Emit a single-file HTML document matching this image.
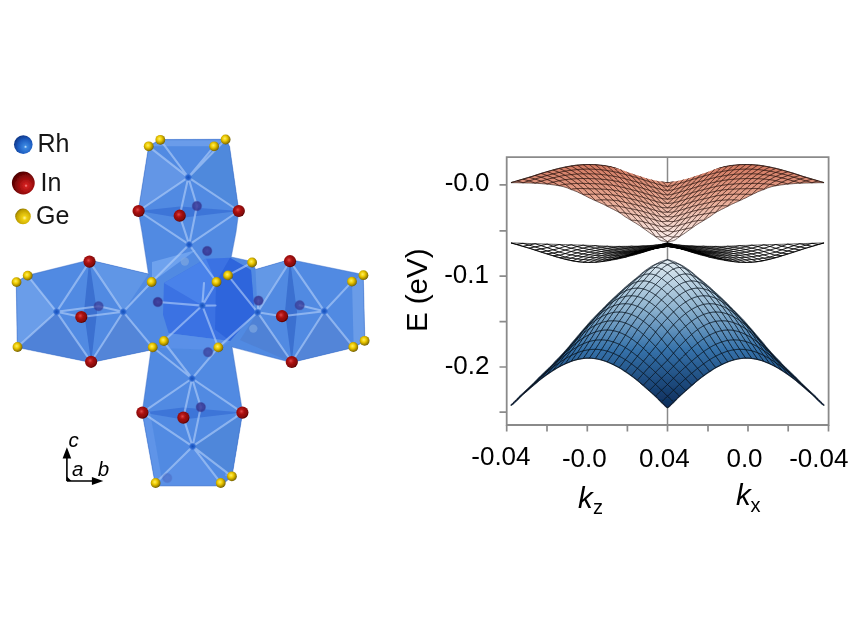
<!DOCTYPE html><html><head><meta charset="utf-8"><style>
html,body{margin:0;padding:0;background:#fff;width:858px;height:643px;overflow:hidden}
svg{display:block;font-family:"Liberation Sans",sans-serif}
</style></head><body>
<svg width="858" height="643" viewBox="0 0 858 643">
<defs><filter id="soft" x="0" y="0" width="858" height="643" filterUnits="userSpaceOnUse"><feGaussianBlur stdDeviation="0.45"/></filter></defs>
<rect width="858" height="643" fill="#fff"/>
<g filter="url(#soft)">
<defs>
<radialGradient id="ge" cx="0.42" cy="0.4" r="0.65"><stop offset="0" stop-color="#fff060"/><stop offset="0.4" stop-color="#ecc800"/><stop offset="0.85" stop-color="#8c7400"/><stop offset="1" stop-color="#504200"/></radialGradient>
<radialGradient id="in" cx="0.42" cy="0.4" r="0.65"><stop offset="0" stop-color="#e04848"/><stop offset="0.3" stop-color="#b01414"/><stop offset="0.75" stop-color="#850808"/><stop offset="1" stop-color="#460000"/></radialGradient>
<radialGradient id="inl" cx="0.62" cy="0.62" r="0.72"><stop offset="0" stop-color="#ff9090"/><stop offset="0.1" stop-color="#d02020"/><stop offset="0.5" stop-color="#960a0a"/><stop offset="1" stop-color="#3a0000"/></radialGradient>
<radialGradient id="rh" cx="0.62" cy="0.62" r="0.72"><stop offset="0" stop-color="#d0ecff"/><stop offset="0.12" stop-color="#3a86e0"/><stop offset="0.55" stop-color="#1d5cc0"/><stop offset="1" stop-color="#0a2c78"/></radialGradient>
<radialGradient id="gel" cx="0.6" cy="0.6" r="0.72"><stop offset="0" stop-color="#fff8a0"/><stop offset="0.2" stop-color="#f0d010"/><stop offset="0.7" stop-color="#c0a000"/><stop offset="1" stop-color="#6a5a00"/></radialGradient>
<radialGradient id="rhs" cx="0.5" cy="0.5" r="0.5"><stop offset="0" stop-color="#1850b8"/><stop offset="0.6" stop-color="#2a66d0"/><stop offset="1" stop-color="#2a66d0" stop-opacity="0.3"/></radialGradient>
<radialGradient id="pur" cx="0.5" cy="0.5" r="0.5"><stop offset="0" stop-color="#4040a0"/><stop offset="0.75" stop-color="#35358f"/><stop offset="1" stop-color="#35358f" stop-opacity="0.2"/></radialGradient>
<filter id="blur1" x="-20%" y="-20%" width="140%" height="140%"><feGaussianBlur stdDeviation="0.6"/></filter>
</defs><g filter="url(#blur1)"><path d="M148.7,146.3 160.3,139.6 225.6,139.3 229.5,146.5 238.8,211 236,232 231.2,257 251.8,261.5 255.5,269.5 289.9,259.5 363.2,274.5 364.8,341 353.7,347.5 291.6,362.5 232,347 242.6,412.6 231.9,476.5 220.7,485.8 155.6,485.8 142.2,412.6 151,350 91.2,362.5 17.3,347.3 16.3,282.1 27.7,275.3 89.3,260 148.5,274 142,232 138.3,211Z" fill="#518ae2" /><path d="M148.7,146.3 160.3,139.6 225.6,139.3 214,146.3Z" fill="#6a9cea" /><path d="M148.7,146.3 188.3,177.4 138.6,211Z" fill="#6396e6" /><path d="M225.6,139.3 229.5,146.5 238.8,211 188.3,177.4Z" fill="#5089dc" /><path d="M138.6,211 180,206.5 238.8,211 180,218Z" fill="#3e74d8" /><path d="M16.3,282.1 27.7,275.3 56.6,311.8 17.3,347.3Z" fill="#6a9de9" /><path d="M17.3,347.3 56.6,311.8 91.2,362.5Z" fill="#4f82d8" /><path d="M89.3,260 84,312 91.2,362.5 97,312Z" fill="#3a6fd0" /><path d="M91.2,362.5 123.2,311.8 151,350Z" fill="#5285d8" /><path d="M89.3,260 148.5,274 123.2,311.8Z" fill="#6196e6" /><path d="M352,281.6 363.2,274.5 364.8,341 353.7,347.5Z" fill="#6a9ce8" /><path d="M290,259.5 285,312 291.8,362.5 297,312Z" fill="#3a6fd0" /><path d="M291.8,362.5 324.3,311.2 353.7,347.5Z" fill="#5285d8" /><path d="M240,340 257.6,312.3 291.8,362.5Z" fill="#5082d6" /><path d="M255.5,269.5 290,259.5 257.6,312.3Z" fill="#6498e6" /><path d="M142.4,412.6 183,407.5 242.4,412.6 183,419.5Z" fill="#3e74d8" /><path d="M155.6,485.8 192.6,446.4 220.7,485.8Z" fill="#5a90e6" /><path d="M231.9,476.5 242.6,412.6 236,412 225,476Z" fill="#6a9cec" /><path d="M142.2,412.6 155.6,485.8 162,480 150,412Z" fill="#5e94e8" /><path d="M231.9,476.5 242.6,412.6 192.6,446.4Z" fill="#5087da" /><path d="M164,283 206,258.7 230,257.7 251,270 254.5,312.8 230,341 168.7,333.3 163,314.7Z" fill="#3b72e3" /><path d="M216,282 230,257.7 251,270 254.5,312.8 230,341 215,329.6Z" fill="#2f65dc" /><path d="M164,283 206,258.7 216,282 202.3,305.6Z" fill="#4a82ea" /><path d="M152,262 196,250 152,282Z" fill="#6ea2ee" /><path d="M168.7,333.3 230,341 218,350 160,348Z" fill="#5a90e8" /><path d="M148.7,146.3 160.3,139.6 225.6,139.3 229.5,146.5 238.8,211 236,232 231.2,257 251.8,261.5 255.5,269.5 289.9,259.5 363.2,274.5 364.8,341 353.7,347.5 291.6,362.5 232,347 242.6,412.6 231.9,476.5 220.7,485.8 155.6,485.8 142.2,412.6 151,350 91.2,362.5 17.3,347.3 16.3,282.1 27.7,275.3 89.3,260 148.5,274 142,232 138.3,211Z" fill="none" stroke="#3f6fc8" stroke-opacity="0.45" stroke-width="1.2" stroke-linejoin="round"/></g><path d="M188.3,177.4L148.7,146.3M188.3,177.4L160.3,139.8M188.3,177.4L214.1,146.3M188.3,177.4L225.6,139.5M188.3,177.4L138.6,211M188.3,177.4L179.7,215.7M188.3,177.4L238.8,211M188.3,177.4L196.9,206M189.2,244.6L138.6,211M189.2,244.6L179.7,215.7M189.2,244.6L238.8,211M189.2,244.6L151.6,282M189.2,244.6L216.5,282M189.2,244.6L196.9,206M202.3,305.6L216.5,282M202.3,305.6L163.9,341M202.3,305.6L157.8,302M202.3,305.6L218.3,347.4M202.3,305.6L204,283M202.3,305.6L215.5,305.5M189.2,244.6L151.6,282M189.2,244.6L216.5,282M151.6,282L189.2,244.6M216.5,282L189.2,244.6M218.3,347.4L257.6,312.3M228,275.4L257.6,312.3M252.1,262.5L228,275.4M56.6,311.8L27.7,275.6M56.6,311.8L17.5,347M56.6,311.8L89.5,261.6M56.6,311.8L81.3,317M56.6,311.8L91.1,361.8M56.6,311.8L98.6,306.2M123.2,311.8L89.5,261.6M123.2,311.8L81.3,317M123.2,311.8L91.1,361.8M123.2,311.8L151.6,282M123.2,311.8L152.7,347.3M123.2,311.8L98.6,306.2M257.6,312.3L290,261.2M257.6,312.3L282,316.2M257.6,312.3L291.8,362M257.6,312.3L218.3,347.4M257.6,312.3L258.5,300.6M324.3,311.2L290,261.2M324.3,311.2L282,316.2M324.3,311.2L291.8,362M324.3,311.2L352,281.6M324.3,311.2L353.3,347M324.3,311.2L299.7,305.2M192.1,378.5L152.7,347.3M192.1,378.5L164.3,342.5M192.1,378.5L218.3,347.4M192.1,378.5L142.4,412.6M192.1,378.5L183.4,417.6M192.1,378.5L242.4,412.6M192.1,378.5L200.8,407.1M192.6,446.4L142.4,412.6M192.6,446.4L183.4,417.6M192.6,446.4L242.4,412.6M192.6,446.4L155.6,483M192.6,446.4L220.7,483M192.6,446.4L231.9,476.3M192.6,446.4L200.8,407.1" stroke="#b4d0fa" stroke-opacity="0.6" stroke-width="2.1" stroke-linecap="round" fill="none" filter="url(#blur1)"/><circle cx="196.9" cy="206" r="5.4" fill="url(#pur)" opacity="0.85"/><circle cx="207.2" cy="251" r="5.4" fill="url(#pur)" opacity="0.9"/><circle cx="157.8" cy="302" r="5.4" fill="url(#pur)" opacity="0.95"/><circle cx="258.5" cy="300.6" r="5.4" fill="url(#pur)" opacity="0.85"/><circle cx="208" cy="352.2" r="5.4" fill="url(#pur)" opacity="0.7"/><circle cx="98.6" cy="306.2" r="5.4" fill="url(#pur)" opacity="0.7"/><circle cx="299.7" cy="305.2" r="5.4" fill="url(#pur)" opacity="0.75"/><circle cx="200.8" cy="407.1" r="5.4" fill="url(#pur)" opacity="0.85"/><circle cx="167.3" cy="478" r="5.4" fill="url(#pur)" opacity="0.25"/><circle cx="184.8" cy="261.5" r="4.2" fill="#7ea6e0" fill-opacity="0.7"/><circle cx="253.3" cy="328.6" r="4.2" fill="#7ea6e0" fill-opacity="0.7"/><circle cx="188.3" cy="177.4" r="3.6" fill="url(#rhs)"/><circle cx="189.2" cy="244.6" r="3.6" fill="url(#rhs)"/><circle cx="202.3" cy="305.6" r="3.6" fill="url(#rhs)"/><circle cx="257.6" cy="312.3" r="3.6" fill="url(#rhs)"/><circle cx="56.6" cy="311.8" r="3.6" fill="url(#rhs)"/><circle cx="123.2" cy="311.8" r="3.6" fill="url(#rhs)"/><circle cx="324.3" cy="311.2" r="3.6" fill="url(#rhs)"/><circle cx="192.1" cy="378.5" r="3.6" fill="url(#rhs)"/><circle cx="192.6" cy="446.4" r="3.6" fill="url(#rhs)"/><circle cx="138.6" cy="211" r="6.1" fill="url(#in)"/><circle cx="179.7" cy="215.7" r="6.1" fill="url(#in)"/><circle cx="238.8" cy="211" r="6.1" fill="url(#in)"/><circle cx="89.5" cy="261.6" r="6.1" fill="url(#in)"/><circle cx="81.3" cy="317" r="6.1" fill="url(#in)"/><circle cx="91.1" cy="361.8" r="6.1" fill="url(#in)"/><circle cx="290" cy="261.2" r="6.1" fill="url(#in)"/><circle cx="282" cy="316.2" r="6.1" fill="url(#in)"/><circle cx="291.8" cy="362" r="6.1" fill="url(#in)"/><circle cx="142.4" cy="412.6" r="6.1" fill="url(#in)"/><circle cx="183.4" cy="417.6" r="6.1" fill="url(#in)"/><circle cx="242.4" cy="412.6" r="6.1" fill="url(#in)"/><circle cx="148.7" cy="146.3" r="4.9" fill="url(#ge)"/><circle cx="160.3" cy="139.8" r="4.9" fill="url(#ge)"/><circle cx="214.1" cy="146.3" r="4.9" fill="url(#ge)"/><circle cx="225.6" cy="139.5" r="4.9" fill="url(#ge)"/><circle cx="151.6" cy="282" r="4.9" fill="url(#ge)"/><circle cx="216.5" cy="282" r="4.9" fill="url(#ge)"/><circle cx="228" cy="275.4" r="4.9" fill="url(#ge)"/><circle cx="252.1" cy="262.5" r="4.9" fill="url(#ge)"/><circle cx="163.9" cy="341" r="4.9" fill="url(#ge)"/><circle cx="152.7" cy="347.3" r="4.9" fill="url(#ge)"/><circle cx="218.3" cy="347.4" r="4.9" fill="url(#ge)"/><circle cx="16.5" cy="282.1" r="4.9" fill="url(#ge)"/><circle cx="27.7" cy="275.6" r="4.9" fill="url(#ge)"/><circle cx="17.5" cy="347" r="4.9" fill="url(#ge)"/><circle cx="352" cy="281.6" r="4.9" fill="url(#ge)"/><circle cx="363.4" cy="275.2" r="4.9" fill="url(#ge)"/><circle cx="353.3" cy="347" r="4.9" fill="url(#ge)"/><circle cx="364.6" cy="340.8" r="4.9" fill="url(#ge)"/><circle cx="155.6" cy="483" r="4.9" fill="url(#ge)"/><circle cx="220.7" cy="483" r="4.9" fill="url(#ge)"/><circle cx="231.9" cy="476.3" r="4.9" fill="url(#ge)"/><circle cx="23.3" cy="144.6" r="9.3" fill="url(#rh)"/><circle cx="23.3" cy="183" r="11.4" fill="url(#inl)"/><circle cx="23" cy="216.4" r="7.8" fill="url(#gel)"/><text x="37.5" y="152.2" font-size="25" fill="#151515">Rh</text><text x="40.5" y="191.3" font-size="25" fill="#151515">In</text><text x="36" y="224.2" font-size="25" fill="#151515">Ge</text><path d="M66.9,481V457 M66.9,481H92" stroke="#000" stroke-width="1.6" fill="none"/><path d="M66.9,447.3L62.6,458.4H71.2Z M103.3,481L91.9,476.9V485.1Z M66.9,476.5L71.5,481H66.9Z" fill="#000"/><text x="68.5" y="447.3" font-size="20.5" font-style="italic">c</text><text x="72" y="476.2" font-size="20.5" font-style="italic">a</text><text x="97.8" y="476.2" font-size="20.5" font-style="italic">b</text>
<defs>
<linearGradient id="gc" x1="0" y1="164" x2="0" y2="242" gradientUnits="userSpaceOnUse">
<stop offset="0" stop-color="#d27860"/><stop offset="0.45" stop-color="#e8a892"/><stop offset="1" stop-color="#fbf2f0"/></linearGradient>
<linearGradient id="gm" x1="0" y1="240" x2="0" y2="262" gradientUnits="userSpaceOnUse">
<stop offset="0" stop-color="#ffffff"/><stop offset="1" stop-color="#ffffff"/></linearGradient>
<linearGradient id="gv" x1="0" y1="260" x2="0" y2="409" gradientUnits="userSpaceOnUse">
<stop offset="0" stop-color="#e2ecf2"/><stop offset="0.3" stop-color="#95b8d2"/><stop offset="0.6" stop-color="#3672aa"/><stop offset="1" stop-color="#0a2a58"/></linearGradient>
</defs><path d="M506.7,157.2H828.6V425H506.7Z" fill="none" stroke="#8a8a8a" stroke-width="1.8"/><path d="M667.5,157.2V425" stroke="#8a8a8a" stroke-width="1.5"/><path d="M499.5,184.9 H506.7M499.5,230.9 H506.7M499.5,276.2 H506.7M499.5,321.6 H506.7M499.5,367 H506.7M499.5,412.2 H506.7M506.7,425 V431.5M547,425 V431.5M587.3,425 V431.5M627.4,425 V431.5M667.5,425 V431.5M708,425 V431.5M748,425 V431.5M788.2,425 V431.5M828.5,425 V431.5" stroke="#8a8a8a" stroke-width="1.7"/><clipPath id="clgc"><path d="M500,150 L511,150 L513,150 L515,150 L517,150 L519,150 L521,150 L523,150 L525,150 L527.1,150 L529.1,150 L531.1,150 L533.1,150 L535.1,150 L537.1,150 L539.1,150 L541.1,150 L543.1,150 L545.1,150 L547.1,150 L549.1,150 L551.1,150 L553.1,150 L555.1,150 L557.1,150 L559.2,150 L561.2,150 L563.2,150 L565.2,150 L567.2,150 L569.2,150 L571.2,150 L573.2,150 L575.2,150 L577.2,150 L579.2,150 L581.2,150 L583.2,150 L585.2,150 L587.2,150 L589.2,150 L591.3,163.7 L593.3,163.8 L595.3,163.9 L597.3,164 L599.3,164.2 L601.3,164.4 L603.3,164.7 L605.3,165 L607.3,165.4 L609.3,165.8 L611.3,166.3 L613.3,166.9 L615.3,167.6 L617.3,168.3 L619.3,169.1 L621.4,169.8 L623.4,170.5 L625.4,171.3 L627.4,172 L629.4,172.7 L631.4,173.3 L633.4,174 L635.4,174.7 L637.4,175.3 L639.4,176 L641.4,176.6 L643.4,177.3 L645.4,178 L647.4,178.6 L649.4,179.1 L651.4,179.5 L653.5,180 L655.5,180.4 L657.5,180.9 L659.5,181.3 L661.5,181.6 L663.5,181.8 L665.5,182.1 L667.5,182.3 L669.5,182.1 L671.5,181.8 L673.5,181.6 L675.5,181.3 L677.5,180.9 L679.5,180.4 L681.5,180 L683.6,179.5 L685.6,179.1 L687.6,178.6 L689.6,178 L691.6,177.3 L693.6,176.6 L695.6,176 L697.6,175.3 L699.6,174.7 L701.6,174 L703.6,173.3 L705.6,172.7 L707.6,172 L709.6,171.3 L711.6,170.5 L713.6,169.8 L715.7,169.1 L717.7,168.3 L719.7,167.6 L721.7,166.9 L723.7,166.3 L725.7,165.8 L727.7,165.4 L729.7,165 L731.7,164.7 L733.7,164.4 L735.7,164.2 L737.7,164 L739.7,163.9 L741.7,163.8 L743.7,163.7 L745.8,150 L747.8,150 L749.8,150 L751.8,150 L753.8,150 L755.8,150 L757.8,150 L759.8,150 L761.8,150 L763.8,150 L765.8,150 L767.8,150 L769.8,150 L771.8,150 L773.8,150 L775.8,150 L777.9,150 L779.9,150 L781.9,150 L783.9,150 L785.9,150 L787.9,150 L789.9,150 L791.9,150 L793.9,150 L795.9,150 L797.9,150 L799.9,150 L801.9,150 L803.9,150 L805.9,150 L807.9,150 L810,150 L812,150 L814,150 L816,150 L818,150 L820,150 L822,150 L824,150 L835,150 L835,255 L500,255Z"/></clipPath><g clip-path="url(#clgc)"><path d="M511,182.5 513,181.9 515,181.4 517,180.8 519,180.1 521,179.6 523,179 525,178.4 527.1,177.8 529.1,177.2 531.1,176.6 533.1,176 535.1,175.3 537.1,174.6 539.1,174 541.1,173.3 543.1,172.7 545.1,172.2 547.1,171.6 549.1,171 551.1,170.5 553.1,169.9 555.1,169.3 557.1,168.8 559.2,168.3 561.2,167.9 563.2,167.4 565.2,167 567.2,166.6 569.2,166.3 571.2,165.9 573.2,165.6 575.2,165.3 577.2,165.1 579.2,164.9 581.2,164.8 583.2,164.6 585.2,164.6 587.2,164.5 589.2,164.5 591.3,164.5 593.3,164.6 595.3,164.6 597.3,164.8 599.3,164.9 601.3,165.1 603.3,165.3 605.3,165.6 607.3,165.9 609.3,166.3 611.3,166.6 613.3,167 615.3,167.4 617.3,167.9 619.3,168.3 621.4,168.8 623.4,169.3 625.4,169.9 627.4,170.5 629.4,171 631.4,171.6 633.4,172.2 635.4,172.7 637.4,173.3 639.4,173.9 641.4,174.5 643.4,175.3 645.4,175.9 647.4,176.5 649.4,177.1 651.4,177.8 653.5,178.4 655.5,179 657.5,179.6 659.5,180.1 661.5,180.8 663.5,181.4 665.5,181.9 667.5,182.5 669.5,181.9 671.5,181.4 673.5,180.8 675.5,180.1 677.5,179.6 679.5,179 681.5,178.4 683.6,177.8 685.6,177.1 687.6,176.5 689.6,175.9 691.6,175.3 693.6,174.5 695.6,173.9 697.6,173.3 699.6,172.7 701.6,172.2 703.6,171.6 705.6,171 707.6,170.5 709.6,169.9 711.6,169.3 713.6,168.8 715.7,168.3 717.7,167.9 719.7,167.4 721.7,167 723.7,166.6 725.7,166.3 727.7,165.9 729.7,165.6 731.7,165.3 733.7,165.1 735.7,164.9 737.7,164.8 739.7,164.6 741.7,164.6 743.7,164.5 745.8,164.5 747.8,164.5 749.8,164.6 751.8,164.6 753.8,164.8 755.8,164.9 757.8,165.1 759.8,165.3 761.8,165.6 763.8,165.9 765.8,166.3 767.8,166.6 769.8,167 771.8,167.4 773.8,167.9 775.8,168.3 777.9,168.8 779.9,169.3 781.9,169.9 783.9,170.5 785.9,171 787.9,171.6 789.9,172.2 791.9,172.7 793.9,173.3 795.9,174 797.9,174.6 799.9,175.3 801.9,176 803.9,176.6 805.9,177.2 807.9,177.8 810,178.4 812,179 814,179.6 816,180.1 818,180.8 820,181.4 822,181.9 824,182.5 824,182.7 822,182.7 820,182.7 818,182.7 816,182.8 814,182.8 812,182.9 810,182.9 807.9,183 805.9,183 803.9,183.1 801.9,183.2 799.9,183.2 797.9,183.3 795.9,183.5 793.9,183.6 791.9,183.8 789.9,183.9 787.9,184.1 785.9,184.3 783.9,184.6 781.9,184.8 779.9,185.1 777.9,185.5 775.8,185.7 773.8,186.2 771.8,186.6 769.8,187.3 767.8,187.8 765.8,188.7 763.8,189.6 761.8,190.2 759.8,191.1 757.8,191.8 755.8,192.9 753.8,193.7 751.8,194.8 749.8,195.7 747.8,196.8 745.8,197.9 743.7,198.7 741.7,199.8 739.7,200.6 737.7,201.6 735.7,202.4 733.7,203.4 731.7,204.2 729.7,205.3 727.7,206.4 725.7,207.3 723.7,208.4 721.7,209.3 719.7,210.4 717.7,211.4 715.7,212.6 713.6,213.9 711.6,215.5 709.6,216.9 707.6,218.1 705.6,219.4 703.6,220.5 701.6,221.8 699.6,222.9 697.6,224.2 695.6,225.4 693.6,226.9 691.6,228.3 689.6,229.7 687.6,231.2 685.6,232.6 683.6,234 681.5,235.3 679.5,236.7 677.5,238 675.5,239.7 673.5,240.7 671.5,241.1 669.5,241.4 667.5,241.5 665.5,241.4 663.5,241.1 661.5,240.7 659.5,239.7 657.5,238 655.5,236.7 653.5,235.3 651.4,234 649.4,232.6 647.4,231.2 645.4,229.7 643.4,228.3 641.4,226.9 639.4,225.4 637.4,224.2 635.4,222.9 633.4,221.8 631.4,220.5 629.4,219.4 627.4,218.1 625.4,216.9 623.4,215.5 621.4,213.9 619.3,212.6 617.3,211.4 615.3,210.4 613.3,209.3 611.3,208.4 609.3,207.3 607.3,206.4 605.3,205.3 603.3,204.2 601.3,203.4 599.3,202.4 597.3,201.6 595.3,200.6 593.3,199.8 591.3,198.7 589.2,197.9 587.2,196.8 585.2,195.7 583.2,194.8 581.2,193.7 579.2,192.9 577.2,191.8 575.2,191.1 573.2,190.2 571.2,189.6 569.2,188.7 567.2,187.8 565.2,187.3 563.2,186.6 561.2,186.2 559.2,185.7 557.1,185.5 555.1,185.1 553.1,184.8 551.1,184.6 549.1,184.3 547.1,184.1 545.1,183.9 543.1,183.8 541.1,183.6 539.1,183.5 537.1,183.3 535.1,183.2 533.1,183.2 531.1,183.1 529.1,183 527.1,183 525,182.9 523,182.9 521,182.8 519,182.8 517,182.7 515,182.7 513,182.7 511,182.7Z" fill="url(#gc)"/><path d="M511,182.7 511,182.7M824,182.7 824,182.7M523,182.8 522,182.4 521,182.1 520,181.8 519,181.5 518,181.2 517,180.9M812,182.8 813,182.4 814,182.1 815,181.8 816,181.5 817,181.2 818,180.9M535.1,183.2 534.1,182.7 533.1,182.3 532.1,182 531.1,181.6 530.1,181.2 529.1,180.9 528.1,180.6 527.1,180.3 526,180 525,179.7 524,179.4 523,179.2M799.9,183.2 800.9,182.7 801.9,182.3 802.9,182 803.9,181.6 804.9,181.2 805.9,180.9 806.9,180.6 807.9,180.3 809,180 810,179.7 811,179.4 812,179.2M547.1,184.1 546.1,183.5 545.1,183 544.1,182.5 543.1,182 542.1,181.6 541.1,181.2 540.1,180.8 539.1,180.4 538.1,180.1 537.1,179.7 536.1,179.4 535.1,179.1 534.1,178.7 533.1,178.4 532.1,178.2 531.1,177.9 530.1,177.6 529.1,177.3M787.9,184.1 788.9,183.5 789.9,183 790.9,182.5 791.9,182 792.9,181.6 793.9,181.2 794.9,180.8 795.9,180.4 796.9,180.1 797.9,179.7 798.9,179.4 799.9,179.1 800.9,178.7 801.9,178.4 802.9,178.2 803.9,177.9 804.9,177.6 805.9,177.3M559.2,185.7 558.2,185 557.1,184.4 556.1,183.9 555.1,183.2 554.1,182.7 553.1,182.2 552.1,181.8 551.1,181.2 550.1,180.8 549.1,180.4 548.1,179.9 547.1,179.5 546.1,179.1 545.1,178.7 544.1,178.3 543.1,177.9 542.1,177.6 541.1,177.2 540.1,176.9 539.1,176.6 538.1,176.3 537.1,176 536.1,175.7 535.1,175.5M775.8,185.7 776.8,185 777.9,184.4 778.9,183.9 779.9,183.2 780.9,182.7 781.9,182.2 782.9,181.8 783.9,181.2 784.9,180.8 785.9,180.4 786.9,179.9 787.9,179.5 788.9,179.1 789.9,178.7 790.9,178.3 791.9,177.9 792.9,177.6 793.9,177.2 794.9,176.9 795.9,176.6 796.9,176.3 797.9,176 798.9,175.7 799.9,175.5M571.2,189.3 570.2,188.4 569.2,187.3 568.2,186.6 567.2,185.9 566.2,184.9 565.2,184.3 564.2,183.7 563.2,183 562.2,182.3 561.2,181.8 560.2,181.3 559.2,180.8 558.2,180.2 557.1,179.8 556.1,179.3 555.1,178.8 554.1,178.3 553.1,177.9 552.1,177.5 551.1,177 550.1,176.6 549.1,176.3 548.1,175.9 547.1,175.5 546.1,175.2 545.1,174.8 544.1,174.5 543.1,174.1 542.1,173.8 541.1,173.5M763.8,189.3 764.8,188.4 765.8,187.3 766.8,186.6 767.8,185.9 768.8,184.9 769.8,184.3 770.8,183.7 771.8,183 772.8,182.3 773.8,181.8 774.8,181.3 775.8,180.8 776.8,180.2 777.9,179.8 778.9,179.3 779.9,178.8 780.9,178.3 781.9,177.9 782.9,177.5 783.9,177 784.9,176.6 785.9,176.3 786.9,175.9 787.9,175.5 788.9,175.2 789.9,174.8 790.9,174.5 791.9,174.1 792.9,173.8 793.9,173.5M583.2,194.5 582.2,193.4 581.2,192.4 580.2,191.3 579.2,190.4 578.2,189.5 577.2,188.7 576.2,187.7 575.2,186.9 574.2,186.2 573.2,185.2 572.2,184.5 571.2,183.8 570.2,183.1 569.2,182.3 568.2,181.6 567.2,181 566.2,180.2 565.2,179.6 564.2,179.1 563.2,178.5 562.2,177.9 561.2,177.4 560.2,176.9 559.2,176.5 558.2,176 557.1,175.6 556.1,175.1 555.1,174.7 554.1,174.3 553.1,173.9 552.1,173.5 551.1,173.1 550.1,172.7 549.1,172.4 548.1,172.1 547.1,171.7M751.8,194.5 752.8,193.4 753.8,192.4 754.8,191.3 755.8,190.4 756.8,189.5 757.8,188.7 758.8,187.7 759.8,186.9 760.8,186.2 761.8,185.2 762.8,184.5 763.8,183.8 764.8,183.1 765.8,182.3 766.8,181.6 767.8,181 768.8,180.2 769.8,179.6 770.8,179.1 771.8,178.5 772.8,177.9 773.8,177.4 774.8,176.9 775.8,176.5 776.8,176 777.9,175.6 778.9,175.1 779.9,174.7 780.9,174.3 781.9,173.9 782.9,173.5 783.9,173.1 784.9,172.7 785.9,172.4 786.9,172.1 787.9,171.7M595.3,200.5 594.3,199.2 593.3,198.2 592.3,197.3 591.3,196.1 590.3,195.2 589.2,194.3 588.2,193.4 587.2,192.3 586.2,191.4 585.2,190.5 584.2,189.4 583.2,188.5 582.2,187.7 581.2,186.9 580.2,185.8 579.2,185.1 578.2,184.3 577.2,183.5 576.2,182.6 575.2,181.9 574.2,181.2 573.2,180.4 572.2,179.7 571.2,179.1 570.2,178.4 569.2,177.7 568.2,177.1 567.2,176.5 566.2,175.9 565.2,175.3 564.2,174.8 563.2,174.3 562.2,173.8 561.2,173.3 560.2,172.8 559.2,172.4 558.2,172 557.1,171.6 556.1,171.1 555.1,170.8 554.1,170.4 553.1,170M739.7,200.5 740.7,199.2 741.7,198.2 742.7,197.3 743.7,196.1 744.7,195.2 745.8,194.3 746.8,193.4 747.8,192.3 748.8,191.4 749.8,190.5 750.8,189.4 751.8,188.5 752.8,187.7 753.8,186.9 754.8,185.8 755.8,185.1 756.8,184.3 757.8,183.5 758.8,182.6 759.8,181.9 760.8,181.2 761.8,180.4 762.8,179.7 763.8,179.1 764.8,178.4 765.8,177.7 766.8,177.1 767.8,176.5 768.8,175.9 769.8,175.3 770.8,174.8 771.8,174.3 772.8,173.8 773.8,173.3 774.8,172.8 775.8,172.4 776.8,172 777.9,171.6 778.9,171.1 779.9,170.8 780.9,170.4 781.9,170M607.3,206 606.3,205 605.3,203.7 604.3,202.8 603.3,201.8 602.3,200.9 601.3,199.8 600.3,198.8 599.3,198 598.3,196.9 597.3,196 596.3,195.1 595.3,194.3 594.3,193.2 593.3,192.4 592.3,191.5 591.3,190.4 590.3,189.6 589.2,188.7 588.2,187.9 587.2,186.9 586.2,186 585.2,185.2 584.2,184.2 583.2,183.4 582.2,182.6 581.2,181.8 580.2,180.9 579.2,180.1 578.2,179.4 577.2,178.7 576.2,177.9 575.2,177.2 574.2,176.6 573.2,175.8 572.2,175.2 571.2,174.6 570.2,174 569.2,173.3 568.2,172.8 567.2,172.2 566.2,171.7 565.2,171.1 564.2,170.7 563.2,170.2 562.2,169.7 561.2,169.3 560.2,168.9 559.2,168.4M727.7,206 728.7,205 729.7,203.7 730.7,202.8 731.7,201.8 732.7,200.9 733.7,199.8 734.7,198.8 735.7,198 736.7,196.9 737.7,196 738.7,195.1 739.7,194.3 740.7,193.2 741.7,192.4 742.7,191.5 743.7,190.4 744.7,189.6 745.8,188.7 746.8,187.9 747.8,186.9 748.8,186 749.8,185.2 750.8,184.2 751.8,183.4 752.8,182.6 753.8,181.8 754.8,180.9 755.8,180.1 756.8,179.4 757.8,178.7 758.8,177.9 759.8,177.2 760.8,176.6 761.8,175.8 762.8,175.2 763.8,174.6 764.8,174 765.8,173.3 766.8,172.8 767.8,172.2 768.8,171.7 769.8,171.1 770.8,170.7 771.8,170.2 772.8,169.7 773.8,169.3 774.8,168.9 775.8,168.4M619.3,212.3 618.3,211 617.3,210 616.3,208.8 615.3,207.8 614.3,206.8 613.3,205.9 612.3,204.7 611.3,203.8 610.3,202.8 609.3,201.7 608.3,200.8 607.3,199.9 606.3,199 605.3,197.9 604.3,197 603.3,196.1 602.3,195.3 601.3,194.2 600.3,193.3 599.3,192.5 598.3,191.4 597.3,190.6 596.3,189.7 595.3,188.9 594.3,187.9 593.3,187.1 592.3,186.2 591.3,185.2 590.3,184.4 589.2,183.6 588.2,182.8 587.2,181.8 586.2,181 585.2,180.2 584.2,179.3 583.2,178.5 582.2,177.7 581.2,177 580.2,176.2 579.2,175.4 578.2,174.7 577.2,174.1 576.2,173.3 575.2,172.7 574.2,172.1 573.2,171.4 572.2,170.8 571.2,170.3 570.2,169.7 569.2,169.1 568.2,168.6 567.2,168.1 566.2,167.6 565.2,167.1M715.7,212.3 716.7,211 717.7,210 718.7,208.8 719.7,207.8 720.7,206.8 721.7,205.9 722.7,204.7 723.7,203.8 724.7,202.8 725.7,201.7 726.7,200.8 727.7,199.9 728.7,199 729.7,197.9 730.7,197 731.7,196.1 732.7,195.3 733.7,194.2 734.7,193.3 735.7,192.5 736.7,191.4 737.7,190.6 738.7,189.7 739.7,188.9 740.7,187.9 741.7,187.1 742.7,186.2 743.7,185.2 744.7,184.4 745.8,183.6 746.8,182.8 747.8,181.8 748.8,181 749.8,180.2 750.8,179.3 751.8,178.5 752.8,177.7 753.8,177 754.8,176.2 755.8,175.4 756.8,174.7 757.8,174.1 758.8,173.3 759.8,172.7 760.8,172.1 761.8,171.4 762.8,170.8 763.8,170.3 764.8,169.7 765.8,169.1 766.8,168.6 767.8,168.1 768.8,167.6 769.8,167.1M631.4,220.3 630.4,218.9 629.4,217.9 628.4,216.7 627.4,215.4 626.4,214.3 625.4,213.1 624.4,212.1 623.4,210.8 622.4,209.7 621.4,208.5 620.3,207.5 619.3,206.2 618.3,205.2 617.3,204.2 616.3,203.1 615.3,202.2 614.3,201.2 613.3,200.3 612.3,199.2 611.3,198.4 610.3,197.4 609.3,196.3 608.3,195.5 607.3,194.5 606.3,193.7 605.3,192.6 604.3,191.8 603.3,190.9 602.3,190 601.3,189 600.3,188.1 599.3,187.3 598.3,186.3 597.3,185.5 596.3,184.6 595.3,183.8 594.3,182.8 593.3,182 592.3,181.2 591.3,180.2 590.3,179.4 589.2,178.6 588.2,177.8 587.2,176.9 586.2,176.2 585.2,175.4 584.2,174.5 583.2,173.8 582.2,173 581.2,172.3 580.2,171.6 579.2,170.9 578.2,170.2 577.2,169.6 576.2,168.9 575.2,168.3 574.2,167.7 573.2,167.1 572.2,166.5 571.2,166M703.6,220.3 704.6,218.9 705.6,217.9 706.6,216.7 707.6,215.4 708.6,214.3 709.6,213.1 710.6,212.1 711.6,210.8 712.6,209.7 713.6,208.5 714.7,207.5 715.7,206.2 716.7,205.2 717.7,204.2 718.7,203.1 719.7,202.2 720.7,201.2 721.7,200.3 722.7,199.2 723.7,198.4 724.7,197.4 725.7,196.3 726.7,195.5 727.7,194.5 728.7,193.7 729.7,192.6 730.7,191.8 731.7,190.9 732.7,190 733.7,189 734.7,188.1 735.7,187.3 736.7,186.3 737.7,185.5 738.7,184.6 739.7,183.8 740.7,182.8 741.7,182 742.7,181.2 743.7,180.2 744.7,179.4 745.8,178.6 746.8,177.8 747.8,176.9 748.8,176.2 749.8,175.4 750.8,174.5 751.8,173.8 752.8,173 753.8,172.3 754.8,171.6 755.8,170.9 756.8,170.2 757.8,169.6 758.8,168.9 759.8,168.3 760.8,167.7 761.8,167.1 762.8,166.5 763.8,166M643.4,227.8 642.4,226.6 641.4,225.2 640.4,224.1 639.4,222.9 638.4,221.9 637.4,220.6 636.4,219.5 635.4,218.5 634.4,217.3 633.4,216.3 632.4,215.2 631.4,214.2 630.4,213 629.4,212.1 628.4,210.9 627.4,209.7 626.4,208.7 625.4,207.6 624.4,206.6 623.4,205.3 622.4,204.3 621.4,203.2 620.3,202.2 619.3,201 618.3,200 617.3,199 616.3,197.9 615.3,197 614.3,196.1 613.3,195.2 612.3,194.1 611.3,193.2 610.3,192.3 609.3,191.3 608.3,190.4 607.3,189.5 606.3,188.6 605.3,187.6 604.3,186.7 603.3,185.8 602.3,185 601.3,184 600.3,183.1 599.3,182.3 598.3,181.3 597.3,180.5 596.3,179.7 595.3,178.8 594.3,177.9 593.3,177.1 592.3,176.3 591.3,175.4 590.3,174.6 589.2,173.8 588.2,173 587.2,172.2 586.2,171.4 585.2,170.7 584.2,169.9 583.2,169.2 582.2,168.5 581.2,167.8 580.2,167.1 579.2,166.4 578.2,165.8 577.2,165.2M691.6,227.8 692.6,226.6 693.6,225.2 694.6,224.1 695.6,222.9 696.6,221.9 697.6,220.6 698.6,219.5 699.6,218.5 700.6,217.3 701.6,216.3 702.6,215.2 703.6,214.2 704.6,213 705.6,212.1 706.6,210.9 707.6,209.7 708.6,208.7 709.6,207.6 710.6,206.6 711.6,205.3 712.6,204.3 713.6,203.2 714.7,202.2 715.7,201 716.7,200 717.7,199 718.7,197.9 719.7,197 720.7,196.1 721.7,195.2 722.7,194.1 723.7,193.2 724.7,192.3 725.7,191.3 726.7,190.4 727.7,189.5 728.7,188.6 729.7,187.6 730.7,186.7 731.7,185.8 732.7,185 733.7,184 734.7,183.1 735.7,182.3 736.7,181.3 737.7,180.5 738.7,179.7 739.7,178.8 740.7,177.9 741.7,177.1 742.7,176.3 743.7,175.4 744.7,174.6 745.8,173.8 746.8,173 747.8,172.2 748.8,171.4 749.8,170.7 750.8,169.9 751.8,169.2 752.8,168.5 753.8,167.8 754.8,167.1 755.8,166.4 756.8,165.8 757.8,165.2M655.5,236.4 654.5,235.2 653.5,233.9 652.5,232.5 651.4,231.4 650.4,230.1 649.4,229 648.4,227.7 647.4,226.6 646.4,225.3 645.4,224.3 644.4,223 643.4,221.7 642.4,220.7 641.4,219.5 640.4,218.5 639.4,217.3 638.4,216.3 637.4,215.1 636.4,214 635.4,213.1 634.4,211.9 633.4,210.9 632.4,209.9 631.4,208.9 630.4,207.8 629.4,206.8 628.4,205.7 627.4,204.5 626.4,203.6 625.4,202.5 624.4,201.5 623.4,200.3 622.4,199.2 621.4,198.1 620.3,197.1 619.3,196 618.3,195 617.3,194.1 616.3,193 615.3,192.1 614.3,191.1 613.3,190.2 612.3,189.2 611.3,188.3 610.3,187.4 609.3,186.4 608.3,185.5 607.3,184.6 606.3,183.7 605.3,182.7 604.3,181.9 603.3,181 602.3,180.1 601.3,179.1 600.3,178.3 599.3,177.4 598.3,176.5 597.3,175.7 596.3,174.9 595.3,174 594.3,173.2 593.3,172.3 592.3,171.5 591.3,170.7 590.3,169.9 589.2,169.1 588.2,168.4 587.2,167.6 586.2,166.8 585.2,166.1 584.2,165.4 583.2,164.7M679.5,236.4 680.5,235.2 681.5,233.9 682.5,232.5 683.6,231.4 684.6,230.1 685.6,229 686.6,227.7 687.6,226.6 688.6,225.3 689.6,224.3 690.6,223 691.6,221.7 692.6,220.7 693.6,219.5 694.6,218.5 695.6,217.3 696.6,216.3 697.6,215.1 698.6,214 699.6,213.1 700.6,211.9 701.6,210.9 702.6,209.9 703.6,208.9 704.6,207.8 705.6,206.8 706.6,205.7 707.6,204.5 708.6,203.6 709.6,202.5 710.6,201.5 711.6,200.3 712.6,199.2 713.6,198.1 714.7,197.1 715.7,196 716.7,195 717.7,194.1 718.7,193 719.7,192.1 720.7,191.1 721.7,190.2 722.7,189.2 723.7,188.3 724.7,187.4 725.7,186.4 726.7,185.5 727.7,184.6 728.7,183.7 729.7,182.7 730.7,181.9 731.7,181 732.7,180.1 733.7,179.1 734.7,178.3 735.7,177.4 736.7,176.5 737.7,175.7 738.7,174.9 739.7,174 740.7,173.2 741.7,172.3 742.7,171.5 743.7,170.7 744.7,169.9 745.8,169.1 746.8,168.4 747.8,167.6 748.8,166.8 749.8,166.1 750.8,165.4 751.8,164.7M667.5,241.5 666.5,240.8 665.5,240.2 664.5,239.5 663.5,238.8 662.5,238 661.5,237.1 660.5,236.2 659.5,234.9 658.5,233.9 657.5,232.6 656.5,231.5 655.5,230.3 654.5,229.3 653.5,228.1 652.5,226.8 651.4,225.8 650.4,224.5 649.4,223.5 648.4,222.2 647.4,221.2 646.4,220 645.4,218.9 644.4,217.7 643.4,216.5 642.4,215.5 641.4,214.3 640.4,213.3 639.4,212.2 638.4,211.2 637.4,210 636.4,208.9 635.4,208 634.4,206.9 633.4,205.9 632.4,204.8 631.4,203.9 630.4,202.8 629.4,201.8 628.4,200.7 627.4,199.6 626.4,198.6 625.4,197.5 624.4,196.5 623.4,195.4 622.4,194.4 621.4,193.3 620.3,192.3 619.3,191.2 618.3,190.2 617.3,189.2 616.3,188.2 615.3,187.3 614.3,186.3 613.3,185.4 612.3,184.4 611.3,183.5 610.3,182.6 609.3,181.6 608.3,180.7 607.3,179.8 606.3,178.9 605.3,178 604.3,177.1 603.3,176.2 602.3,175.3 601.3,174.4 600.3,173.6 599.3,172.7 598.3,171.8 597.3,171 596.3,170.1 595.3,169.3 594.3,168.5 593.3,167.7 592.3,166.9 591.3,166.1 590.3,165.3 589.2,164.5M667.5,241.5 668.5,240.8 669.5,240.2 670.5,239.5 671.5,238.8 672.5,238 673.5,237.1 674.5,236.2 675.5,234.9 676.5,233.9 677.5,232.6 678.5,231.5 679.5,230.3 680.5,229.3 681.5,228.1 682.5,226.8 683.6,225.8 684.6,224.5 685.6,223.5 686.6,222.2 687.6,221.2 688.6,220 689.6,218.9 690.6,217.7 691.6,216.5 692.6,215.5 693.6,214.3 694.6,213.3 695.6,212.2 696.6,211.2 697.6,210 698.6,208.9 699.6,208 700.6,206.9 701.6,205.9 702.6,204.8 703.6,203.9 704.6,202.8 705.6,201.8 706.6,200.7 707.6,199.6 708.6,198.6 709.6,197.5 710.6,196.5 711.6,195.4 712.6,194.4 713.6,193.3 714.7,192.3 715.7,191.2 716.7,190.2 717.7,189.2 718.7,188.2 719.7,187.3 720.7,186.3 721.7,185.4 722.7,184.4 723.7,183.5 724.7,182.6 725.7,181.6 726.7,180.7 727.7,179.8 728.7,178.9 729.7,178 730.7,177.1 731.7,176.2 732.7,175.3 733.7,174.4 734.7,173.6 735.7,172.7 736.7,171.8 737.7,171 738.7,170.1 739.7,169.3 740.7,168.5 741.7,167.7 742.7,166.9 743.7,166.1 744.7,165.3 745.8,164.5M679.5,236.4 678.5,236.6 677.5,236.5 676.5,236.8 675.5,236.9 674.5,237.2 673.5,237.1 672.5,237 671.5,236.9 670.5,236.6 669.5,236.3 668.5,236 667.5,235.6 666.5,235.1 665.5,234.5 664.5,233.9 663.5,233.2 662.5,232.4 661.5,231.6 660.5,230.7 659.5,229.5 658.5,228.4 657.5,227.2 656.5,226.2 655.5,225 654.5,224 653.5,222.8 652.5,221.6 651.4,220.6 650.4,219.4 649.4,218.4 648.4,217.1 647.4,216.1 646.4,214.9 645.4,213.9 644.4,212.7 643.4,211.5 642.4,210.5 641.4,209.3 640.4,208.3 639.4,207.3 638.4,206.3 637.4,205.1 636.4,204.1 635.4,203.1 634.4,202 633.4,201 632.4,200 631.4,199 630.4,197.9 629.4,196.9 628.4,195.9 627.4,194.8 626.4,193.8 625.4,192.7 624.4,191.7 623.4,190.6 622.4,189.6 621.4,188.6 620.3,187.6 619.3,186.5 618.3,185.5 617.3,184.5 616.3,183.5 615.3,182.6 614.3,181.7 613.3,180.7 612.3,179.8 611.3,178.8 610.3,177.9 609.3,177 608.3,176 607.3,175.2 606.3,174.2 605.3,173.3 604.3,172.4 603.3,171.6 602.3,170.7 601.3,169.7 600.3,168.9 599.3,168 598.3,167.2 597.3,166.3 596.3,165.5 595.3,164.7M655.5,236.4 656.5,236.6 657.5,236.5 658.5,236.8 659.5,236.9 660.5,237.2 661.5,237.1 662.5,237 663.5,236.9 664.5,236.6 665.5,236.3 666.5,236 667.5,235.6 668.5,235.1 669.5,234.5 670.5,233.9 671.5,233.2 672.5,232.4 673.5,231.6 674.5,230.7 675.5,229.5 676.5,228.4 677.5,227.2 678.5,226.2 679.5,225 680.5,224 681.5,222.8 682.5,221.6 683.6,220.6 684.6,219.4 685.6,218.4 686.6,217.1 687.6,216.1 688.6,214.9 689.6,213.9 690.6,212.7 691.6,211.5 692.6,210.5 693.6,209.3 694.6,208.3 695.6,207.3 696.6,206.3 697.6,205.1 698.6,204.1 699.6,203.1 700.6,202 701.6,201 702.6,200 703.6,199 704.6,197.9 705.6,196.9 706.6,195.9 707.6,194.8 708.6,193.8 709.6,192.7 710.6,191.7 711.6,190.6 712.6,189.6 713.6,188.6 714.7,187.6 715.7,186.5 716.7,185.5 717.7,184.5 718.7,183.5 719.7,182.6 720.7,181.7 721.7,180.7 722.7,179.8 723.7,178.8 724.7,177.9 725.7,177 726.7,176 727.7,175.2 728.7,174.2 729.7,173.3 730.7,172.4 731.7,171.6 732.7,170.7 733.7,169.7 734.7,168.9 735.7,168 736.7,167.2 737.7,166.3 738.7,165.5 739.7,164.7M691.6,227.8 690.6,227.9 689.6,228.2 688.6,228.3 687.6,228.6 686.6,228.7 685.6,229 684.6,229.1 683.6,229.4 682.5,229.5 681.5,229.9 680.5,230.2 679.5,230.3 678.5,230.6 677.5,230.7 676.5,231.1 675.5,231.2 674.5,231.5 673.5,231.6 672.5,231.6 671.5,231.5 670.5,231.3 669.5,231.1 668.5,230.9 667.5,230.6 666.5,230 665.5,229.4 664.5,228.8 663.5,228.1 662.5,227.3 661.5,226.4 660.5,225.5 659.5,224.4 658.5,223.3 657.5,222.1 656.5,221.1 655.5,220 654.5,219 653.5,217.8 652.5,216.6 651.4,215.6 650.4,214.5 649.4,213.4 648.4,212.2 647.4,211.2 646.4,210.1 645.4,209 644.4,207.8 643.4,206.7 642.4,205.7 641.4,204.6 640.4,203.6 639.4,202.5 638.4,201.5 637.4,200.4 636.4,199.3 635.4,198.3 634.4,197.3 633.4,196.3 632.4,195.3 631.4,194.3 630.4,193.2 629.4,192.2 628.4,191.1 627.4,190.1 626.4,189.1 625.4,188.1 624.4,187 623.4,186 622.4,184.9 621.4,183.9 620.3,182.9 619.3,181.8 618.3,180.9 617.3,179.9 616.3,179 615.3,178 614.3,177.1 613.3,176.1 612.3,175.2 611.3,174.2 610.3,173.3 609.3,172.4 608.3,171.4 607.3,170.6 606.3,169.6 605.3,168.7 604.3,167.8 603.3,167 602.3,166.1 601.3,165.2M643.4,227.8 644.4,227.9 645.4,228.2 646.4,228.3 647.4,228.6 648.4,228.7 649.4,229 650.4,229.1 651.4,229.4 652.5,229.5 653.5,229.9 654.5,230.2 655.5,230.3 656.5,230.6 657.5,230.7 658.5,231.1 659.5,231.2 660.5,231.5 661.5,231.6 662.5,231.6 663.5,231.5 664.5,231.3 665.5,231.1 666.5,230.9 667.5,230.6 668.5,230 669.5,229.4 670.5,228.8 671.5,228.1 672.5,227.3 673.5,226.4 674.5,225.5 675.5,224.4 676.5,223.3 677.5,222.1 678.5,221.1 679.5,220 680.5,219 681.5,217.8 682.5,216.6 683.6,215.6 684.6,214.5 685.6,213.4 686.6,212.2 687.6,211.2 688.6,210.1 689.6,209 690.6,207.8 691.6,206.7 692.6,205.7 693.6,204.6 694.6,203.6 695.6,202.5 696.6,201.5 697.6,200.4 698.6,199.3 699.6,198.3 700.6,197.3 701.6,196.3 702.6,195.3 703.6,194.3 704.6,193.2 705.6,192.2 706.6,191.1 707.6,190.1 708.6,189.1 709.6,188.1 710.6,187 711.6,186 712.6,184.9 713.6,183.9 714.7,182.9 715.7,181.8 716.7,180.9 717.7,179.9 718.7,179 719.7,178 720.7,177.1 721.7,176.1 722.7,175.2 723.7,174.2 724.7,173.3 725.7,172.4 726.7,171.4 727.7,170.6 728.7,169.6 729.7,168.7 730.7,167.8 731.7,167 732.7,166.1 733.7,165.2M703.6,220.3 702.6,220.2 701.6,220.3 700.6,220.2 699.6,220.5 698.6,220.4 697.6,220.6 696.6,220.9 695.6,221 694.6,221.2 693.6,221.3 692.6,221.6 691.6,221.7 690.6,222.1 689.6,222.5 688.6,222.6 687.6,222.9 686.6,223.1 685.6,223.5 684.6,223.7 683.6,224 682.5,224.2 681.5,224.5 680.5,224.9 679.5,225 678.5,225.3 677.5,225.5 676.5,225.9 675.5,226 674.5,226.3 673.5,226.4 672.5,226.4 671.5,226.4 670.5,226.3 669.5,226.2 668.5,226 667.5,225.8 666.5,225.2 665.5,224.5 664.5,223.9 663.5,223.1 662.5,222.3 661.5,221.5 660.5,220.6 659.5,219.4 658.5,218.4 657.5,217.3 656.5,216.3 655.5,215.1 654.5,214.1 653.5,213 652.5,211.8 651.4,210.8 650.4,209.7 649.4,208.6 648.4,207.5 647.4,206.5 646.4,205.3 645.4,204.3 644.4,203.1 643.4,202 642.4,201 641.4,199.9 640.4,198.9 639.4,197.8 638.4,196.8 637.4,195.7 636.4,194.7 635.4,193.7 634.4,192.6 633.4,191.6 632.4,190.6 631.4,189.6 630.4,188.6 629.4,187.6 628.4,186.5 627.4,185.5 626.4,184.5 625.4,183.5 624.4,182.4 623.4,181.4 622.4,180.4 621.4,179.4 620.3,178.4 619.3,177.3 618.3,176.4 617.3,175.4 616.3,174.4 615.3,173.5 614.3,172.6 613.3,171.6 612.3,170.7 611.3,169.7 610.3,168.7 609.3,167.9 608.3,166.9 607.3,166M631.4,220.3 632.4,220.2 633.4,220.3 634.4,220.2 635.4,220.5 636.4,220.4 637.4,220.6 638.4,220.9 639.4,221 640.4,221.2 641.4,221.3 642.4,221.6 643.4,221.7 644.4,222.1 645.4,222.5 646.4,222.6 647.4,222.9 648.4,223.1 649.4,223.5 650.4,223.7 651.4,224 652.5,224.2 653.5,224.5 654.5,224.9 655.5,225 656.5,225.3 657.5,225.5 658.5,225.9 659.5,226 660.5,226.3 661.5,226.4 662.5,226.4 663.5,226.4 664.5,226.3 665.5,226.2 666.5,226 667.5,225.8 668.5,225.2 669.5,224.5 670.5,223.9 671.5,223.1 672.5,222.3 673.5,221.5 674.5,220.6 675.5,219.4 676.5,218.4 677.5,217.3 678.5,216.3 679.5,215.1 680.5,214.1 681.5,213 682.5,211.8 683.6,210.8 684.6,209.7 685.6,208.6 686.6,207.5 687.6,206.5 688.6,205.3 689.6,204.3 690.6,203.1 691.6,202 692.6,201 693.6,199.9 694.6,198.9 695.6,197.8 696.6,196.8 697.6,195.7 698.6,194.7 699.6,193.7 700.6,192.6 701.6,191.6 702.6,190.6 703.6,189.6 704.6,188.6 705.6,187.6 706.6,186.5 707.6,185.5 708.6,184.5 709.6,183.5 710.6,182.4 711.6,181.4 712.6,180.4 713.6,179.4 714.7,178.4 715.7,177.3 716.7,176.4 717.7,175.4 718.7,174.4 719.7,173.5 720.7,172.6 721.7,171.6 722.7,170.7 723.7,169.7 724.7,168.7 725.7,167.9 726.7,166.9 727.7,166M715.7,212.3 714.7,212.5 713.6,212.4 712.6,212.7 711.6,212.7 710.6,213.1 709.6,213.1 708.6,213.3 707.6,213.4 706.6,213.7 705.6,213.9 704.6,213.9 703.6,214.2 702.6,214.3 701.6,214.5 700.6,214.5 699.6,214.8 698.6,214.9 697.6,215.1 696.6,215.5 695.6,215.6 694.6,215.8 693.6,216 692.6,216.3 691.6,216.5 690.6,216.8 689.6,217.2 688.6,217.4 687.6,217.8 686.6,218 685.6,218.4 684.6,218.6 683.6,218.9 682.5,219.1 681.5,219.5 680.5,219.8 679.5,220 678.5,220.3 677.5,220.5 676.5,220.9 675.5,221.1 674.5,221.4 673.5,221.5 672.5,221.5 671.5,221.5 670.5,221.5 669.5,221.4 668.5,221.3 667.5,221.1 666.5,220.5 665.5,219.8 664.5,219.1 663.5,218.4 662.5,217.6 661.5,216.7 660.5,215.7 659.5,214.7 658.5,213.6 657.5,212.5 656.5,211.5 655.5,210.4 654.5,209.4 653.5,208.3 652.5,207.1 651.4,206.1 650.4,205 649.4,204 648.4,202.8 647.4,201.8 646.4,200.7 645.4,199.7 644.4,198.5 643.4,197.4 642.4,196.4 641.4,195.3 640.4,194.3 639.4,193.3 638.4,192.3 637.4,191.1 636.4,190.1 635.4,189.1 634.4,188.1 633.4,187.1 632.4,186.1 631.4,185.1 630.4,184 629.4,183 628.4,181.9 627.4,180.9 626.4,179.9 625.4,178.9 624.4,177.9 623.4,176.9 622.4,175.9 621.4,174.9 620.3,173.9 619.3,172.8 618.3,171.9 617.3,170.9 616.3,170 615.3,169 614.3,168.1 613.3,167.1M619.3,212.3 620.3,212.5 621.4,212.4 622.4,212.7 623.4,212.7 624.4,213.1 625.4,213.1 626.4,213.3 627.4,213.4 628.4,213.7 629.4,213.9 630.4,213.9 631.4,214.2 632.4,214.3 633.4,214.5 634.4,214.5 635.4,214.8 636.4,214.9 637.4,215.1 638.4,215.5 639.4,215.6 640.4,215.8 641.4,216 642.4,216.3 643.4,216.5 644.4,216.8 645.4,217.2 646.4,217.4 647.4,217.8 648.4,218 649.4,218.4 650.4,218.6 651.4,218.9 652.5,219.1 653.5,219.5 654.5,219.8 655.5,220 656.5,220.3 657.5,220.5 658.5,220.9 659.5,221.1 660.5,221.4 661.5,221.5 662.5,221.5 663.5,221.5 664.5,221.5 665.5,221.4 666.5,221.3 667.5,221.1 668.5,220.5 669.5,219.8 670.5,219.1 671.5,218.4 672.5,217.6 673.5,216.7 674.5,215.7 675.5,214.7 676.5,213.6 677.5,212.5 678.5,211.5 679.5,210.4 680.5,209.4 681.5,208.3 682.5,207.1 683.6,206.1 684.6,205 685.6,204 686.6,202.8 687.6,201.8 688.6,200.7 689.6,199.7 690.6,198.5 691.6,197.4 692.6,196.4 693.6,195.3 694.6,194.3 695.6,193.3 696.6,192.3 697.6,191.1 698.6,190.1 699.6,189.1 700.6,188.1 701.6,187.1 702.6,186.1 703.6,185.1 704.6,184 705.6,183 706.6,181.9 707.6,180.9 708.6,179.9 709.6,178.9 710.6,177.9 711.6,176.9 712.6,175.9 713.6,174.9 714.7,173.9 715.7,172.8 716.7,171.9 717.7,170.9 718.7,170 719.7,169 720.7,168.1 721.7,167.1M727.7,206 726.7,205.9 725.7,205.7 724.7,205.8 723.7,205.8 722.7,205.7 721.7,205.9 720.7,205.8 719.7,205.9 718.7,205.8 717.7,206.1 716.7,206.1 715.7,206.2 714.7,206.6 713.6,206.7 712.6,207 711.6,207.1 710.6,207.5 709.6,207.6 708.6,207.8 707.6,208 706.6,208.3 705.6,208.5 704.6,208.6 703.6,208.9 702.6,209 701.6,209.2 700.6,209.4 699.6,209.7 698.6,209.8 697.6,210 696.6,210.4 695.6,210.5 694.6,210.8 693.6,211 692.6,211.3 691.6,211.5 690.6,211.8 689.6,212.3 688.6,212.5 687.6,212.8 686.6,213 685.6,213.4 684.6,213.7 683.6,214 682.5,214.2 681.5,214.6 680.5,214.9 679.5,215.1 678.5,215.5 677.5,215.7 676.5,216 675.5,216.2 674.5,216.5 673.5,216.7 672.5,216.8 671.5,216.8 670.5,216.8 669.5,216.7 668.5,216.7 667.5,216.6 666.5,215.9 665.5,215.2 664.5,214.5 663.5,213.7 662.5,212.9 661.5,212 660.5,211 659.5,210 658.5,209 657.5,207.8 656.5,206.8 655.5,205.8 654.5,204.8 653.5,203.6 652.5,202.5 651.4,201.5 650.4,200.4 649.4,199.4 648.4,198.3 647.4,197.2 646.4,196.2 645.4,195.1 644.4,194 643.4,192.9 642.4,191.9 641.4,190.8 640.4,189.8 639.4,188.8 638.4,187.7 637.4,186.6 636.4,185.6 635.4,184.6 634.4,183.6 633.4,182.6 632.4,181.6 631.4,180.5 630.4,179.5 629.4,178.5 628.4,177.4 627.4,176.5 626.4,175.4 625.4,174.5 624.4,173.4 623.4,172.4 622.4,171.4 621.4,170.5 620.3,169.4 619.3,168.4M607.3,206 608.3,205.9 609.3,205.7 610.3,205.8 611.3,205.8 612.3,205.7 613.3,205.9 614.3,205.8 615.3,205.9 616.3,205.8 617.3,206.1 618.3,206.1 619.3,206.2 620.3,206.6 621.4,206.7 622.4,207 623.4,207.1 624.4,207.5 625.4,207.6 626.4,207.8 627.4,208 628.4,208.3 629.4,208.5 630.4,208.6 631.4,208.9 632.4,209 633.4,209.2 634.4,209.4 635.4,209.7 636.4,209.8 637.4,210 638.4,210.4 639.4,210.5 640.4,210.8 641.4,211 642.4,211.3 643.4,211.5 644.4,211.8 645.4,212.3 646.4,212.5 647.4,212.8 648.4,213 649.4,213.4 650.4,213.7 651.4,214 652.5,214.2 653.5,214.6 654.5,214.9 655.5,215.1 656.5,215.5 657.5,215.7 658.5,216 659.5,216.2 660.5,216.5 661.5,216.7 662.5,216.8 663.5,216.8 664.5,216.8 665.5,216.7 666.5,216.7 667.5,216.6 668.5,215.9 669.5,215.2 670.5,214.5 671.5,213.7 672.5,212.9 673.5,212 674.5,211 675.5,210 676.5,209 677.5,207.8 678.5,206.8 679.5,205.8 680.5,204.8 681.5,203.6 682.5,202.5 683.6,201.5 684.6,200.4 685.6,199.4 686.6,198.3 687.6,197.2 688.6,196.2 689.6,195.1 690.6,194 691.6,192.9 692.6,191.9 693.6,190.8 694.6,189.8 695.6,188.8 696.6,187.7 697.6,186.6 698.6,185.6 699.6,184.6 700.6,183.6 701.6,182.6 702.6,181.6 703.6,180.5 704.6,179.5 705.6,178.5 706.6,177.4 707.6,176.5 708.6,175.4 709.6,174.5 710.6,173.4 711.6,172.4 712.6,171.4 713.6,170.5 714.7,169.4 715.7,168.4M739.7,200.5 738.7,200.2 737.7,200.1 736.7,199.9 735.7,200 734.7,199.8 733.7,199.8 732.7,199.9 731.7,199.8 730.7,199.8 729.7,199.8 728.7,199.9 727.7,199.9 726.7,199.9 725.7,199.9 724.7,200.1 723.7,200.1 722.7,200.1 721.7,200.3 720.7,200.3 719.7,200.4 718.7,200.5 717.7,200.7 716.7,200.8 715.7,201 714.7,201.3 713.6,201.5 712.6,201.7 711.6,201.9 710.6,202.3 709.6,202.5 708.6,202.7 707.6,202.9 706.6,203.2 705.6,203.4 704.6,203.6 703.6,203.9 702.6,204 701.6,204.3 700.6,204.4 699.6,204.7 698.6,204.9 697.6,205.1 696.6,205.5 695.6,205.7 694.6,205.9 693.6,206.1 692.6,206.5 691.6,206.7 690.6,207 689.6,207.5 688.6,207.7 687.6,208 686.6,208.3 685.6,208.6 684.6,208.9 683.6,209.2 682.5,209.5 681.5,209.8 680.5,210.2 679.5,210.4 678.5,210.7 677.5,210.9 676.5,211.3 675.5,211.5 674.5,211.8 673.5,212 672.5,212.1 671.5,212.2 670.5,212.2 669.5,212.2 668.5,212.2 667.5,212.1 666.5,211.5 665.5,210.7 664.5,210 663.5,209.1 662.5,208.3 661.5,207.4 660.5,206.4 659.5,205.4 658.5,204.3 657.5,203.3 656.5,202.2 655.5,201.2 654.5,200.2 653.5,199.1 652.5,198 651.4,196.9 650.4,195.9 649.4,194.8 648.4,193.8 647.4,192.7 646.4,191.7 645.4,190.6 644.4,189.5 643.4,188.5 642.4,187.4 641.4,186.4 640.4,185.3 639.4,184.3 638.4,183.3 637.4,182.2 636.4,181.2 635.4,180.2 634.4,179.2 633.4,178.1 632.4,177.1 631.4,176.1 630.4,175.1 629.4,174.1 628.4,173 627.4,172 626.4,171 625.4,170M595.3,200.5 596.3,200.2 597.3,200.1 598.3,199.9 599.3,200 600.3,199.8 601.3,199.8 602.3,199.9 603.3,199.8 604.3,199.8 605.3,199.8 606.3,199.9 607.3,199.9 608.3,199.9 609.3,199.9 610.3,200.1 611.3,200.1 612.3,200.1 613.3,200.3 614.3,200.3 615.3,200.4 616.3,200.5 617.3,200.7 618.3,200.8 619.3,201 620.3,201.3 621.4,201.5 622.4,201.7 623.4,201.9 624.4,202.3 625.4,202.5 626.4,202.7 627.4,202.9 628.4,203.2 629.4,203.4 630.4,203.6 631.4,203.9 632.4,204 633.4,204.3 634.4,204.4 635.4,204.7 636.4,204.9 637.4,205.1 638.4,205.5 639.4,205.7 640.4,205.9 641.4,206.1 642.4,206.5 643.4,206.7 644.4,207 645.4,207.5 646.4,207.7 647.4,208 648.4,208.3 649.4,208.6 650.4,208.9 651.4,209.2 652.5,209.5 653.5,209.8 654.5,210.2 655.5,210.4 656.5,210.7 657.5,210.9 658.5,211.3 659.5,211.5 660.5,211.8 661.5,212 662.5,212.1 663.5,212.2 664.5,212.2 665.5,212.2 666.5,212.2 667.5,212.1 668.5,211.5 669.5,210.7 670.5,210 671.5,209.1 672.5,208.3 673.5,207.4 674.5,206.4 675.5,205.4 676.5,204.3 677.5,203.3 678.5,202.2 679.5,201.2 680.5,200.2 681.5,199.1 682.5,198 683.6,196.9 684.6,195.9 685.6,194.8 686.6,193.8 687.6,192.7 688.6,191.7 689.6,190.6 690.6,189.5 691.6,188.5 692.6,187.4 693.6,186.4 694.6,185.3 695.6,184.3 696.6,183.3 697.6,182.2 698.6,181.2 699.6,180.2 700.6,179.2 701.6,178.1 702.6,177.1 703.6,176.1 704.6,175.1 705.6,174.1 706.6,173 707.6,172 708.6,171 709.6,170M751.8,194.5 750.8,194.2 749.8,194.4 748.8,194.3 747.8,194.2 746.8,194.4 745.8,194.3 744.7,194.2 743.7,194.1 742.7,194.3 741.7,194.2 740.7,194.1 739.7,194.3 738.7,194.2 737.7,194.2 736.7,194.1 735.7,194.2 734.7,194.2 733.7,194.2 732.7,194.4 731.7,194.3 730.7,194.4 729.7,194.4 728.7,194.5 727.7,194.5 726.7,194.6 725.7,194.6 724.7,194.8 723.7,194.9 722.7,195 721.7,195.2 720.7,195.2 719.7,195.4 718.7,195.4 717.7,195.7 716.7,195.8 715.7,196 714.7,196.3 713.6,196.5 712.6,196.8 711.6,197 710.6,197.3 709.6,197.5 708.6,197.8 707.6,198 706.6,198.3 705.6,198.5 704.6,198.7 703.6,199 702.6,199.2 701.6,199.4 700.6,199.6 699.6,199.9 698.6,200.1 697.6,200.4 696.6,200.7 695.6,200.9 694.6,201.2 693.6,201.4 692.6,201.8 691.6,202 690.6,202.3 689.6,202.8 688.6,203 687.6,203.3 686.6,203.6 685.6,204 684.6,204.2 683.6,204.6 682.5,204.8 681.5,205.2 680.5,205.5 679.5,205.8 678.5,206.1 677.5,206.3 676.5,206.6 675.5,206.9 674.5,207.2 673.5,207.4 672.5,207.5 671.5,207.6 670.5,207.7 669.5,207.7 668.5,207.8 667.5,207.8 666.5,207.1 665.5,206.3 664.5,205.5 663.5,204.6 662.5,203.7 661.5,202.8 660.5,201.9 659.5,200.8 658.5,199.8 657.5,198.8 656.5,197.7 655.5,196.7 654.5,195.7 653.5,194.6 652.5,193.5 651.4,192.5 650.4,191.4 649.4,190.4 648.4,189.3 647.4,188.3 646.4,187.3 645.4,186.2 644.4,185.1 643.4,184.1 642.4,183 641.4,182 640.4,180.9 639.4,180 638.4,178.9 637.4,177.8 636.4,176.8 635.4,175.8 634.4,174.8 633.4,173.7 632.4,172.8 631.4,171.7M583.2,194.5 584.2,194.2 585.2,194.4 586.2,194.3 587.2,194.2 588.2,194.4 589.2,194.3 590.3,194.2 591.3,194.1 592.3,194.3 593.3,194.2 594.3,194.1 595.3,194.3 596.3,194.2 597.3,194.2 598.3,194.1 599.3,194.2 600.3,194.2 601.3,194.2 602.3,194.4 603.3,194.3 604.3,194.4 605.3,194.4 606.3,194.5 607.3,194.5 608.3,194.6 609.3,194.6 610.3,194.8 611.3,194.9 612.3,195 613.3,195.2 614.3,195.2 615.3,195.4 616.3,195.4 617.3,195.7 618.3,195.8 619.3,196 620.3,196.3 621.4,196.5 622.4,196.8 623.4,197 624.4,197.3 625.4,197.5 626.4,197.8 627.4,198 628.4,198.3 629.4,198.5 630.4,198.7 631.4,199 632.4,199.2 633.4,199.4 634.4,199.6 635.4,199.9 636.4,200.1 637.4,200.4 638.4,200.7 639.4,200.9 640.4,201.2 641.4,201.4 642.4,201.8 643.4,202 644.4,202.3 645.4,202.8 646.4,203 647.4,203.3 648.4,203.6 649.4,204 650.4,204.2 651.4,204.6 652.5,204.8 653.5,205.2 654.5,205.5 655.5,205.8 656.5,206.1 657.5,206.3 658.5,206.6 659.5,206.9 660.5,207.2 661.5,207.4 662.5,207.5 663.5,207.6 664.5,207.7 665.5,207.7 666.5,207.8 667.5,207.8 668.5,207.1 669.5,206.3 670.5,205.5 671.5,204.6 672.5,203.7 673.5,202.8 674.5,201.9 675.5,200.8 676.5,199.8 677.5,198.8 678.5,197.7 679.5,196.7 680.5,195.7 681.5,194.6 682.5,193.5 683.6,192.5 684.6,191.4 685.6,190.4 686.6,189.3 687.6,188.3 688.6,187.3 689.6,186.2 690.6,185.1 691.6,184.1 692.6,183 693.6,182 694.6,180.9 695.6,180 696.6,178.9 697.6,177.8 698.6,176.8 699.6,175.8 700.6,174.8 701.6,173.7 702.6,172.8 703.6,171.7M763.8,189.3 762.8,189 761.8,188.8 760.8,188.9 759.8,188.7 758.8,188.6 757.8,188.7 756.8,188.6 755.8,188.5 754.8,188.4 753.8,188.6 752.8,188.5 751.8,188.5 750.8,188.5 749.8,188.7 748.8,188.7 747.8,188.6 746.8,188.8 745.8,188.7 744.7,188.7 743.7,188.7 742.7,188.8 741.7,188.8 740.7,188.7 739.7,188.9 738.7,188.9 737.7,188.9 736.7,188.8 735.7,189 734.7,189 733.7,189 732.7,189.2 731.7,189.2 730.7,189.2 729.7,189.3 728.7,189.4 727.7,189.5 726.7,189.6 725.7,189.6 724.7,189.8 723.7,189.9 722.7,190 721.7,190.2 720.7,190.3 719.7,190.5 718.7,190.6 717.7,190.8 716.7,191 715.7,191.2 714.7,191.5 713.6,191.7 712.6,192 711.6,192.2 710.6,192.5 709.6,192.7 708.6,193 707.6,193.2 706.6,193.5 705.6,193.8 704.6,194 703.6,194.3 702.6,194.5 701.6,194.7 700.6,194.9 699.6,195.2 698.6,195.5 697.6,195.7 696.6,196.1 695.6,196.3 694.6,196.6 693.6,196.8 692.6,197.2 691.6,197.4 690.6,197.7 689.6,198.1 688.6,198.4 687.6,198.7 686.6,199 685.6,199.4 684.6,199.7 683.6,200 682.5,200.3 681.5,200.6 680.5,200.9 679.5,201.2 678.5,201.5 677.5,201.8 676.5,202.1 675.5,202.3 674.5,202.6 673.5,202.8 672.5,203 671.5,203.1 670.5,203.3 669.5,203.3 668.5,203.4 667.5,203.4 666.5,202.7 665.5,201.9 664.5,201.1 663.5,200.2 662.5,199.3 661.5,198.4 660.5,197.4 659.5,196.4 658.5,195.3 657.5,194.3 656.5,193.3 655.5,192.3 654.5,191.2 653.5,190.1 652.5,189.1 651.4,188 650.4,187 649.4,186 648.4,184.9 647.4,183.9 646.4,182.9 645.4,181.8 644.4,180.7 643.4,179.7 642.4,178.6 641.4,177.7 640.4,176.6 639.4,175.6 638.4,174.5 637.4,173.5M571.2,189.3 572.2,189 573.2,188.8 574.2,188.9 575.2,188.7 576.2,188.6 577.2,188.7 578.2,188.6 579.2,188.5 580.2,188.4 581.2,188.6 582.2,188.5 583.2,188.5 584.2,188.5 585.2,188.7 586.2,188.7 587.2,188.6 588.2,188.8 589.2,188.7 590.3,188.7 591.3,188.7 592.3,188.8 593.3,188.8 594.3,188.7 595.3,188.9 596.3,188.9 597.3,188.9 598.3,188.8 599.3,189 600.3,189 601.3,189 602.3,189.2 603.3,189.2 604.3,189.2 605.3,189.3 606.3,189.4 607.3,189.5 608.3,189.6 609.3,189.6 610.3,189.8 611.3,189.9 612.3,190 613.3,190.2 614.3,190.3 615.3,190.5 616.3,190.6 617.3,190.8 618.3,191 619.3,191.2 620.3,191.5 621.4,191.7 622.4,192 623.4,192.2 624.4,192.5 625.4,192.7 626.4,193 627.4,193.2 628.4,193.5 629.4,193.8 630.4,194 631.4,194.3 632.4,194.5 633.4,194.7 634.4,194.9 635.4,195.2 636.4,195.5 637.4,195.7 638.4,196.1 639.4,196.3 640.4,196.6 641.4,196.8 642.4,197.2 643.4,197.4 644.4,197.7 645.4,198.1 646.4,198.4 647.4,198.7 648.4,199 649.4,199.4 650.4,199.7 651.4,200 652.5,200.3 653.5,200.6 654.5,200.9 655.5,201.2 656.5,201.5 657.5,201.8 658.5,202.1 659.5,202.3 660.5,202.6 661.5,202.8 662.5,203 663.5,203.1 664.5,203.3 665.5,203.3 666.5,203.4 667.5,203.4 668.5,202.7 669.5,201.9 670.5,201.1 671.5,200.2 672.5,199.3 673.5,198.4 674.5,197.4 675.5,196.4 676.5,195.3 677.5,194.3 678.5,193.3 679.5,192.3 680.5,191.2 681.5,190.1 682.5,189.1 683.6,188 684.6,187 685.6,186 686.6,184.9 687.6,183.9 688.6,182.9 689.6,181.8 690.6,180.7 691.6,179.7 692.6,178.6 693.6,177.7 694.6,176.6 695.6,175.6 696.6,174.5 697.6,173.5M775.8,185.7 774.8,185.3 773.8,185 772.8,184.8 771.8,184.7 770.8,184.5 769.8,184.3 768.8,184.1 767.8,184.2 766.8,184 765.8,183.9 764.8,183.9 763.8,183.8 762.8,183.7 761.8,183.6 760.8,183.7 759.8,183.5 758.8,183.4 757.8,183.5 756.8,183.4 755.8,183.4 754.8,183.3 753.8,183.5 752.8,183.4 751.8,183.4 750.8,183.3 749.8,183.5 748.8,183.5 747.8,183.5 746.8,183.6 745.8,183.6 744.7,183.6 743.7,183.5 742.7,183.7 741.7,183.7 740.7,183.7 739.7,183.8 738.7,183.8 737.7,183.8 736.7,183.8 735.7,183.9 734.7,184 733.7,184 732.7,184.2 731.7,184.2 730.7,184.3 729.7,184.3 728.7,184.5 727.7,184.6 726.7,184.7 725.7,184.8 724.7,185 723.7,185.1 722.7,185.2 721.7,185.4 720.7,185.6 719.7,185.7 718.7,185.9 717.7,186.1 716.7,186.3 715.7,186.5 714.7,186.8 713.6,187 712.6,187.3 711.6,187.5 710.6,187.8 709.6,188.1 708.6,188.3 707.6,188.5 706.6,188.8 705.6,189.1 704.6,189.3 703.6,189.6 702.6,189.9 701.6,190.1 700.6,190.4 699.6,190.6 698.6,190.9 697.6,191.1 696.6,191.5 695.6,191.8 694.6,192 693.6,192.3 692.6,192.6 691.6,192.9 690.6,193.2 689.6,193.6 688.6,193.9 687.6,194.2 686.6,194.5 685.6,194.8 684.6,195.1 683.6,195.4 682.5,195.8 681.5,196.1 680.5,196.4 679.5,196.7 678.5,197 677.5,197.3 676.5,197.6 675.5,197.9 674.5,198.1 673.5,198.4 672.5,198.5 671.5,198.7 670.5,198.9 669.5,199 668.5,199.1 667.5,199.2 666.5,198.4 665.5,197.6 664.5,196.7 663.5,195.8 662.5,194.9 661.5,193.9 660.5,192.9 659.5,191.9 658.5,190.9 657.5,189.9 656.5,188.9 655.5,187.9 654.5,186.8 653.5,185.7 652.5,184.7 651.4,183.7 650.4,182.7 649.4,181.6 648.4,180.6 647.4,179.5 646.4,178.5 645.4,177.5 644.4,176.4 643.4,175.4M559.2,185.7 560.2,185.3 561.2,185 562.2,184.8 563.2,184.7 564.2,184.5 565.2,184.3 566.2,184.1 567.2,184.2 568.2,184 569.2,183.9 570.2,183.9 571.2,183.8 572.2,183.7 573.2,183.6 574.2,183.7 575.2,183.5 576.2,183.4 577.2,183.5 578.2,183.4 579.2,183.4 580.2,183.3 581.2,183.5 582.2,183.4 583.2,183.4 584.2,183.3 585.2,183.5 586.2,183.5 587.2,183.5 588.2,183.6 589.2,183.6 590.3,183.6 591.3,183.5 592.3,183.7 593.3,183.7 594.3,183.7 595.3,183.8 596.3,183.8 597.3,183.8 598.3,183.8 599.3,183.9 600.3,184 601.3,184 602.3,184.2 603.3,184.2 604.3,184.3 605.3,184.3 606.3,184.5 607.3,184.6 608.3,184.7 609.3,184.8 610.3,185 611.3,185.1 612.3,185.2 613.3,185.4 614.3,185.6 615.3,185.7 616.3,185.9 617.3,186.1 618.3,186.3 619.3,186.5 620.3,186.8 621.4,187 622.4,187.3 623.4,187.5 624.4,187.8 625.4,188.1 626.4,188.3 627.4,188.5 628.4,188.8 629.4,189.1 630.4,189.3 631.4,189.6 632.4,189.9 633.4,190.1 634.4,190.4 635.4,190.6 636.4,190.9 637.4,191.1 638.4,191.5 639.4,191.8 640.4,192 641.4,192.3 642.4,192.6 643.4,192.9 644.4,193.2 645.4,193.6 646.4,193.9 647.4,194.2 648.4,194.5 649.4,194.8 650.4,195.1 651.4,195.4 652.5,195.8 653.5,196.1 654.5,196.4 655.5,196.7 656.5,197 657.5,197.3 658.5,197.6 659.5,197.9 660.5,198.1 661.5,198.4 662.5,198.5 663.5,198.7 664.5,198.9 665.5,199 666.5,199.1 667.5,199.2 668.5,198.4 669.5,197.6 670.5,196.7 671.5,195.8 672.5,194.9 673.5,193.9 674.5,192.9 675.5,191.9 676.5,190.9 677.5,189.9 678.5,188.9 679.5,187.9 680.5,186.8 681.5,185.7 682.5,184.7 683.6,183.7 684.6,182.7 685.6,181.6 686.6,180.6 687.6,179.5 688.6,178.5 689.6,177.5 690.6,176.4 691.6,175.4M787.9,184.1 786.9,183.7 785.9,183.4 784.9,183.1 783.9,182.8 782.9,182.5 781.9,182.2 780.9,182 779.9,181.7 778.9,181.5 777.9,181.2 776.8,181 775.8,180.8 774.8,180.5 773.8,180.3 772.8,180.1 771.8,180 770.8,179.8 769.8,179.6 768.8,179.5 767.8,179.5 766.8,179.3 765.8,179.2 764.8,179.2 763.8,179.1 762.8,179 761.8,178.9 760.8,178.9 759.8,178.8 758.8,178.7 757.8,178.7 756.8,178.6 755.8,178.6 754.8,178.5 753.8,178.6 752.8,178.5 751.8,178.5 750.8,178.5 749.8,178.6 748.8,178.6 747.8,178.5 746.8,178.6 745.8,178.6 744.7,178.6 743.7,178.6 742.7,178.7 741.7,178.7 740.7,178.7 739.7,178.8 738.7,178.9 737.7,178.9 736.7,178.9 735.7,179 734.7,179.1 733.7,179.1 732.7,179.3 731.7,179.4 730.7,179.5 729.7,179.6 728.7,179.7 727.7,179.8 726.7,179.9 725.7,180.1 724.7,180.2 723.7,180.4 722.7,180.5 721.7,180.7 720.7,180.9 719.7,181.1 718.7,181.2 717.7,181.5 716.7,181.7 715.7,181.8 714.7,182.2 713.6,182.4 712.6,182.6 711.6,182.9 710.6,183.2 709.6,183.5 708.6,183.7 707.6,183.9 706.6,184.2 705.6,184.5 704.6,184.8 703.6,185.1 702.6,185.3 701.6,185.6 700.6,185.8 699.6,186.1 698.6,186.4 697.6,186.6 696.6,187 695.6,187.3 694.6,187.6 693.6,187.9 692.6,188.1 691.6,188.5 690.6,188.7 689.6,189.1 688.6,189.5 687.6,189.7 686.6,190.1 685.6,190.4 684.6,190.7 683.6,191 682.5,191.3 681.5,191.6 680.5,192 679.5,192.3 678.5,192.5 677.5,192.8 676.5,193.1 675.5,193.4 674.5,193.7 673.5,193.9 672.5,194.1 671.5,194.4 670.5,194.6 669.5,194.7 668.5,194.9 667.5,195 666.5,194.2 665.5,193.3 664.5,192.4 663.5,191.5 662.5,190.5 661.5,189.6 660.5,188.5 659.5,187.6 658.5,186.5 657.5,185.5 656.5,184.5 655.5,183.5 654.5,182.5 653.5,181.4 652.5,180.4 651.4,179.3 650.4,178.4 649.4,177.3M547.1,184.1 548.1,183.7 549.1,183.4 550.1,183.1 551.1,182.8 552.1,182.5 553.1,182.2 554.1,182 555.1,181.7 556.1,181.5 557.1,181.2 558.2,181 559.2,180.8 560.2,180.5 561.2,180.3 562.2,180.1 563.2,180 564.2,179.8 565.2,179.6 566.2,179.5 567.2,179.5 568.2,179.3 569.2,179.2 570.2,179.2 571.2,179.1 572.2,179 573.2,178.9 574.2,178.9 575.2,178.8 576.2,178.7 577.2,178.7 578.2,178.6 579.2,178.6 580.2,178.5 581.2,178.6 582.2,178.5 583.2,178.5 584.2,178.5 585.2,178.6 586.2,178.6 587.2,178.5 588.2,178.6 589.2,178.6 590.3,178.6 591.3,178.6 592.3,178.7 593.3,178.7 594.3,178.7 595.3,178.8 596.3,178.9 597.3,178.9 598.3,178.9 599.3,179 600.3,179.1 601.3,179.1 602.3,179.3 603.3,179.4 604.3,179.5 605.3,179.6 606.3,179.7 607.3,179.8 608.3,179.9 609.3,180.1 610.3,180.2 611.3,180.4 612.3,180.5 613.3,180.7 614.3,180.9 615.3,181.1 616.3,181.2 617.3,181.5 618.3,181.7 619.3,181.8 620.3,182.2 621.4,182.4 622.4,182.6 623.4,182.9 624.4,183.2 625.4,183.5 626.4,183.7 627.4,183.9 628.4,184.2 629.4,184.5 630.4,184.8 631.4,185.1 632.4,185.3 633.4,185.6 634.4,185.8 635.4,186.1 636.4,186.4 637.4,186.6 638.4,187 639.4,187.3 640.4,187.6 641.4,187.9 642.4,188.1 643.4,188.5 644.4,188.7 645.4,189.1 646.4,189.5 647.4,189.7 648.4,190.1 649.4,190.4 650.4,190.7 651.4,191 652.5,191.3 653.5,191.6 654.5,192 655.5,192.3 656.5,192.5 657.5,192.8 658.5,193.1 659.5,193.4 660.5,193.7 661.5,193.9 662.5,194.1 663.5,194.4 664.5,194.6 665.5,194.7 666.5,194.9 667.5,195 668.5,194.2 669.5,193.3 670.5,192.4 671.5,191.5 672.5,190.5 673.5,189.6 674.5,188.5 675.5,187.6 676.5,186.5 677.5,185.5 678.5,184.5 679.5,183.5 680.5,182.5 681.5,181.4 682.5,180.4 683.6,179.3 684.6,178.4 685.6,177.3M799.9,183.2 798.9,182.8 797.9,182.4 796.9,182.1 795.9,181.8 794.9,181.5 793.9,181.2 792.9,180.9 791.9,180.6 790.9,180.3 789.9,180 788.9,179.8 787.9,179.5 786.9,179.2 785.9,178.9 784.9,178.6 783.9,178.4 782.9,178.2 781.9,177.9 780.9,177.6 779.9,177.4 778.9,177.2 777.9,176.9 776.8,176.7 775.8,176.5 774.8,176.2 773.8,176 772.8,175.8 771.8,175.7 770.8,175.5 769.8,175.3 768.8,175.1 767.8,175.1 766.8,174.9 765.8,174.8 764.8,174.7 763.8,174.6 762.8,174.5 761.8,174.3 760.8,174.3 759.8,174.2 758.8,174.1 757.8,174.1 756.8,174 755.8,173.9 754.8,173.8 753.8,173.9 752.8,173.8 751.8,173.8 750.8,173.7 749.8,173.8 748.8,173.8 747.8,173.8 746.8,173.8 745.8,173.8 744.7,173.8 743.7,173.8 742.7,173.9 741.7,173.9 740.7,173.9 739.7,174 738.7,174.1 737.7,174.1 736.7,174.2 735.7,174.3 734.7,174.3 733.7,174.4 732.7,174.6 731.7,174.7 730.7,174.7 729.7,174.9 728.7,175 727.7,175.2 726.7,175.3 725.7,175.4 724.7,175.6 723.7,175.8 722.7,175.9 721.7,176.1 720.7,176.3 719.7,176.5 718.7,176.7 717.7,176.9 716.7,177.1 715.7,177.3 714.7,177.6 713.6,177.9 712.6,178.1 711.6,178.4 710.6,178.6 709.6,178.9 708.6,179.2 707.6,179.4 706.6,179.7 705.6,180 704.6,180.3 703.6,180.5 702.6,180.8 701.6,181.1 700.6,181.4 699.6,181.6 698.6,181.9 697.6,182.2 696.6,182.6 695.6,182.9 694.6,183.1 693.6,183.5 692.6,183.7 691.6,184.1 690.6,184.3 689.6,184.7 688.6,185.1 687.6,185.3 686.6,185.7 685.6,186 684.6,186.3 683.6,186.6 682.5,186.9 681.5,187.2 680.5,187.6 679.5,187.9 678.5,188.1 677.5,188.4 676.5,188.7 675.5,189 674.5,189.3 673.5,189.6 672.5,189.8 671.5,190 670.5,190.3 669.5,190.4 668.5,190.7 667.5,190.8 666.5,190 665.5,189 664.5,188.2 663.5,187.2 662.5,186.2 661.5,185.2 660.5,184.2 659.5,183.2 658.5,182.2 657.5,181.2 656.5,180.2 655.5,179.2M535.1,183.2 536.1,182.8 537.1,182.4 538.1,182.1 539.1,181.8 540.1,181.5 541.1,181.2 542.1,180.9 543.1,180.6 544.1,180.3 545.1,180 546.1,179.8 547.1,179.5 548.1,179.2 549.1,178.9 550.1,178.6 551.1,178.4 552.1,178.2 553.1,177.9 554.1,177.6 555.1,177.4 556.1,177.2 557.1,176.9 558.2,176.7 559.2,176.5 560.2,176.2 561.2,176 562.2,175.8 563.2,175.7 564.2,175.5 565.2,175.3 566.2,175.1 567.2,175.1 568.2,174.9 569.2,174.8 570.2,174.7 571.2,174.6 572.2,174.5 573.2,174.3 574.2,174.3 575.2,174.2 576.2,174.1 577.2,174.1 578.2,174 579.2,173.9 580.2,173.8 581.2,173.9 582.2,173.8 583.2,173.8 584.2,173.7 585.2,173.8 586.2,173.8 587.2,173.8 588.2,173.8 589.2,173.8 590.3,173.8 591.3,173.8 592.3,173.9 593.3,173.9 594.3,173.9 595.3,174 596.3,174.1 597.3,174.1 598.3,174.2 599.3,174.3 600.3,174.3 601.3,174.4 602.3,174.6 603.3,174.7 604.3,174.7 605.3,174.9 606.3,175 607.3,175.2 608.3,175.3 609.3,175.4 610.3,175.6 611.3,175.8 612.3,175.9 613.3,176.1 614.3,176.3 615.3,176.5 616.3,176.7 617.3,176.9 618.3,177.1 619.3,177.3 620.3,177.6 621.4,177.9 622.4,178.1 623.4,178.4 624.4,178.6 625.4,178.9 626.4,179.2 627.4,179.4 628.4,179.7 629.4,180 630.4,180.3 631.4,180.5 632.4,180.8 633.4,181.1 634.4,181.4 635.4,181.6 636.4,181.9 637.4,182.2 638.4,182.6 639.4,182.9 640.4,183.1 641.4,183.5 642.4,183.7 643.4,184.1 644.4,184.3 645.4,184.7 646.4,185.1 647.4,185.3 648.4,185.7 649.4,186 650.4,186.3 651.4,186.6 652.5,186.9 653.5,187.2 654.5,187.6 655.5,187.9 656.5,188.1 657.5,188.4 658.5,188.7 659.5,189 660.5,189.3 661.5,189.6 662.5,189.8 663.5,190 664.5,190.3 665.5,190.4 666.5,190.7 667.5,190.8 668.5,190 669.5,189 670.5,188.2 671.5,187.2 672.5,186.2 673.5,185.2 674.5,184.2 675.5,183.2 676.5,182.2 677.5,181.2 678.5,180.2 679.5,179.2M812,182.8 811,182.5 810,182.1 809,181.8 807.9,181.5 806.9,181.2 805.9,180.9 804.9,180.6 803.9,180.3 802.9,180 801.9,179.7 800.9,179.3 799.9,179.1 798.9,178.7 797.9,178.4 796.9,178.1 795.9,177.9 794.9,177.5 793.9,177.2 792.9,176.9 791.9,176.6 790.9,176.3 789.9,176 788.9,175.8 787.9,175.5 786.9,175.2 785.9,174.9 784.9,174.6 783.9,174.4 782.9,174.1 781.9,173.9 780.9,173.6 779.9,173.4 778.9,173.1 777.9,172.9 776.8,172.6 775.8,172.4 774.8,172.2 773.8,171.9 772.8,171.7 771.8,171.5 770.8,171.4 769.8,171.1 768.8,171 767.8,170.8 766.8,170.6 765.8,170.5 764.8,170.4 763.8,170.3 762.8,170.1 761.8,170 760.8,169.9 759.8,169.8 758.8,169.6 757.8,169.6 756.8,169.5 755.8,169.4 754.8,169.3 753.8,169.3 752.8,169.2 751.8,169.2 750.8,169.1 749.8,169.1 748.8,169.1 747.8,169.1 746.8,169.1 745.8,169.1 744.7,169.1 743.7,169.1 742.7,169.2 741.7,169.2 740.7,169.2 739.7,169.3 738.7,169.4 737.7,169.4 736.7,169.5 735.7,169.6 734.7,169.7 733.7,169.7 732.7,169.9 731.7,170 730.7,170.1 729.7,170.3 728.7,170.4 727.7,170.6 726.7,170.7 725.7,170.9 724.7,171 723.7,171.2 722.7,171.4 721.7,171.6 720.7,171.8 719.7,172 718.7,172.2 717.7,172.4 716.7,172.7 715.7,172.8 714.7,173.1 713.6,173.4 712.6,173.6 711.6,173.9 710.6,174.2 709.6,174.5 708.6,174.7 707.6,175 706.6,175.2 705.6,175.5 704.6,175.9 703.6,176.1 702.6,176.4 701.6,176.7 700.6,177 699.6,177.2 698.6,177.6 697.6,177.8 696.6,178.2 695.6,178.5 694.6,178.8 693.6,179.1 692.6,179.4 691.6,179.7 690.6,180 689.6,180.4 688.6,180.7 687.6,181 686.6,181.3 685.6,181.6 684.6,182 683.6,182.2 682.5,182.6 681.5,182.8 680.5,183.2 679.5,183.5 678.5,183.8 677.5,184.1 676.5,184.3 675.5,184.7 674.5,184.9 673.5,185.2 672.5,185.4 671.5,185.7 670.5,186 669.5,186.2 668.5,186.5 667.5,186.7 666.5,185.8 665.5,184.8 664.5,183.9 663.5,182.9 662.5,181.9 661.5,180.9M523,182.8 524,182.5 525,182.1 526,181.8 527.1,181.5 528.1,181.2 529.1,180.9 530.1,180.6 531.1,180.3 532.1,180 533.1,179.7 534.1,179.3 535.1,179.1 536.1,178.7 537.1,178.4 538.1,178.1 539.1,177.9 540.1,177.5 541.1,177.2 542.1,176.9 543.1,176.6 544.1,176.3 545.1,176 546.1,175.8 547.1,175.5 548.1,175.2 549.1,174.9 550.1,174.6 551.1,174.4 552.1,174.1 553.1,173.9 554.1,173.6 555.1,173.4 556.1,173.1 557.1,172.9 558.2,172.6 559.2,172.4 560.2,172.2 561.2,171.9 562.2,171.7 563.2,171.5 564.2,171.4 565.2,171.1 566.2,171 567.2,170.8 568.2,170.6 569.2,170.5 570.2,170.4 571.2,170.3 572.2,170.1 573.2,170 574.2,169.9 575.2,169.8 576.2,169.6 577.2,169.6 578.2,169.5 579.2,169.4 580.2,169.3 581.2,169.3 582.2,169.2 583.2,169.2 584.2,169.1 585.2,169.1 586.2,169.1 587.2,169.1 588.2,169.1 589.2,169.1 590.3,169.1 591.3,169.1 592.3,169.2 593.3,169.2 594.3,169.2 595.3,169.3 596.3,169.4 597.3,169.4 598.3,169.5 599.3,169.6 600.3,169.7 601.3,169.7 602.3,169.9 603.3,170 604.3,170.1 605.3,170.3 606.3,170.4 607.3,170.6 608.3,170.7 609.3,170.9 610.3,171 611.3,171.2 612.3,171.4 613.3,171.6 614.3,171.8 615.3,172 616.3,172.2 617.3,172.4 618.3,172.7 619.3,172.8 620.3,173.1 621.4,173.4 622.4,173.6 623.4,173.9 624.4,174.2 625.4,174.5 626.4,174.7 627.4,175 628.4,175.2 629.4,175.5 630.4,175.9 631.4,176.1 632.4,176.4 633.4,176.7 634.4,177 635.4,177.2 636.4,177.6 637.4,177.8 638.4,178.2 639.4,178.5 640.4,178.8 641.4,179.1 642.4,179.4 643.4,179.7 644.4,180 645.4,180.4 646.4,180.7 647.4,181 648.4,181.3 649.4,181.6 650.4,182 651.4,182.2 652.5,182.6 653.5,182.8 654.5,183.2 655.5,183.5 656.5,183.8 657.5,184.1 658.5,184.3 659.5,184.7 660.5,184.9 661.5,185.2 662.5,185.4 663.5,185.7 664.5,186 665.5,186.2 666.5,186.5 667.5,186.7 668.5,185.8 669.5,184.8 670.5,183.9 671.5,182.9 672.5,181.9 673.5,180.9M824,182.7 823,182.4 822,182 821,181.8 820,181.5 819,181.2 818,180.9 817,180.6 816,180.4 815,180 814,179.8 813,179.4 812,179.2 811,178.9 810,178.5 809,178.3 807.9,177.9 806.9,177.7 805.9,177.3 804.9,177.1 803.9,176.7 802.9,176.5 801.9,176.1 800.9,175.7 799.9,175.5 798.9,175.1 797.9,174.8 796.9,174.5 795.9,174.2 794.9,173.8 793.9,173.5 792.9,173.2 791.9,172.9 790.9,172.6 789.9,172.3 788.9,172 787.9,171.7 786.9,171.5 785.9,171.1 784.9,170.8 783.9,170.6 782.9,170.2 781.9,170 780.9,169.7 779.9,169.5 778.9,169.2 777.9,169 776.8,168.7 775.8,168.4 774.8,168.2 773.8,168 772.8,167.8 771.8,167.5 770.8,167.4 769.8,167.1 768.8,167 767.8,166.7 766.8,166.5 765.8,166.4 764.8,166.2 763.8,166 762.8,165.8 761.8,165.7 760.8,165.6 759.8,165.4 758.8,165.3 757.8,165.2 756.8,165.1 755.8,165 754.8,164.9 753.8,164.8 752.8,164.7 751.8,164.7 750.8,164.6 749.8,164.6 748.8,164.5 747.8,164.5 746.8,164.5 745.8,164.5 744.7,164.5 743.7,164.5 742.7,164.5 741.7,164.6 740.7,164.6 739.7,164.7 738.7,164.7 737.7,164.8 736.7,164.9 735.7,165 734.7,165.1 733.7,165.2 732.7,165.3 731.7,165.4 730.7,165.6 729.7,165.7 728.7,165.8 727.7,166 726.7,166.2 725.7,166.4 724.7,166.5 723.7,166.7 722.7,167 721.7,167.1 720.7,167.4 719.7,167.5 718.7,167.8 717.7,168 716.7,168.2 715.7,168.4 714.7,168.7 713.6,169 712.6,169.2 711.6,169.5 710.6,169.7 709.6,170 708.6,170.2 707.6,170.6 706.6,170.8 705.6,171.1 704.6,171.5 703.6,171.7 702.6,172 701.6,172.3 700.6,172.6 699.6,172.9 698.6,173.2 697.6,173.5 696.6,173.8 695.6,174.2 694.6,174.4 693.6,174.8 692.6,175 691.6,175.4 690.6,175.7 689.6,176 688.6,176.4 687.6,176.6 686.6,177 685.6,177.3 684.6,177.6 683.6,177.9 682.5,178.3 681.5,178.5 680.5,178.9 679.5,179.2 678.5,179.4 677.5,179.8 676.5,180 675.5,180.4 674.5,180.6 673.5,180.9 672.5,181.2 671.5,181.5 670.5,181.8 669.5,182 668.5,182.4 667.5,182.6M511,182.7 512,182.4 513,182 514,181.8 515,181.5 516,181.2 517,180.9 518,180.6 519,180.4 520,180 521,179.8 522,179.4 523,179.2 524,178.9 525,178.5 526,178.3 527.1,177.9 528.1,177.7 529.1,177.3 530.1,177.1 531.1,176.7 532.1,176.5 533.1,176.1 534.1,175.7 535.1,175.5 536.1,175.1 537.1,174.8 538.1,174.5 539.1,174.2 540.1,173.8 541.1,173.5 542.1,173.2 543.1,172.9 544.1,172.6 545.1,172.3 546.1,172 547.1,171.7 548.1,171.5 549.1,171.1 550.1,170.8 551.1,170.6 552.1,170.2 553.1,170 554.1,169.7 555.1,169.5 556.1,169.2 557.1,169 558.2,168.7 559.2,168.4 560.2,168.2 561.2,168 562.2,167.8 563.2,167.5 564.2,167.4 565.2,167.1 566.2,167 567.2,166.7 568.2,166.5 569.2,166.4 570.2,166.2 571.2,166 572.2,165.8 573.2,165.7 574.2,165.6 575.2,165.4 576.2,165.3 577.2,165.2 578.2,165.1 579.2,165 580.2,164.9 581.2,164.8 582.2,164.7 583.2,164.7 584.2,164.6 585.2,164.6 586.2,164.5 587.2,164.5 588.2,164.5 589.2,164.5 590.3,164.5 591.3,164.5 592.3,164.5 593.3,164.6 594.3,164.6 595.3,164.7 596.3,164.7 597.3,164.8 598.3,164.9 599.3,165 600.3,165.1 601.3,165.2 602.3,165.3 603.3,165.4 604.3,165.6 605.3,165.7 606.3,165.8 607.3,166 608.3,166.2 609.3,166.4 610.3,166.5 611.3,166.7 612.3,167 613.3,167.1 614.3,167.4 615.3,167.5 616.3,167.8 617.3,168 618.3,168.2 619.3,168.4 620.3,168.7 621.4,169 622.4,169.2 623.4,169.5 624.4,169.7 625.4,170 626.4,170.2 627.4,170.6 628.4,170.8 629.4,171.1 630.4,171.5 631.4,171.7 632.4,172 633.4,172.3 634.4,172.6 635.4,172.9 636.4,173.2 637.4,173.5 638.4,173.8 639.4,174.2 640.4,174.4 641.4,174.8 642.4,175 643.4,175.4 644.4,175.7 645.4,176 646.4,176.4 647.4,176.6 648.4,177 649.4,177.3 650.4,177.6 651.4,177.9 652.5,178.3 653.5,178.5 654.5,178.9 655.5,179.2 656.5,179.4 657.5,179.8 658.5,180 659.5,180.4 660.5,180.6 661.5,180.9 662.5,181.2 663.5,181.5 664.5,181.8 665.5,182 666.5,182.4 667.5,182.6" fill="none" stroke="#2a1510" stroke-width="0.95" stroke-opacity="0.85"/><path d="M511,182.5 513,181.9 515,181.4 517,180.8 519,180.1 521,179.6 523,179 525,178.4 527.1,177.8 529.1,177.2 531.1,176.6 533.1,176 535.1,175.3 537.1,174.6 539.1,174 541.1,173.3 543.1,172.7 545.1,172.2 547.1,171.6 549.1,171 551.1,170.5 553.1,169.9 555.1,169.3 557.1,168.8 559.2,168.3 561.2,167.9 563.2,167.4 565.2,167 567.2,166.6 569.2,166.3 571.2,165.9 573.2,165.6 575.2,165.3 577.2,165.1 579.2,164.9 581.2,164.8 583.2,164.6 585.2,164.6 587.2,164.5 589.2,164.5 591.3,164.5 593.3,164.6 595.3,164.6 597.3,164.8 599.3,164.9 601.3,165.1 603.3,165.3 605.3,165.6 607.3,165.9 609.3,166.3 611.3,166.6 613.3,167 615.3,167.4 617.3,167.9 619.3,168.3 621.4,168.8 623.4,169.3 625.4,169.9 627.4,170.5 629.4,171 631.4,171.6 633.4,172.2 635.4,172.7 637.4,173.3 639.4,173.9 641.4,174.5 643.4,175.3 645.4,175.9 647.4,176.5 649.4,177.1 651.4,177.8 653.5,178.4 655.5,179 657.5,179.6 659.5,180.1 661.5,180.8 663.5,181.4 665.5,181.9 667.5,182.5 669.5,181.9 671.5,181.4 673.5,180.8 675.5,180.1 677.5,179.6 679.5,179 681.5,178.4 683.6,177.8 685.6,177.1 687.6,176.5 689.6,175.9 691.6,175.3 693.6,174.5 695.6,173.9 697.6,173.3 699.6,172.7 701.6,172.2 703.6,171.6 705.6,171 707.6,170.5 709.6,169.9 711.6,169.3 713.6,168.8 715.7,168.3 717.7,167.9 719.7,167.4 721.7,167 723.7,166.6 725.7,166.3 727.7,165.9 729.7,165.6 731.7,165.3 733.7,165.1 735.7,164.9 737.7,164.8 739.7,164.6 741.7,164.6 743.7,164.5 745.8,164.5 747.8,164.5 749.8,164.6 751.8,164.6 753.8,164.8 755.8,164.9 757.8,165.1 759.8,165.3 761.8,165.6 763.8,165.9 765.8,166.3 767.8,166.6 769.8,167 771.8,167.4 773.8,167.9 775.8,168.3 777.9,168.8 779.9,169.3 781.9,169.9 783.9,170.5 785.9,171 787.9,171.6 789.9,172.2 791.9,172.7 793.9,173.3 795.9,174 797.9,174.6 799.9,175.3 801.9,176 803.9,176.6 805.9,177.2 807.9,177.8 810,178.4 812,179 814,179.6 816,180.1 818,180.8 820,181.4 822,181.9 824,182.5 824,182.7 822,182.7 820,182.7 818,182.7 816,182.8 814,182.8 812,182.9 810,182.9 807.9,183 805.9,183 803.9,183.1 801.9,183.2 799.9,183.2 797.9,183.3 795.9,183.5 793.9,183.6 791.9,183.8 789.9,183.9 787.9,184.1 785.9,184.3 783.9,184.6 781.9,184.8 779.9,185.1 777.9,185.5 775.8,185.7 773.8,186.2 771.8,186.6 769.8,187.3 767.8,187.8 765.8,188.7 763.8,189.6 761.8,190.2 759.8,191.1 757.8,191.8 755.8,192.9 753.8,193.7 751.8,194.8 749.8,195.7 747.8,196.8 745.8,197.9 743.7,198.7 741.7,199.8 739.7,200.6 737.7,201.6 735.7,202.4 733.7,203.4 731.7,204.2 729.7,205.3 727.7,206.4 725.7,207.3 723.7,208.4 721.7,209.3 719.7,210.4 717.7,211.4 715.7,212.6 713.6,213.9 711.6,215.5 709.6,216.9 707.6,218.1 705.6,219.4 703.6,220.5 701.6,221.8 699.6,222.9 697.6,224.2 695.6,225.4 693.6,226.9 691.6,228.3 689.6,229.7 687.6,231.2 685.6,232.6 683.6,234 681.5,235.3 679.5,236.7 677.5,238 675.5,239.7 673.5,240.7 671.5,241.1 669.5,241.4 667.5,241.5 665.5,241.4 663.5,241.1 661.5,240.7 659.5,239.7 657.5,238 655.5,236.7 653.5,235.3 651.4,234 649.4,232.6 647.4,231.2 645.4,229.7 643.4,228.3 641.4,226.9 639.4,225.4 637.4,224.2 635.4,222.9 633.4,221.8 631.4,220.5 629.4,219.4 627.4,218.1 625.4,216.9 623.4,215.5 621.4,213.9 619.3,212.6 617.3,211.4 615.3,210.4 613.3,209.3 611.3,208.4 609.3,207.3 607.3,206.4 605.3,205.3 603.3,204.2 601.3,203.4 599.3,202.4 597.3,201.6 595.3,200.6 593.3,199.8 591.3,198.7 589.2,197.9 587.2,196.8 585.2,195.7 583.2,194.8 581.2,193.7 579.2,192.9 577.2,191.8 575.2,191.1 573.2,190.2 571.2,189.6 569.2,188.7 567.2,187.8 565.2,187.3 563.2,186.6 561.2,186.2 559.2,185.7 557.1,185.5 555.1,185.1 553.1,184.8 551.1,184.6 549.1,184.3 547.1,184.1 545.1,183.9 543.1,183.8 541.1,183.6 539.1,183.5 537.1,183.3 535.1,183.2 533.1,183.2 531.1,183.1 529.1,183 527.1,183 525,182.9 523,182.9 521,182.8 519,182.8 517,182.7 515,182.7 513,182.7 511,182.7Z" fill="none" stroke="#2a1510" stroke-width="0.7" stroke-opacity="0.9"/></g><path d="M511,242.9 513,243 515,243 517,243.1 519,243.1 521,243.2 523,243.3 525,243.4 527.1,243.4 529.1,243.5 531.1,243.6 533.1,243.6 535.1,243.7 537.1,243.8 539.1,243.8 541.1,243.9 543.1,244 545.1,244 547.1,244.1 549.1,244.2 551.1,244.2 553.1,244.3 555.1,244.3 557.1,244.4 559.2,244.5 561.2,244.5 563.2,244.6 565.2,244.6 567.2,244.7 569.2,244.7 571.2,244.8 573.2,244.9 575.2,244.9 577.2,245 579.2,245 581.2,245.1 583.2,245.1 585.2,245.2 587.2,245.3 589.2,245.4 591.3,245.4 593.3,245.5 595.3,245.6 597.3,245.7 599.3,245.8 601.3,245.9 603.3,246 605.3,246.1 607.3,246.2 609.3,246.3 611.3,246.3 613.3,246.4 615.3,246.4 617.3,246.4 619.3,246.4 621.4,246.4 623.4,246.3 625.4,246.3 627.4,246.3 629.4,246.2 631.4,246.2 633.4,246.2 635.4,246.1 637.4,246.1 639.4,246 641.4,246 643.4,245.9 645.4,245.8 647.4,245.7 649.4,245.6 651.4,245.4 653.5,245.3 655.5,245 657.5,244.8 659.5,244.5 661.5,244.3 663.5,243.7 665.5,243.2 667.5,242.9 669.5,243.2 671.5,243.7 673.5,244.3 675.5,244.5 677.5,244.8 679.5,245 681.5,245.3 683.6,245.4 685.6,245.6 687.6,245.7 689.6,245.8 691.6,245.9 693.6,246 695.6,246 697.6,246.1 699.6,246.1 701.6,246.2 703.6,246.2 705.6,246.2 707.6,246.3 709.6,246.3 711.6,246.3 713.6,246.4 715.7,246.4 717.7,246.4 719.7,246.4 721.7,246.4 723.7,246.3 725.7,246.3 727.7,246.2 729.7,246.1 731.7,246 733.7,245.9 735.7,245.8 737.7,245.7 739.7,245.6 741.7,245.5 743.7,245.4 745.8,245.4 747.8,245.3 749.8,245.2 751.8,245.1 753.8,245.1 755.8,245 757.8,245 759.8,244.9 761.8,244.9 763.8,244.8 765.8,244.7 767.8,244.7 769.8,244.6 771.8,244.6 773.8,244.5 775.8,244.5 777.9,244.4 779.9,244.3 781.9,244.3 783.9,244.2 785.9,244.2 787.9,244.1 789.9,244 791.9,244 793.9,243.9 795.9,243.8 797.9,243.8 799.9,243.7 801.9,243.6 803.9,243.6 805.9,243.5 807.9,243.4 810,243.4 812,243.3 814,243.2 816,243.1 818,243.1 820,243 822,243 824,242.9 824,243.1 822,243.6 820,244.2 818,244.7 816,245.4 814,246 812,246.5 810,247.1 807.9,247.7 805.9,248.3 803.9,248.9 801.9,249.6 799.9,250.2 797.9,250.9 795.9,251.6 793.9,252.2 791.9,252.8 789.9,253.5 787.9,254.1 785.9,254.7 783.9,255.3 781.9,255.9 779.9,256.6 777.9,257.2 775.8,257.8 773.8,258.3 771.8,258.8 769.8,259.3 767.8,259.8 765.8,260.2 763.8,260.7 761.8,261.1 759.8,261.4 757.8,261.7 755.8,261.9 753.8,262.1 751.8,262.2 749.8,262.3 747.8,262.4 745.8,262.4 743.7,262.4 741.7,262.3 739.7,262.2 737.7,262.1 735.7,261.9 733.7,261.7 731.7,261.5 729.7,261.3 727.7,261 725.7,260.6 723.7,260.3 721.7,259.9 719.7,259.5 717.7,259.1 715.7,258.7 713.6,258.3 711.6,257.8 709.6,257.2 707.6,256.7 705.6,256.2 703.6,255.7 701.6,255.2 699.6,254.6 697.6,254.1 695.6,253.5 693.6,252.9 691.6,252.2 689.6,251.6 687.6,251 685.6,250.4 683.6,249.8 681.5,249.2 679.5,248.6 677.5,248.2 675.5,247.8 673.5,247.5 671.5,247.1 669.5,246.8 667.5,246.5 665.5,246.8 663.5,247.1 661.5,247.5 659.5,247.8 657.5,248.2 655.5,248.6 653.5,249.2 651.4,249.8 649.4,250.4 647.4,251 645.4,251.6 643.4,252.2 641.4,252.9 639.4,253.5 637.4,254.1 635.4,254.6 633.4,255.2 631.4,255.7 629.4,256.2 627.4,256.7 625.4,257.2 623.4,257.8 621.4,258.3 619.3,258.7 617.3,259.1 615.3,259.5 613.3,259.9 611.3,260.3 609.3,260.6 607.3,261 605.3,261.3 603.3,261.5 601.3,261.7 599.3,261.9 597.3,262.1 595.3,262.2 593.3,262.3 591.3,262.4 589.2,262.4 587.2,262.4 585.2,262.3 583.2,262.2 581.2,262.1 579.2,261.9 577.2,261.7 575.2,261.4 573.2,261.1 571.2,260.7 569.2,260.2 567.2,259.8 565.2,259.3 563.2,258.8 561.2,258.3 559.2,257.8 557.1,257.2 555.1,256.6 553.1,255.9 551.1,255.3 549.1,254.7 547.1,254.1 545.1,253.5 543.1,252.8 541.1,252.2 539.1,251.6 537.1,250.9 535.1,250.2 533.1,249.6 531.1,248.9 529.1,248.3 527.1,247.7 525,247.1 523,246.5 521,246 519,245.4 517,244.7 515,244.2 513,243.6 511,243.1Z" fill="url(#gm)"/><path d="M511,242.9 511,242.9M824,242.9 824,242.9M523,243.3 522,243.5 521,243.7 520,243.9 519,244.1 518,244.3 517,244.5M812,243.3 813,243.5 814,243.7 815,243.9 816,244.1 817,244.3 818,244.5M535.1,243.7 534.1,244 533.1,244.2 532.1,244.4 531.1,244.6 530.1,244.9 529.1,245.1 528.1,245.3 527.1,245.5 526,245.7 525,245.9 524,246.1 523,246.3M799.9,243.7 800.9,244 801.9,244.2 802.9,244.4 803.9,244.6 804.9,244.9 805.9,245.1 806.9,245.3 807.9,245.5 809,245.7 810,245.9 811,246.1 812,246.3M547.1,244.1 546.1,244.4 545.1,244.6 544.1,244.9 543.1,245.1 542.1,245.4 541.1,245.6 540.1,245.9 539.1,246.1 538.1,246.3 537.1,246.5 536.1,246.7 535.1,246.9 534.1,247.1 533.1,247.3 532.1,247.5 531.1,247.7 530.1,247.9 529.1,248.1M787.9,244.1 788.9,244.4 789.9,244.6 790.9,244.9 791.9,245.1 792.9,245.4 793.9,245.6 794.9,245.9 795.9,246.1 796.9,246.3 797.9,246.5 798.9,246.7 799.9,246.9 800.9,247.1 801.9,247.3 802.9,247.5 803.9,247.7 804.9,247.9 805.9,248.1M559.2,244.5 558.2,244.8 557.1,245.1 556.1,245.4 555.1,245.6 554.1,245.9 553.1,246.2 552.1,246.4 551.1,246.7 550.1,246.9 549.1,247.2 548.1,247.4 547.1,247.7 546.1,247.9 545.1,248.1 544.1,248.3 543.1,248.5 542.1,248.7 541.1,248.9 540.1,249.1 539.1,249.3 538.1,249.5 537.1,249.6 536.1,249.8 535.1,250M775.8,244.5 776.8,244.8 777.9,245.1 778.9,245.4 779.9,245.6 780.9,245.9 781.9,246.2 782.9,246.4 783.9,246.7 784.9,246.9 785.9,247.2 786.9,247.4 787.9,247.7 788.9,247.9 789.9,248.1 790.9,248.3 791.9,248.5 792.9,248.7 793.9,248.9 794.9,249.1 795.9,249.3 796.9,249.5 797.9,249.6 798.9,249.8 799.9,250M571.2,244.8 570.2,245.1 569.2,245.3 568.2,245.6 567.2,245.9 566.2,246.2 565.2,246.5 564.2,246.7 563.2,247 562.2,247.3 561.2,247.7 560.2,248 559.2,248.3 558.2,248.6 557.1,248.9 556.1,249.1 555.1,249.4 554.1,249.6 553.1,249.8 552.1,250 551.1,250.2 550.1,250.4 549.1,250.6 548.1,250.8 547.1,251 546.1,251.1 545.1,251.3 544.1,251.5 543.1,251.6 542.1,251.8 541.1,251.9M763.8,244.8 764.8,245.1 765.8,245.3 766.8,245.6 767.8,245.9 768.8,246.2 769.8,246.5 770.8,246.7 771.8,247 772.8,247.3 773.8,247.7 774.8,248 775.8,248.3 776.8,248.6 777.9,248.9 778.9,249.1 779.9,249.4 780.9,249.6 781.9,249.8 782.9,250 783.9,250.2 784.9,250.4 785.9,250.6 786.9,250.8 787.9,251 788.9,251.1 789.9,251.3 790.9,251.5 791.9,251.6 792.9,251.8 793.9,251.9M583.2,245.2 582.2,245.4 581.2,245.6 580.2,245.9 579.2,246.1 578.2,246.3 577.2,246.6 576.2,246.8 575.2,247.1 574.2,247.4 573.2,247.6 572.2,247.9 571.2,248.2 570.2,248.5 569.2,248.8 568.2,249.1 567.2,249.4 566.2,249.7 565.2,250 564.2,250.4 563.2,250.7 562.2,251 561.2,251.4 560.2,251.7 559.2,252 558.2,252.2 557.1,252.4 556.1,252.6 555.1,252.7 554.1,252.9 553.1,253 552.1,253.2 551.1,253.3 550.1,253.5 549.1,253.6 548.1,253.7 547.1,253.8M751.8,245.2 752.8,245.4 753.8,245.6 754.8,245.9 755.8,246.1 756.8,246.3 757.8,246.6 758.8,246.8 759.8,247.1 760.8,247.4 761.8,247.6 762.8,247.9 763.8,248.2 764.8,248.5 765.8,248.8 766.8,249.1 767.8,249.4 768.8,249.7 769.8,250 770.8,250.4 771.8,250.7 772.8,251 773.8,251.4 774.8,251.7 775.8,252 776.8,252.2 777.9,252.4 778.9,252.6 779.9,252.7 780.9,252.9 781.9,253 782.9,253.2 783.9,253.3 784.9,253.5 785.9,253.6 786.9,253.7 787.9,253.8M595.3,245.6 594.3,245.8 593.3,246 592.3,246.2 591.3,246.3 590.3,246.5 589.2,246.8 588.2,247 587.2,247.2 586.2,247.4 585.2,247.6 584.2,247.9 583.2,248.1 582.2,248.4 581.2,248.6 580.2,248.9 579.2,249.2 578.2,249.5 577.2,249.7 576.2,250 575.2,250.3 574.2,250.6 573.2,250.9 572.2,251.2 571.2,251.5 570.2,251.9 569.2,252.2 568.2,252.5 567.2,252.9 566.2,253.2 565.2,253.6 564.2,253.9 563.2,254.3 562.2,254.7 561.2,254.8 560.2,255 559.2,255.1 558.2,255.2 557.1,255.3 556.1,255.4 555.1,255.5 554.1,255.6 553.1,255.7M739.7,245.6 740.7,245.8 741.7,246 742.7,246.2 743.7,246.3 744.7,246.5 745.8,246.8 746.8,247 747.8,247.2 748.8,247.4 749.8,247.6 750.8,247.9 751.8,248.1 752.8,248.4 753.8,248.6 754.8,248.9 755.8,249.2 756.8,249.5 757.8,249.7 758.8,250 759.8,250.3 760.8,250.6 761.8,250.9 762.8,251.2 763.8,251.5 764.8,251.9 765.8,252.2 766.8,252.5 767.8,252.9 768.8,253.2 769.8,253.6 770.8,253.9 771.8,254.3 772.8,254.7 773.8,254.8 774.8,255 775.8,255.1 776.8,255.2 777.9,255.3 778.9,255.4 779.9,255.5 780.9,255.6 781.9,255.7M607.3,246.2 606.3,246.4 605.3,246.5 604.3,246.7 603.3,246.8 602.3,247 601.3,247.1 600.3,247.3 599.3,247.4 598.3,247.6 597.3,247.8 596.3,247.9 595.3,248.1 594.3,248.3 593.3,248.5 592.3,248.8 591.3,249 590.3,249.2 589.2,249.5 588.2,249.7 587.2,250 586.2,250.2 585.2,250.5 584.2,250.8 583.2,251 582.2,251.3 581.2,251.6 580.2,251.9 579.2,252.2 578.2,252.5 577.2,252.8 576.2,253.2 575.2,253.5 574.2,253.8 573.2,254.2 572.2,254.5 571.2,254.9 570.2,255.2 569.2,255.6 568.2,255.9 567.2,256.3 566.2,256.7 565.2,257.1 564.2,257.2 563.2,257.2 562.2,257.3 561.2,257.4 560.2,257.5 559.2,257.5M727.7,246.2 728.7,246.4 729.7,246.5 730.7,246.7 731.7,246.8 732.7,247 733.7,247.1 734.7,247.3 735.7,247.4 736.7,247.6 737.7,247.8 738.7,247.9 739.7,248.1 740.7,248.3 741.7,248.5 742.7,248.8 743.7,249 744.7,249.2 745.8,249.5 746.8,249.7 747.8,250 748.8,250.2 749.8,250.5 750.8,250.8 751.8,251 752.8,251.3 753.8,251.6 754.8,251.9 755.8,252.2 756.8,252.5 757.8,252.8 758.8,253.2 759.8,253.5 760.8,253.8 761.8,254.2 762.8,254.5 763.8,254.9 764.8,255.2 765.8,255.6 766.8,255.9 767.8,256.3 768.8,256.7 769.8,257.1 770.8,257.2 771.8,257.2 772.8,257.3 773.8,257.4 774.8,257.5 775.8,257.5M619.3,246.4 618.3,246.5 617.3,246.7 616.3,246.9 615.3,247 614.3,247.2 613.3,247.3 612.3,247.5 611.3,247.7 610.3,247.8 609.3,248 608.3,248.2 607.3,248.3 606.3,248.5 605.3,248.6 604.3,248.8 603.3,249 602.3,249.2 601.3,249.3 600.3,249.5 599.3,249.7 598.3,249.9 597.3,250.1 596.3,250.3 595.3,250.6 594.3,250.8 593.3,251.1 592.3,251.3 591.3,251.6 590.3,251.8 589.2,252.1 588.2,252.4 587.2,252.7 586.2,253 585.2,253.3 584.2,253.6 583.2,253.9 582.2,254.2 581.2,254.5 580.2,254.9 579.2,255.2 578.2,255.6 577.2,255.9 576.2,256.3 575.2,256.6 574.2,257 573.2,257.4 572.2,257.7 571.2,258.1 570.2,258.5 569.2,258.9 568.2,259 567.2,259.1 566.2,259.1 565.2,259.1M715.7,246.4 716.7,246.5 717.7,246.7 718.7,246.9 719.7,247 720.7,247.2 721.7,247.3 722.7,247.5 723.7,247.7 724.7,247.8 725.7,248 726.7,248.2 727.7,248.3 728.7,248.5 729.7,248.6 730.7,248.8 731.7,249 732.7,249.2 733.7,249.3 734.7,249.5 735.7,249.7 736.7,249.9 737.7,250.1 738.7,250.3 739.7,250.6 740.7,250.8 741.7,251.1 742.7,251.3 743.7,251.6 744.7,251.8 745.8,252.1 746.8,252.4 747.8,252.7 748.8,253 749.8,253.3 750.8,253.6 751.8,253.9 752.8,254.2 753.8,254.5 754.8,254.9 755.8,255.2 756.8,255.6 757.8,255.9 758.8,256.3 759.8,256.6 760.8,257 761.8,257.4 762.8,257.7 763.8,258.1 764.8,258.5 765.8,258.9 766.8,259 767.8,259.1 768.8,259.1 769.8,259.1M631.4,246.2 630.4,246.4 629.4,246.5 628.4,246.6 627.4,246.8 626.4,246.9 625.4,247.1 624.4,247.2 623.4,247.4 622.4,247.6 621.4,247.7 620.3,247.9 619.3,248.1 618.3,248.3 617.3,248.5 616.3,248.7 615.3,248.9 614.3,249 613.3,249.2 612.3,249.4 611.3,249.6 610.3,249.7 609.3,249.9 608.3,250.1 607.3,250.3 606.3,250.5 605.3,250.7 604.3,250.8 603.3,251 602.3,251.3 601.3,251.5 600.3,251.7 599.3,251.9 598.3,252.2 597.3,252.4 596.3,252.7 595.3,253 594.3,253.2 593.3,253.5 592.3,253.8 591.3,254.1 590.3,254.4 589.2,254.7 588.2,255 587.2,255.4 586.2,255.7 585.2,256 584.2,256.4 583.2,256.7 582.2,257.1 581.2,257.4 580.2,257.8 579.2,258.2 578.2,258.6 577.2,258.9 576.2,259.3 575.2,259.7 574.2,260.1 573.2,260.5 572.2,260.5 571.2,260.5M703.6,246.2 704.6,246.4 705.6,246.5 706.6,246.6 707.6,246.8 708.6,246.9 709.6,247.1 710.6,247.2 711.6,247.4 712.6,247.6 713.6,247.7 714.7,247.9 715.7,248.1 716.7,248.3 717.7,248.5 718.7,248.7 719.7,248.9 720.7,249 721.7,249.2 722.7,249.4 723.7,249.6 724.7,249.7 725.7,249.9 726.7,250.1 727.7,250.3 728.7,250.5 729.7,250.7 730.7,250.8 731.7,251 732.7,251.3 733.7,251.5 734.7,251.7 735.7,251.9 736.7,252.2 737.7,252.4 738.7,252.7 739.7,253 740.7,253.2 741.7,253.5 742.7,253.8 743.7,254.1 744.7,254.4 745.8,254.7 746.8,255 747.8,255.4 748.8,255.7 749.8,256 750.8,256.4 751.8,256.7 752.8,257.1 753.8,257.4 754.8,257.8 755.8,258.2 756.8,258.6 757.8,258.9 758.8,259.3 759.8,259.7 760.8,260.1 761.8,260.5 762.8,260.5 763.8,260.5M643.4,245.9 642.4,246 641.4,246.1 640.4,246.3 639.4,246.4 638.4,246.5 637.4,246.6 636.4,246.8 635.4,246.9 634.4,247.1 633.4,247.2 632.4,247.4 631.4,247.5 630.4,247.7 629.4,247.9 628.4,248.1 627.4,248.2 626.4,248.4 625.4,248.6 624.4,248.8 623.4,249 622.4,249.2 621.4,249.4 620.3,249.6 619.3,249.8 618.3,250 617.3,250.2 616.3,250.4 615.3,250.6 614.3,250.8 613.3,251 612.3,251.1 611.3,251.3 610.3,251.5 609.3,251.7 608.3,251.9 607.3,252.1 606.3,252.3 605.3,252.6 604.3,252.8 603.3,253 602.3,253.3 601.3,253.6 600.3,253.8 599.3,254.1 598.3,254.4 597.3,254.7 596.3,255 595.3,255.3 594.3,255.6 593.3,256 592.3,256.3 591.3,256.6 590.3,257 589.2,257.3 588.2,257.7 587.2,258 586.2,258.4 585.2,258.8 584.2,259.1 583.2,259.5 582.2,259.9 581.2,260.3 580.2,260.7 579.2,261.1 578.2,261.5 577.2,261.5M691.6,245.9 692.6,246 693.6,246.1 694.6,246.3 695.6,246.4 696.6,246.5 697.6,246.6 698.6,246.8 699.6,246.9 700.6,247.1 701.6,247.2 702.6,247.4 703.6,247.5 704.6,247.7 705.6,247.9 706.6,248.1 707.6,248.2 708.6,248.4 709.6,248.6 710.6,248.8 711.6,249 712.6,249.2 713.6,249.4 714.7,249.6 715.7,249.8 716.7,250 717.7,250.2 718.7,250.4 719.7,250.6 720.7,250.8 721.7,251 722.7,251.1 723.7,251.3 724.7,251.5 725.7,251.7 726.7,251.9 727.7,252.1 728.7,252.3 729.7,252.6 730.7,252.8 731.7,253 732.7,253.3 733.7,253.6 734.7,253.8 735.7,254.1 736.7,254.4 737.7,254.7 738.7,255 739.7,255.3 740.7,255.6 741.7,256 742.7,256.3 743.7,256.6 744.7,257 745.8,257.3 746.8,257.7 747.8,258 748.8,258.4 749.8,258.8 750.8,259.1 751.8,259.5 752.8,259.9 753.8,260.3 754.8,260.7 755.8,261.1 756.8,261.5 757.8,261.5M655.5,245.1 654.5,245.3 653.5,245.4 652.5,245.6 651.4,245.7 650.4,245.9 649.4,246 648.4,246.2 647.4,246.3 646.4,246.5 645.4,246.6 644.4,246.7 643.4,246.9 642.4,247 641.4,247.2 640.4,247.3 639.4,247.5 638.4,247.6 637.4,247.8 636.4,248 635.4,248.2 634.4,248.3 633.4,248.5 632.4,248.7 631.4,248.9 630.4,249.1 629.4,249.3 628.4,249.5 627.4,249.7 626.4,249.9 625.4,250.1 624.4,250.3 623.4,250.6 622.4,250.8 621.4,251 620.3,251.2 619.3,251.4 618.3,251.5 617.3,251.7 616.3,251.9 615.3,252.1 614.3,252.3 613.3,252.5 612.3,252.7 611.3,253 610.3,253.2 609.3,253.4 608.3,253.7 607.3,253.9 606.3,254.2 605.3,254.5 604.3,254.8 603.3,255.1 602.3,255.4 601.3,255.7 600.3,256 599.3,256.3 598.3,256.6 597.3,257 596.3,257.3 595.3,257.7 594.3,258 593.3,258.4 592.3,258.7 591.3,259.1 590.3,259.5 589.2,259.9 588.2,260.3 587.2,260.7 586.2,261.1 585.2,261.5 584.2,261.9 583.2,262.2M679.5,245.1 680.5,245.3 681.5,245.4 682.5,245.6 683.6,245.7 684.6,245.9 685.6,246 686.6,246.2 687.6,246.3 688.6,246.5 689.6,246.6 690.6,246.7 691.6,246.9 692.6,247 693.6,247.2 694.6,247.3 695.6,247.5 696.6,247.6 697.6,247.8 698.6,248 699.6,248.2 700.6,248.3 701.6,248.5 702.6,248.7 703.6,248.9 704.6,249.1 705.6,249.3 706.6,249.5 707.6,249.7 708.6,249.9 709.6,250.1 710.6,250.3 711.6,250.6 712.6,250.8 713.6,251 714.7,251.2 715.7,251.4 716.7,251.5 717.7,251.7 718.7,251.9 719.7,252.1 720.7,252.3 721.7,252.5 722.7,252.7 723.7,253 724.7,253.2 725.7,253.4 726.7,253.7 727.7,253.9 728.7,254.2 729.7,254.5 730.7,254.8 731.7,255.1 732.7,255.4 733.7,255.7 734.7,256 735.7,256.3 736.7,256.6 737.7,257 738.7,257.3 739.7,257.7 740.7,258 741.7,258.4 742.7,258.7 743.7,259.1 744.7,259.5 745.8,259.9 746.8,260.3 747.8,260.7 748.8,261.1 749.8,261.5 750.8,261.9 751.8,262.2M667.5,243.6 666.5,243.8 665.5,244 664.5,244.2 663.5,244.4 662.5,244.6 661.5,244.8 660.5,245 659.5,245.2 658.5,245.4 657.5,245.6 656.5,245.8 655.5,246 654.5,246.2 653.5,246.3 652.5,246.5 651.4,246.6 650.4,246.8 649.4,246.9 648.4,247.1 647.4,247.2 646.4,247.4 645.4,247.6 644.4,247.7 643.4,247.9 642.4,248.1 641.4,248.2 640.4,248.4 639.4,248.6 638.4,248.8 637.4,249 636.4,249.2 635.4,249.4 634.4,249.6 633.4,249.8 632.4,250 631.4,250.2 630.4,250.5 629.4,250.7 628.4,250.9 627.4,251.1 626.4,251.3 625.4,251.5 624.4,251.7 623.4,251.9 622.4,252.1 621.4,252.3 620.3,252.5 619.3,252.7 618.3,252.9 617.3,253.1 616.3,253.3 615.3,253.6 614.3,253.8 613.3,254.1 612.3,254.3 611.3,254.6 610.3,254.9 609.3,255.2 608.3,255.5 607.3,255.8 606.3,256.1 605.3,256.4 604.3,256.8 603.3,257.1 602.3,257.4 601.3,257.8 600.3,258.1 599.3,258.5 598.3,258.9 597.3,259.2 596.3,259.6 595.3,260 594.3,260.4 593.3,260.8 592.3,261.2 591.3,261.6 590.3,262 589.2,262.4M667.5,243.6 668.5,243.8 669.5,244 670.5,244.2 671.5,244.4 672.5,244.6 673.5,244.8 674.5,245 675.5,245.2 676.5,245.4 677.5,245.6 678.5,245.8 679.5,246 680.5,246.2 681.5,246.3 682.5,246.5 683.6,246.6 684.6,246.8 685.6,246.9 686.6,247.1 687.6,247.2 688.6,247.4 689.6,247.6 690.6,247.7 691.6,247.9 692.6,248.1 693.6,248.2 694.6,248.4 695.6,248.6 696.6,248.8 697.6,249 698.6,249.2 699.6,249.4 700.6,249.6 701.6,249.8 702.6,250 703.6,250.2 704.6,250.5 705.6,250.7 706.6,250.9 707.6,251.1 708.6,251.3 709.6,251.5 710.6,251.7 711.6,251.9 712.6,252.1 713.6,252.3 714.7,252.5 715.7,252.7 716.7,252.9 717.7,253.1 718.7,253.3 719.7,253.6 720.7,253.8 721.7,254.1 722.7,254.3 723.7,254.6 724.7,254.9 725.7,255.2 726.7,255.5 727.7,255.8 728.7,256.1 729.7,256.4 730.7,256.8 731.7,257.1 732.7,257.4 733.7,257.8 734.7,258.1 735.7,258.5 736.7,258.9 737.7,259.2 738.7,259.6 739.7,260 740.7,260.4 741.7,260.8 742.7,261.2 743.7,261.6 744.7,262 745.8,262.4M679.5,245.1 678.5,245 677.5,245 676.5,244.9 675.5,244.9 674.5,244.8 673.5,244.8 672.5,244.8 671.5,244.9 670.5,244.9 669.5,245 668.5,245 667.5,245.1 666.5,245.3 665.5,245.4 664.5,245.6 663.5,245.7 662.5,245.9 661.5,246 660.5,246.2 659.5,246.3 658.5,246.5 657.5,246.6 656.5,246.7 655.5,246.9 654.5,247 653.5,247.2 652.5,247.3 651.4,247.5 650.4,247.6 649.4,247.8 648.4,248 647.4,248.2 646.4,248.3 645.4,248.5 644.4,248.7 643.4,248.9 642.4,249.1 641.4,249.3 640.4,249.5 639.4,249.7 638.4,249.9 637.4,250.1 636.4,250.3 635.4,250.6 634.4,250.8 633.4,251 632.4,251.2 631.4,251.4 630.4,251.5 629.4,251.7 628.4,251.9 627.4,252.1 626.4,252.3 625.4,252.5 624.4,252.7 623.4,253 622.4,253.2 621.4,253.4 620.3,253.7 619.3,253.9 618.3,254.2 617.3,254.5 616.3,254.8 615.3,255.1 614.3,255.4 613.3,255.7 612.3,256 611.3,256.3 610.3,256.6 609.3,257 608.3,257.3 607.3,257.7 606.3,258 605.3,258.4 604.3,258.7 603.3,259.1 602.3,259.5 601.3,259.9 600.3,260.3 599.3,260.7 598.3,261.1 597.3,261.5 596.3,261.9 595.3,262.2M655.5,245.1 656.5,245 657.5,245 658.5,244.9 659.5,244.9 660.5,244.8 661.5,244.8 662.5,244.8 663.5,244.9 664.5,244.9 665.5,245 666.5,245 667.5,245.1 668.5,245.3 669.5,245.4 670.5,245.6 671.5,245.7 672.5,245.9 673.5,246 674.5,246.2 675.5,246.3 676.5,246.5 677.5,246.6 678.5,246.7 679.5,246.9 680.5,247 681.5,247.2 682.5,247.3 683.6,247.5 684.6,247.6 685.6,247.8 686.6,248 687.6,248.2 688.6,248.3 689.6,248.5 690.6,248.7 691.6,248.9 692.6,249.1 693.6,249.3 694.6,249.5 695.6,249.7 696.6,249.9 697.6,250.1 698.6,250.3 699.6,250.6 700.6,250.8 701.6,251 702.6,251.2 703.6,251.4 704.6,251.5 705.6,251.7 706.6,251.9 707.6,252.1 708.6,252.3 709.6,252.5 710.6,252.7 711.6,253 712.6,253.2 713.6,253.4 714.7,253.7 715.7,253.9 716.7,254.2 717.7,254.5 718.7,254.8 719.7,255.1 720.7,255.4 721.7,255.7 722.7,256 723.7,256.3 724.7,256.6 725.7,257 726.7,257.3 727.7,257.7 728.7,258 729.7,258.4 730.7,258.7 731.7,259.1 732.7,259.5 733.7,259.9 734.7,260.3 735.7,260.7 736.7,261.1 737.7,261.5 738.7,261.9 739.7,262.2M691.6,245.9 690.6,246 689.6,246 688.6,246 687.6,246 686.6,246 685.6,246 684.6,246 683.6,246 682.5,246 681.5,246 680.5,246 679.5,246 678.5,246 677.5,246 676.5,246 675.5,246 674.5,246 673.5,246 672.5,246 671.5,246 670.5,246 669.5,246 668.5,246 667.5,245.9 666.5,246 665.5,246.1 664.5,246.3 663.5,246.4 662.5,246.5 661.5,246.6 660.5,246.8 659.5,246.9 658.5,247.1 657.5,247.2 656.5,247.4 655.5,247.5 654.5,247.7 653.5,247.9 652.5,248.1 651.4,248.2 650.4,248.4 649.4,248.6 648.4,248.8 647.4,249 646.4,249.2 645.4,249.4 644.4,249.6 643.4,249.8 642.4,250 641.4,250.2 640.4,250.4 639.4,250.6 638.4,250.8 637.4,251 636.4,251.1 635.4,251.3 634.4,251.5 633.4,251.7 632.4,251.9 631.4,252.1 630.4,252.3 629.4,252.6 628.4,252.8 627.4,253 626.4,253.3 625.4,253.6 624.4,253.8 623.4,254.1 622.4,254.4 621.4,254.7 620.3,255 619.3,255.3 618.3,255.6 617.3,256 616.3,256.3 615.3,256.6 614.3,257 613.3,257.3 612.3,257.7 611.3,258 610.3,258.4 609.3,258.8 608.3,259.1 607.3,259.5 606.3,259.9 605.3,260.3 604.3,260.7 603.3,261.1 602.3,261.5 601.3,261.5M643.4,245.9 644.4,246 645.4,246 646.4,246 647.4,246 648.4,246 649.4,246 650.4,246 651.4,246 652.5,246 653.5,246 654.5,246 655.5,246 656.5,246 657.5,246 658.5,246 659.5,246 660.5,246 661.5,246 662.5,246 663.5,246 664.5,246 665.5,246 666.5,246 667.5,245.9 668.5,246 669.5,246.1 670.5,246.3 671.5,246.4 672.5,246.5 673.5,246.6 674.5,246.8 675.5,246.9 676.5,247.1 677.5,247.2 678.5,247.4 679.5,247.5 680.5,247.7 681.5,247.9 682.5,248.1 683.6,248.2 684.6,248.4 685.6,248.6 686.6,248.8 687.6,249 688.6,249.2 689.6,249.4 690.6,249.6 691.6,249.8 692.6,250 693.6,250.2 694.6,250.4 695.6,250.6 696.6,250.8 697.6,251 698.6,251.1 699.6,251.3 700.6,251.5 701.6,251.7 702.6,251.9 703.6,252.1 704.6,252.3 705.6,252.6 706.6,252.8 707.6,253 708.6,253.3 709.6,253.6 710.6,253.8 711.6,254.1 712.6,254.4 713.6,254.7 714.7,255 715.7,255.3 716.7,255.6 717.7,256 718.7,256.3 719.7,256.6 720.7,257 721.7,257.3 722.7,257.7 723.7,258 724.7,258.4 725.7,258.8 726.7,259.1 727.7,259.5 728.7,259.9 729.7,260.3 730.7,260.7 731.7,261.1 732.7,261.5 733.7,261.5M703.6,246.2 702.6,246.3 701.6,246.4 700.6,246.5 699.6,246.5 698.6,246.6 697.6,246.6 696.6,246.7 695.6,246.7 694.6,246.8 693.6,246.8 692.6,246.8 691.6,246.9 690.6,246.9 689.6,246.9 688.6,246.9 687.6,246.9 686.6,246.9 685.6,246.9 684.6,246.9 683.6,246.9 682.5,246.9 681.5,246.9 680.5,246.9 679.5,246.9 678.5,246.8 677.5,246.8 676.5,246.8 675.5,246.7 674.5,246.7 673.5,246.6 672.5,246.6 671.5,246.5 670.5,246.5 669.5,246.4 668.5,246.3 667.5,246.2 666.5,246.4 665.5,246.5 664.5,246.6 663.5,246.8 662.5,246.9 661.5,247.1 660.5,247.2 659.5,247.4 658.5,247.6 657.5,247.7 656.5,247.9 655.5,248.1 654.5,248.3 653.5,248.5 652.5,248.7 651.4,248.9 650.4,249 649.4,249.2 648.4,249.4 647.4,249.6 646.4,249.7 645.4,249.9 644.4,250.1 643.4,250.3 642.4,250.5 641.4,250.7 640.4,250.8 639.4,251 638.4,251.3 637.4,251.5 636.4,251.7 635.4,251.9 634.4,252.2 633.4,252.4 632.4,252.7 631.4,253 630.4,253.2 629.4,253.5 628.4,253.8 627.4,254.1 626.4,254.4 625.4,254.7 624.4,255 623.4,255.4 622.4,255.7 621.4,256 620.3,256.4 619.3,256.7 618.3,257.1 617.3,257.4 616.3,257.8 615.3,258.2 614.3,258.6 613.3,258.9 612.3,259.3 611.3,259.7 610.3,260.1 609.3,260.5 608.3,260.5 607.3,260.5M631.4,246.2 632.4,246.3 633.4,246.4 634.4,246.5 635.4,246.5 636.4,246.6 637.4,246.6 638.4,246.7 639.4,246.7 640.4,246.8 641.4,246.8 642.4,246.8 643.4,246.9 644.4,246.9 645.4,246.9 646.4,246.9 647.4,246.9 648.4,246.9 649.4,246.9 650.4,246.9 651.4,246.9 652.5,246.9 653.5,246.9 654.5,246.9 655.5,246.9 656.5,246.8 657.5,246.8 658.5,246.8 659.5,246.7 660.5,246.7 661.5,246.6 662.5,246.6 663.5,246.5 664.5,246.5 665.5,246.4 666.5,246.3 667.5,246.2 668.5,246.4 669.5,246.5 670.5,246.6 671.5,246.8 672.5,246.9 673.5,247.1 674.5,247.2 675.5,247.4 676.5,247.6 677.5,247.7 678.5,247.9 679.5,248.1 680.5,248.3 681.5,248.5 682.5,248.7 683.6,248.9 684.6,249 685.6,249.2 686.6,249.4 687.6,249.6 688.6,249.7 689.6,249.9 690.6,250.1 691.6,250.3 692.6,250.5 693.6,250.7 694.6,250.8 695.6,251 696.6,251.3 697.6,251.5 698.6,251.7 699.6,251.9 700.6,252.2 701.6,252.4 702.6,252.7 703.6,253 704.6,253.2 705.6,253.5 706.6,253.8 707.6,254.1 708.6,254.4 709.6,254.7 710.6,255 711.6,255.4 712.6,255.7 713.6,256 714.7,256.4 715.7,256.7 716.7,257.1 717.7,257.4 718.7,257.8 719.7,258.2 720.7,258.6 721.7,258.9 722.7,259.3 723.7,259.7 724.7,260.1 725.7,260.5 726.7,260.5 727.7,260.5M715.7,246.4 714.7,246.5 713.6,246.6 712.6,246.8 711.6,246.9 710.6,247 709.6,247.1 708.6,247.2 707.6,247.3 706.6,247.3 705.6,247.4 704.6,247.5 703.6,247.5 702.6,247.6 701.6,247.7 700.6,247.7 699.6,247.7 698.6,247.8 697.6,247.8 696.6,247.8 695.6,247.9 694.6,247.9 693.6,247.9 692.6,247.9 691.6,247.9 690.6,247.9 689.6,247.9 688.6,247.9 687.6,247.9 686.6,247.8 685.6,247.8 684.6,247.8 683.6,247.7 682.5,247.7 681.5,247.7 680.5,247.6 679.5,247.5 678.5,247.5 677.5,247.4 676.5,247.3 675.5,247.3 674.5,247.2 673.5,247.1 672.5,247 671.5,246.9 670.5,246.8 669.5,246.6 668.5,246.5 667.5,246.4 666.5,246.5 665.5,246.7 664.5,246.9 663.5,247 662.5,247.2 661.5,247.3 660.5,247.5 659.5,247.7 658.5,247.8 657.5,248 656.5,248.2 655.5,248.3 654.5,248.5 653.5,248.6 652.5,248.8 651.4,249 650.4,249.2 649.4,249.3 648.4,249.5 647.4,249.7 646.4,249.9 645.4,250.1 644.4,250.3 643.4,250.6 642.4,250.8 641.4,251.1 640.4,251.3 639.4,251.6 638.4,251.8 637.4,252.1 636.4,252.4 635.4,252.7 634.4,253 633.4,253.3 632.4,253.6 631.4,253.9 630.4,254.2 629.4,254.5 628.4,254.9 627.4,255.2 626.4,255.6 625.4,255.9 624.4,256.3 623.4,256.6 622.4,257 621.4,257.4 620.3,257.7 619.3,258.1 618.3,258.5 617.3,258.9 616.3,259 615.3,259.1 614.3,259.1 613.3,259.1M619.3,246.4 620.3,246.5 621.4,246.6 622.4,246.8 623.4,246.9 624.4,247 625.4,247.1 626.4,247.2 627.4,247.3 628.4,247.3 629.4,247.4 630.4,247.5 631.4,247.5 632.4,247.6 633.4,247.7 634.4,247.7 635.4,247.7 636.4,247.8 637.4,247.8 638.4,247.8 639.4,247.9 640.4,247.9 641.4,247.9 642.4,247.9 643.4,247.9 644.4,247.9 645.4,247.9 646.4,247.9 647.4,247.9 648.4,247.8 649.4,247.8 650.4,247.8 651.4,247.7 652.5,247.7 653.5,247.7 654.5,247.6 655.5,247.5 656.5,247.5 657.5,247.4 658.5,247.3 659.5,247.3 660.5,247.2 661.5,247.1 662.5,247 663.5,246.9 664.5,246.8 665.5,246.6 666.5,246.5 667.5,246.4 668.5,246.5 669.5,246.7 670.5,246.9 671.5,247 672.5,247.2 673.5,247.3 674.5,247.5 675.5,247.7 676.5,247.8 677.5,248 678.5,248.2 679.5,248.3 680.5,248.5 681.5,248.6 682.5,248.8 683.6,249 684.6,249.2 685.6,249.3 686.6,249.5 687.6,249.7 688.6,249.9 689.6,250.1 690.6,250.3 691.6,250.6 692.6,250.8 693.6,251.1 694.6,251.3 695.6,251.6 696.6,251.8 697.6,252.1 698.6,252.4 699.6,252.7 700.6,253 701.6,253.3 702.6,253.6 703.6,253.9 704.6,254.2 705.6,254.5 706.6,254.9 707.6,255.2 708.6,255.6 709.6,255.9 710.6,256.3 711.6,256.6 712.6,257 713.6,257.4 714.7,257.7 715.7,258.1 716.7,258.5 717.7,258.9 718.7,259 719.7,259.1 720.7,259.1 721.7,259.1M727.7,246.2 726.7,246.5 725.7,246.7 724.7,246.8 723.7,247 722.7,247.2 721.7,247.3 720.7,247.5 719.7,247.6 718.7,247.8 717.7,247.9 716.7,248 715.7,248.1 714.7,248.2 713.6,248.3 712.6,248.4 711.6,248.5 710.6,248.5 709.6,248.6 708.6,248.7 707.6,248.7 706.6,248.8 705.6,248.8 704.6,248.9 703.6,248.9 702.6,248.9 701.6,249 700.6,249 699.6,249 698.6,249 697.6,249 696.6,249 695.6,249 694.6,249 693.6,249 692.6,248.9 691.6,248.9 690.6,248.9 689.6,248.8 688.6,248.8 687.6,248.7 686.6,248.7 685.6,248.6 684.6,248.5 683.6,248.5 682.5,248.4 681.5,248.3 680.5,248.2 679.5,248.1 678.5,248 677.5,247.9 676.5,247.8 675.5,247.6 674.5,247.5 673.5,247.3 672.5,247.2 671.5,247 670.5,246.8 669.5,246.7 668.5,246.5 667.5,246.2 666.5,246.4 665.5,246.5 664.5,246.7 663.5,246.8 662.5,247 661.5,247.1 660.5,247.3 659.5,247.4 658.5,247.6 657.5,247.8 656.5,247.9 655.5,248.1 654.5,248.3 653.5,248.5 652.5,248.8 651.4,249 650.4,249.2 649.4,249.5 648.4,249.7 647.4,250 646.4,250.2 645.4,250.5 644.4,250.8 643.4,251 642.4,251.3 641.4,251.6 640.4,251.9 639.4,252.2 638.4,252.5 637.4,252.8 636.4,253.2 635.4,253.5 634.4,253.8 633.4,254.2 632.4,254.5 631.4,254.9 630.4,255.2 629.4,255.6 628.4,255.9 627.4,256.3 626.4,256.7 625.4,257.1 624.4,257.2 623.4,257.2 622.4,257.3 621.4,257.4 620.3,257.5 619.3,257.5M607.3,246.2 608.3,246.5 609.3,246.7 610.3,246.8 611.3,247 612.3,247.2 613.3,247.3 614.3,247.5 615.3,247.6 616.3,247.8 617.3,247.9 618.3,248 619.3,248.1 620.3,248.2 621.4,248.3 622.4,248.4 623.4,248.5 624.4,248.5 625.4,248.6 626.4,248.7 627.4,248.7 628.4,248.8 629.4,248.8 630.4,248.9 631.4,248.9 632.4,248.9 633.4,249 634.4,249 635.4,249 636.4,249 637.4,249 638.4,249 639.4,249 640.4,249 641.4,249 642.4,248.9 643.4,248.9 644.4,248.9 645.4,248.8 646.4,248.8 647.4,248.7 648.4,248.7 649.4,248.6 650.4,248.5 651.4,248.5 652.5,248.4 653.5,248.3 654.5,248.2 655.5,248.1 656.5,248 657.5,247.9 658.5,247.8 659.5,247.6 660.5,247.5 661.5,247.3 662.5,247.2 663.5,247 664.5,246.8 665.5,246.7 666.5,246.5 667.5,246.2 668.5,246.4 669.5,246.5 670.5,246.7 671.5,246.8 672.5,247 673.5,247.1 674.5,247.3 675.5,247.4 676.5,247.6 677.5,247.8 678.5,247.9 679.5,248.1 680.5,248.3 681.5,248.5 682.5,248.8 683.6,249 684.6,249.2 685.6,249.5 686.6,249.7 687.6,250 688.6,250.2 689.6,250.5 690.6,250.8 691.6,251 692.6,251.3 693.6,251.6 694.6,251.9 695.6,252.2 696.6,252.5 697.6,252.8 698.6,253.2 699.6,253.5 700.6,253.8 701.6,254.2 702.6,254.5 703.6,254.9 704.6,255.2 705.6,255.6 706.6,255.9 707.6,256.3 708.6,256.7 709.6,257.1 710.6,257.2 711.6,257.2 712.6,257.3 713.6,257.4 714.7,257.5 715.7,257.5M739.7,245.6 738.7,245.9 737.7,246.1 736.7,246.4 735.7,246.6 734.7,246.9 733.7,247.1 732.7,247.3 731.7,247.5 730.7,247.8 729.7,247.9 728.7,248.1 727.7,248.3 726.7,248.5 725.7,248.7 724.7,248.8 723.7,249 722.7,249.1 721.7,249.2 720.7,249.3 719.7,249.4 718.7,249.5 717.7,249.6 716.7,249.7 715.7,249.8 714.7,249.9 713.6,249.9 712.6,250 711.6,250 710.6,250.1 709.6,250.1 708.6,250.2 707.6,250.2 706.6,250.2 705.6,250.2 704.6,250.2 703.6,250.2 702.6,250.2 701.6,250.2 700.6,250.2 699.6,250.2 698.6,250.2 697.6,250.1 696.6,250.1 695.6,250 694.6,250 693.6,249.9 692.6,249.9 691.6,249.8 690.6,249.7 689.6,249.6 688.6,249.5 687.6,249.4 686.6,249.3 685.6,249.2 684.6,249.1 683.6,249 682.5,248.8 681.5,248.7 680.5,248.5 679.5,248.3 678.5,248.1 677.5,247.9 676.5,247.8 675.5,247.5 674.5,247.3 673.5,247.1 672.5,246.9 671.5,246.6 670.5,246.4 669.5,246.1 668.5,245.9 667.5,245.6 666.5,245.8 665.5,246 664.5,246.2 663.5,246.3 662.5,246.5 661.5,246.8 660.5,247 659.5,247.2 658.5,247.4 657.5,247.6 656.5,247.9 655.5,248.1 654.5,248.4 653.5,248.6 652.5,248.9 651.4,249.2 650.4,249.5 649.4,249.7 648.4,250 647.4,250.3 646.4,250.6 645.4,250.9 644.4,251.2 643.4,251.5 642.4,251.9 641.4,252.2 640.4,252.5 639.4,252.9 638.4,253.2 637.4,253.6 636.4,253.9 635.4,254.3 634.4,254.7 633.4,254.8 632.4,255 631.4,255.1 630.4,255.2 629.4,255.3 628.4,255.4 627.4,255.5 626.4,255.6 625.4,255.7M595.3,245.6 596.3,245.9 597.3,246.1 598.3,246.4 599.3,246.6 600.3,246.9 601.3,247.1 602.3,247.3 603.3,247.5 604.3,247.8 605.3,247.9 606.3,248.1 607.3,248.3 608.3,248.5 609.3,248.7 610.3,248.8 611.3,249 612.3,249.1 613.3,249.2 614.3,249.3 615.3,249.4 616.3,249.5 617.3,249.6 618.3,249.7 619.3,249.8 620.3,249.9 621.4,249.9 622.4,250 623.4,250 624.4,250.1 625.4,250.1 626.4,250.2 627.4,250.2 628.4,250.2 629.4,250.2 630.4,250.2 631.4,250.2 632.4,250.2 633.4,250.2 634.4,250.2 635.4,250.2 636.4,250.2 637.4,250.1 638.4,250.1 639.4,250 640.4,250 641.4,249.9 642.4,249.9 643.4,249.8 644.4,249.7 645.4,249.6 646.4,249.5 647.4,249.4 648.4,249.3 649.4,249.2 650.4,249.1 651.4,249 652.5,248.8 653.5,248.7 654.5,248.5 655.5,248.3 656.5,248.1 657.5,247.9 658.5,247.8 659.5,247.5 660.5,247.3 661.5,247.1 662.5,246.9 663.5,246.6 664.5,246.4 665.5,246.1 666.5,245.9 667.5,245.6 668.5,245.8 669.5,246 670.5,246.2 671.5,246.3 672.5,246.5 673.5,246.8 674.5,247 675.5,247.2 676.5,247.4 677.5,247.6 678.5,247.9 679.5,248.1 680.5,248.4 681.5,248.6 682.5,248.9 683.6,249.2 684.6,249.5 685.6,249.7 686.6,250 687.6,250.3 688.6,250.6 689.6,250.9 690.6,251.2 691.6,251.5 692.6,251.9 693.6,252.2 694.6,252.5 695.6,252.9 696.6,253.2 697.6,253.6 698.6,253.9 699.6,254.3 700.6,254.7 701.6,254.8 702.6,255 703.6,255.1 704.6,255.2 705.6,255.3 706.6,255.4 707.6,255.5 708.6,255.6 709.6,255.7M751.8,245.2 750.8,245.5 749.8,245.7 748.8,246 747.8,246.2 746.8,246.5 745.8,246.8 744.7,247 743.7,247.2 742.7,247.5 741.7,247.7 740.7,247.9 739.7,248.1 738.7,248.4 737.7,248.6 736.7,248.8 735.7,249 734.7,249.2 733.7,249.3 732.7,249.5 731.7,249.7 730.7,249.8 729.7,250 728.7,250.1 727.7,250.3 726.7,250.4 725.7,250.5 724.7,250.7 723.7,250.8 722.7,250.9 721.7,251 720.7,251 719.7,251.1 718.7,251.2 717.7,251.2 716.7,251.3 715.7,251.4 714.7,251.4 713.6,251.4 712.6,251.4 711.6,251.5 710.6,251.5 709.6,251.5 708.6,251.5 707.6,251.5 706.6,251.4 705.6,251.4 704.6,251.4 703.6,251.4 702.6,251.3 701.6,251.2 700.6,251.2 699.6,251.1 698.6,251 697.6,251 696.6,250.9 695.6,250.8 694.6,250.7 693.6,250.5 692.6,250.4 691.6,250.3 690.6,250.1 689.6,250 688.6,249.8 687.6,249.7 686.6,249.5 685.6,249.3 684.6,249.2 683.6,249 682.5,248.8 681.5,248.6 680.5,248.4 679.5,248.1 678.5,247.9 677.5,247.7 676.5,247.5 675.5,247.2 674.5,247 673.5,246.8 672.5,246.5 671.5,246.2 670.5,246 669.5,245.7 668.5,245.5 667.5,245.2 666.5,245.4 665.5,245.6 664.5,245.9 663.5,246.1 662.5,246.3 661.5,246.6 660.5,246.8 659.5,247.1 658.5,247.4 657.5,247.6 656.5,247.9 655.5,248.2 654.5,248.5 653.5,248.8 652.5,249.1 651.4,249.4 650.4,249.7 649.4,250 648.4,250.4 647.4,250.7 646.4,251 645.4,251.4 644.4,251.7 643.4,252 642.4,252.2 641.4,252.4 640.4,252.6 639.4,252.7 638.4,252.9 637.4,253 636.4,253.2 635.4,253.3 634.4,253.5 633.4,253.6 632.4,253.7 631.4,253.8M583.2,245.2 584.2,245.5 585.2,245.7 586.2,246 587.2,246.2 588.2,246.5 589.2,246.8 590.3,247 591.3,247.2 592.3,247.5 593.3,247.7 594.3,247.9 595.3,248.1 596.3,248.4 597.3,248.6 598.3,248.8 599.3,249 600.3,249.2 601.3,249.3 602.3,249.5 603.3,249.7 604.3,249.8 605.3,250 606.3,250.1 607.3,250.3 608.3,250.4 609.3,250.5 610.3,250.7 611.3,250.8 612.3,250.9 613.3,251 614.3,251 615.3,251.1 616.3,251.2 617.3,251.2 618.3,251.3 619.3,251.4 620.3,251.4 621.4,251.4 622.4,251.4 623.4,251.5 624.4,251.5 625.4,251.5 626.4,251.5 627.4,251.5 628.4,251.4 629.4,251.4 630.4,251.4 631.4,251.4 632.4,251.3 633.4,251.2 634.4,251.2 635.4,251.1 636.4,251 637.4,251 638.4,250.9 639.4,250.8 640.4,250.7 641.4,250.5 642.4,250.4 643.4,250.3 644.4,250.1 645.4,250 646.4,249.8 647.4,249.7 648.4,249.5 649.4,249.3 650.4,249.2 651.4,249 652.5,248.8 653.5,248.6 654.5,248.4 655.5,248.1 656.5,247.9 657.5,247.7 658.5,247.5 659.5,247.2 660.5,247 661.5,246.8 662.5,246.5 663.5,246.2 664.5,246 665.5,245.7 666.5,245.5 667.5,245.2 668.5,245.4 669.5,245.6 670.5,245.9 671.5,246.1 672.5,246.3 673.5,246.6 674.5,246.8 675.5,247.1 676.5,247.4 677.5,247.6 678.5,247.9 679.5,248.2 680.5,248.5 681.5,248.8 682.5,249.1 683.6,249.4 684.6,249.7 685.6,250 686.6,250.4 687.6,250.7 688.6,251 689.6,251.4 690.6,251.7 691.6,252 692.6,252.2 693.6,252.4 694.6,252.6 695.6,252.7 696.6,252.9 697.6,253 698.6,253.2 699.6,253.3 700.6,253.5 701.6,253.6 702.6,253.7 703.6,253.8M763.8,244.8 762.8,245.1 761.8,245.4 760.8,245.7 759.8,246 758.8,246.3 757.8,246.6 756.8,246.9 755.8,247.1 754.8,247.4 753.8,247.6 752.8,247.9 751.8,248.1 750.8,248.4 749.8,248.6 748.8,248.8 747.8,249 746.8,249.3 745.8,249.5 744.7,249.7 743.7,249.9 742.7,250 741.7,250.2 740.7,250.4 739.7,250.6 738.7,250.7 737.7,250.9 736.7,251 735.7,251.2 734.7,251.3 733.7,251.5 732.7,251.6 731.7,251.7 730.7,251.8 729.7,251.9 728.7,252 727.7,252.1 726.7,252.2 725.7,252.3 724.7,252.4 723.7,252.4 722.7,252.5 721.7,252.5 720.7,252.6 719.7,252.6 718.7,252.6 717.7,252.7 716.7,252.7 715.7,252.7 714.7,252.7 713.6,252.7 712.6,252.6 711.6,252.6 710.6,252.6 709.6,252.5 708.6,252.5 707.6,252.4 706.6,252.4 705.6,252.3 704.6,252.2 703.6,252.1 702.6,252 701.6,251.9 700.6,251.8 699.6,251.7 698.6,251.6 697.6,251.5 696.6,251.3 695.6,251.2 694.6,251 693.6,250.9 692.6,250.7 691.6,250.6 690.6,250.4 689.6,250.2 688.6,250 687.6,249.9 686.6,249.7 685.6,249.5 684.6,249.3 683.6,249 682.5,248.8 681.5,248.6 680.5,248.4 679.5,248.1 678.5,247.9 677.5,247.6 676.5,247.4 675.5,247.1 674.5,246.9 673.5,246.6 672.5,246.3 671.5,246 670.5,245.7 669.5,245.4 668.5,245.1 667.5,244.8 666.5,245.1 665.5,245.3 664.5,245.6 663.5,245.9 662.5,246.2 661.5,246.5 660.5,246.7 659.5,247 658.5,247.3 657.5,247.7 656.5,248 655.5,248.3 654.5,248.6 653.5,248.9 652.5,249.1 651.4,249.4 650.4,249.6 649.4,249.8 648.4,250 647.4,250.2 646.4,250.4 645.4,250.6 644.4,250.8 643.4,251 642.4,251.1 641.4,251.3 640.4,251.5 639.4,251.6 638.4,251.8 637.4,251.9M571.2,244.8 572.2,245.1 573.2,245.4 574.2,245.7 575.2,246 576.2,246.3 577.2,246.6 578.2,246.9 579.2,247.1 580.2,247.4 581.2,247.6 582.2,247.9 583.2,248.1 584.2,248.4 585.2,248.6 586.2,248.8 587.2,249 588.2,249.3 589.2,249.5 590.3,249.7 591.3,249.9 592.3,250 593.3,250.2 594.3,250.4 595.3,250.6 596.3,250.7 597.3,250.9 598.3,251 599.3,251.2 600.3,251.3 601.3,251.5 602.3,251.6 603.3,251.7 604.3,251.8 605.3,251.9 606.3,252 607.3,252.1 608.3,252.2 609.3,252.3 610.3,252.4 611.3,252.4 612.3,252.5 613.3,252.5 614.3,252.6 615.3,252.6 616.3,252.6 617.3,252.7 618.3,252.7 619.3,252.7 620.3,252.7 621.4,252.7 622.4,252.6 623.4,252.6 624.4,252.6 625.4,252.5 626.4,252.5 627.4,252.4 628.4,252.4 629.4,252.3 630.4,252.2 631.4,252.1 632.4,252 633.4,251.9 634.4,251.8 635.4,251.7 636.4,251.6 637.4,251.5 638.4,251.3 639.4,251.2 640.4,251 641.4,250.9 642.4,250.7 643.4,250.6 644.4,250.4 645.4,250.2 646.4,250 647.4,249.9 648.4,249.7 649.4,249.5 650.4,249.3 651.4,249 652.5,248.8 653.5,248.6 654.5,248.4 655.5,248.1 656.5,247.9 657.5,247.6 658.5,247.4 659.5,247.1 660.5,246.9 661.5,246.6 662.5,246.3 663.5,246 664.5,245.7 665.5,245.4 666.5,245.1 667.5,244.8 668.5,245.1 669.5,245.3 670.5,245.6 671.5,245.9 672.5,246.2 673.5,246.5 674.5,246.7 675.5,247 676.5,247.3 677.5,247.7 678.5,248 679.5,248.3 680.5,248.6 681.5,248.9 682.5,249.1 683.6,249.4 684.6,249.6 685.6,249.8 686.6,250 687.6,250.2 688.6,250.4 689.6,250.6 690.6,250.8 691.6,251 692.6,251.1 693.6,251.3 694.6,251.5 695.6,251.6 696.6,251.8 697.6,251.9M775.8,244.5 774.8,244.8 773.8,245.2 772.8,245.5 771.8,245.8 770.8,246.1 769.8,246.5 768.8,246.8 767.8,247.1 766.8,247.4 765.8,247.6 764.8,247.9 763.8,248.2 762.8,248.5 761.8,248.7 760.8,249 759.8,249.2 758.8,249.5 757.8,249.7 756.8,250 755.8,250.2 754.8,250.4 753.8,250.6 752.8,250.8 751.8,251 750.8,251.2 749.8,251.4 748.8,251.6 747.8,251.8 746.8,251.9 745.8,252.1 744.7,252.3 743.7,252.4 742.7,252.6 741.7,252.7 740.7,252.8 739.7,253 738.7,253.1 737.7,253.2 736.7,253.3 735.7,253.4 734.7,253.5 733.7,253.6 732.7,253.6 731.7,253.7 730.7,253.8 729.7,253.8 728.7,253.9 727.7,253.9 726.7,254 725.7,254 724.7,254 723.7,254 722.7,254.1 721.7,254.1 720.7,254.1 719.7,254 718.7,254 717.7,254 716.7,254 715.7,253.9 714.7,253.9 713.6,253.8 712.6,253.8 711.6,253.7 710.6,253.6 709.6,253.6 708.6,253.5 707.6,253.4 706.6,253.3 705.6,253.2 704.6,253.1 703.6,253 702.6,252.8 701.6,252.7 700.6,252.6 699.6,252.4 698.6,252.3 697.6,252.1 696.6,251.9 695.6,251.8 694.6,251.6 693.6,251.4 692.6,251.2 691.6,251 690.6,250.8 689.6,250.6 688.6,250.4 687.6,250.2 686.6,250 685.6,249.7 684.6,249.5 683.6,249.2 682.5,249 681.5,248.7 680.5,248.5 679.5,248.2 678.5,247.9 677.5,247.6 676.5,247.4 675.5,247.1 674.5,246.8 673.5,246.5 672.5,246.1 671.5,245.8 670.5,245.5 669.5,245.2 668.5,244.8 667.5,244.5 666.5,244.8 665.5,245.1 664.5,245.4 663.5,245.6 662.5,245.9 661.5,246.2 660.5,246.4 659.5,246.7 658.5,246.9 657.5,247.2 656.5,247.4 655.5,247.7 654.5,247.9 653.5,248.1 652.5,248.3 651.4,248.5 650.4,248.7 649.4,248.9 648.4,249.1 647.4,249.3 646.4,249.5 645.4,249.6 644.4,249.8 643.4,250M559.2,244.5 560.2,244.8 561.2,245.2 562.2,245.5 563.2,245.8 564.2,246.1 565.2,246.5 566.2,246.8 567.2,247.1 568.2,247.4 569.2,247.6 570.2,247.9 571.2,248.2 572.2,248.5 573.2,248.7 574.2,249 575.2,249.2 576.2,249.5 577.2,249.7 578.2,250 579.2,250.2 580.2,250.4 581.2,250.6 582.2,250.8 583.2,251 584.2,251.2 585.2,251.4 586.2,251.6 587.2,251.8 588.2,251.9 589.2,252.1 590.3,252.3 591.3,252.4 592.3,252.6 593.3,252.7 594.3,252.8 595.3,253 596.3,253.1 597.3,253.2 598.3,253.3 599.3,253.4 600.3,253.5 601.3,253.6 602.3,253.6 603.3,253.7 604.3,253.8 605.3,253.8 606.3,253.9 607.3,253.9 608.3,254 609.3,254 610.3,254 611.3,254 612.3,254.1 613.3,254.1 614.3,254.1 615.3,254 616.3,254 617.3,254 618.3,254 619.3,253.9 620.3,253.9 621.4,253.8 622.4,253.8 623.4,253.7 624.4,253.6 625.4,253.6 626.4,253.5 627.4,253.4 628.4,253.3 629.4,253.2 630.4,253.1 631.4,253 632.4,252.8 633.4,252.7 634.4,252.6 635.4,252.4 636.4,252.3 637.4,252.1 638.4,251.9 639.4,251.8 640.4,251.6 641.4,251.4 642.4,251.2 643.4,251 644.4,250.8 645.4,250.6 646.4,250.4 647.4,250.2 648.4,250 649.4,249.7 650.4,249.5 651.4,249.2 652.5,249 653.5,248.7 654.5,248.5 655.5,248.2 656.5,247.9 657.5,247.6 658.5,247.4 659.5,247.1 660.5,246.8 661.5,246.5 662.5,246.1 663.5,245.8 664.5,245.5 665.5,245.2 666.5,244.8 667.5,244.5 668.5,244.8 669.5,245.1 670.5,245.4 671.5,245.6 672.5,245.9 673.5,246.2 674.5,246.4 675.5,246.7 676.5,246.9 677.5,247.2 678.5,247.4 679.5,247.7 680.5,247.9 681.5,248.1 682.5,248.3 683.6,248.5 684.6,248.7 685.6,248.9 686.6,249.1 687.6,249.3 688.6,249.5 689.6,249.6 690.6,249.8 691.6,250M787.9,244.1 786.9,244.4 785.9,244.8 784.9,245.1 783.9,245.5 782.9,245.8 781.9,246.2 780.9,246.5 779.9,246.9 778.9,247.3 777.9,247.6 776.8,248 775.8,248.3 774.8,248.6 773.8,248.9 772.8,249.2 771.8,249.5 770.8,249.8 769.8,250 768.8,250.3 767.8,250.6 766.8,250.8 765.8,251.1 764.8,251.3 763.8,251.5 762.8,251.8 761.8,252 760.8,252.2 759.8,252.4 758.8,252.6 757.8,252.8 756.8,253 755.8,253.2 754.8,253.4 753.8,253.6 752.8,253.7 751.8,253.9 750.8,254.1 749.8,254.2 748.8,254.3 747.8,254.5 746.8,254.6 745.8,254.7 744.7,254.8 743.7,255 742.7,255.1 741.7,255.1 740.7,255.2 739.7,255.3 738.7,255.4 737.7,255.5 736.7,255.5 735.7,255.6 734.7,255.6 733.7,255.7 732.7,255.7 731.7,255.7 730.7,255.8 729.7,255.8 728.7,255.8 727.7,255.8 726.7,255.8 725.7,255.8 724.7,255.8 723.7,255.7 722.7,255.7 721.7,255.7 720.7,255.6 719.7,255.6 718.7,255.5 717.7,255.5 716.7,255.4 715.7,255.3 714.7,255.2 713.6,255.1 712.6,255.1 711.6,255 710.6,254.8 709.6,254.7 708.6,254.6 707.6,254.5 706.6,254.3 705.6,254.2 704.6,254.1 703.6,253.9 702.6,253.7 701.6,253.6 700.6,253.4 699.6,253.2 698.6,253 697.6,252.8 696.6,252.6 695.6,252.4 694.6,252.2 693.6,252 692.6,251.8 691.6,251.5 690.6,251.3 689.6,251.1 688.6,250.8 687.6,250.6 686.6,250.3 685.6,250 684.6,249.8 683.6,249.5 682.5,249.2 681.5,248.9 680.5,248.6 679.5,248.3 678.5,248 677.5,247.6 676.5,247.3 675.5,246.9 674.5,246.5 673.5,246.2 672.5,245.8 671.5,245.5 670.5,245.1 669.5,244.8 668.5,244.4 667.5,244.1 666.5,244.4 665.5,244.6 664.5,244.9 663.5,245.1 662.5,245.4 661.5,245.6 660.5,245.9 659.5,246.1 658.5,246.3 657.5,246.5 656.5,246.7 655.5,246.9 654.5,247.1 653.5,247.3 652.5,247.5 651.4,247.7 650.4,247.9 649.4,248.1M547.1,244.1 548.1,244.4 549.1,244.8 550.1,245.1 551.1,245.5 552.1,245.8 553.1,246.2 554.1,246.5 555.1,246.9 556.1,247.3 557.1,247.6 558.2,248 559.2,248.3 560.2,248.6 561.2,248.9 562.2,249.2 563.2,249.5 564.2,249.8 565.2,250 566.2,250.3 567.2,250.6 568.2,250.8 569.2,251.1 570.2,251.3 571.2,251.5 572.2,251.8 573.2,252 574.2,252.2 575.2,252.4 576.2,252.6 577.2,252.8 578.2,253 579.2,253.2 580.2,253.4 581.2,253.6 582.2,253.7 583.2,253.9 584.2,254.1 585.2,254.2 586.2,254.3 587.2,254.5 588.2,254.6 589.2,254.7 590.3,254.8 591.3,255 592.3,255.1 593.3,255.1 594.3,255.2 595.3,255.3 596.3,255.4 597.3,255.5 598.3,255.5 599.3,255.6 600.3,255.6 601.3,255.7 602.3,255.7 603.3,255.7 604.3,255.8 605.3,255.8 606.3,255.8 607.3,255.8 608.3,255.8 609.3,255.8 610.3,255.8 611.3,255.7 612.3,255.7 613.3,255.7 614.3,255.6 615.3,255.6 616.3,255.5 617.3,255.5 618.3,255.4 619.3,255.3 620.3,255.2 621.4,255.1 622.4,255.1 623.4,255 624.4,254.8 625.4,254.7 626.4,254.6 627.4,254.5 628.4,254.3 629.4,254.2 630.4,254.1 631.4,253.9 632.4,253.7 633.4,253.6 634.4,253.4 635.4,253.2 636.4,253 637.4,252.8 638.4,252.6 639.4,252.4 640.4,252.2 641.4,252 642.4,251.8 643.4,251.5 644.4,251.3 645.4,251.1 646.4,250.8 647.4,250.6 648.4,250.3 649.4,250 650.4,249.8 651.4,249.5 652.5,249.2 653.5,248.9 654.5,248.6 655.5,248.3 656.5,248 657.5,247.6 658.5,247.3 659.5,246.9 660.5,246.5 661.5,246.2 662.5,245.8 663.5,245.5 664.5,245.1 665.5,244.8 666.5,244.4 667.5,244.1 668.5,244.4 669.5,244.6 670.5,244.9 671.5,245.1 672.5,245.4 673.5,245.6 674.5,245.9 675.5,246.1 676.5,246.3 677.5,246.5 678.5,246.7 679.5,246.9 680.5,247.1 681.5,247.3 682.5,247.5 683.6,247.7 684.6,247.9 685.6,248.1M799.9,243.7 798.9,244 797.9,244.3 796.9,244.7 795.9,245 794.9,245.3 793.9,245.6 792.9,246 791.9,246.3 790.9,246.6 789.9,247 788.9,247.3 787.9,247.7 786.9,248 785.9,248.4 784.9,248.7 783.9,249.1 782.9,249.4 781.9,249.8 780.9,250.2 779.9,250.5 778.9,250.9 777.9,251.3 776.8,251.6 775.8,252 774.8,252.3 773.8,252.6 772.8,252.9 771.8,253.1 770.8,253.3 769.8,253.6 768.8,253.8 767.8,254 766.8,254.2 765.8,254.5 764.8,254.7 763.8,254.9 762.8,255 761.8,255.2 760.8,255.4 759.8,255.6 758.8,255.7 757.8,255.9 756.8,256.1 755.8,256.2 754.8,256.3 753.8,256.5 752.8,256.6 751.8,256.7 750.8,256.8 749.8,256.9 748.8,257 747.8,257.1 746.8,257.2 745.8,257.3 744.7,257.4 743.7,257.5 742.7,257.5 741.7,257.6 740.7,257.6 739.7,257.7 738.7,257.7 737.7,257.7 736.7,257.8 735.7,257.8 734.7,257.8 733.7,257.8 732.7,257.8 731.7,257.8 730.7,257.8 729.7,257.7 728.7,257.7 727.7,257.7 726.7,257.6 725.7,257.6 724.7,257.5 723.7,257.5 722.7,257.4 721.7,257.3 720.7,257.2 719.7,257.1 718.7,257 717.7,256.9 716.7,256.8 715.7,256.7 714.7,256.6 713.6,256.5 712.6,256.3 711.6,256.2 710.6,256.1 709.6,255.9 708.6,255.7 707.6,255.6 706.6,255.4 705.6,255.2 704.6,255 703.6,254.9 702.6,254.7 701.6,254.5 700.6,254.2 699.6,254 698.6,253.8 697.6,253.6 696.6,253.3 695.6,253.1 694.6,252.9 693.6,252.6 692.6,252.3 691.6,252 690.6,251.6 689.6,251.3 688.6,250.9 687.6,250.5 686.6,250.2 685.6,249.8 684.6,249.4 683.6,249.1 682.5,248.7 681.5,248.4 680.5,248 679.5,247.7 678.5,247.3 677.5,247 676.5,246.6 675.5,246.3 674.5,246 673.5,245.6 672.5,245.3 671.5,245 670.5,244.7 669.5,244.3 668.5,244 667.5,243.7 666.5,244 665.5,244.2 664.5,244.4 663.5,244.6 662.5,244.9 661.5,245.1 660.5,245.3 659.5,245.5 658.5,245.7 657.5,245.9 656.5,246.1 655.5,246.3M535.1,243.7 536.1,244 537.1,244.3 538.1,244.7 539.1,245 540.1,245.3 541.1,245.6 542.1,246 543.1,246.3 544.1,246.6 545.1,247 546.1,247.3 547.1,247.7 548.1,248 549.1,248.4 550.1,248.7 551.1,249.1 552.1,249.4 553.1,249.8 554.1,250.2 555.1,250.5 556.1,250.9 557.1,251.3 558.2,251.6 559.2,252 560.2,252.3 561.2,252.6 562.2,252.9 563.2,253.1 564.2,253.3 565.2,253.6 566.2,253.8 567.2,254 568.2,254.2 569.2,254.5 570.2,254.7 571.2,254.9 572.2,255 573.2,255.2 574.2,255.4 575.2,255.6 576.2,255.7 577.2,255.9 578.2,256.1 579.2,256.2 580.2,256.3 581.2,256.5 582.2,256.6 583.2,256.7 584.2,256.8 585.2,256.9 586.2,257 587.2,257.1 588.2,257.2 589.2,257.3 590.3,257.4 591.3,257.5 592.3,257.5 593.3,257.6 594.3,257.6 595.3,257.7 596.3,257.7 597.3,257.7 598.3,257.8 599.3,257.8 600.3,257.8 601.3,257.8 602.3,257.8 603.3,257.8 604.3,257.8 605.3,257.7 606.3,257.7 607.3,257.7 608.3,257.6 609.3,257.6 610.3,257.5 611.3,257.5 612.3,257.4 613.3,257.3 614.3,257.2 615.3,257.1 616.3,257 617.3,256.9 618.3,256.8 619.3,256.7 620.3,256.6 621.4,256.5 622.4,256.3 623.4,256.2 624.4,256.1 625.4,255.9 626.4,255.7 627.4,255.6 628.4,255.4 629.4,255.2 630.4,255 631.4,254.9 632.4,254.7 633.4,254.5 634.4,254.2 635.4,254 636.4,253.8 637.4,253.6 638.4,253.3 639.4,253.1 640.4,252.9 641.4,252.6 642.4,252.3 643.4,252 644.4,251.6 645.4,251.3 646.4,250.9 647.4,250.5 648.4,250.2 649.4,249.8 650.4,249.4 651.4,249.1 652.5,248.7 653.5,248.4 654.5,248 655.5,247.7 656.5,247.3 657.5,247 658.5,246.6 659.5,246.3 660.5,246 661.5,245.6 662.5,245.3 663.5,245 664.5,244.7 665.5,244.3 666.5,244 667.5,243.7 668.5,244 669.5,244.2 670.5,244.4 671.5,244.6 672.5,244.9 673.5,245.1 674.5,245.3 675.5,245.5 676.5,245.7 677.5,245.9 678.5,246.1 679.5,246.3M812,243.3 811,243.6 810,243.9 809,244.2 807.9,244.5 806.9,244.8 805.9,245.1 804.9,245.4 803.9,245.7 802.9,246 801.9,246.3 800.9,246.6 799.9,246.9 798.9,247.3 797.9,247.6 796.9,247.9 795.9,248.2 794.9,248.6 793.9,248.9 792.9,249.2 791.9,249.6 790.9,249.9 789.9,250.3 788.9,250.6 787.9,251 786.9,251.3 785.9,251.6 784.9,252 783.9,252.3 782.9,252.7 781.9,253 780.9,253.4 779.9,253.7 778.9,254.1 777.9,254.4 776.8,254.8 775.8,255.1 774.8,255.4 773.8,255.8 772.8,256.1 771.8,256.4 770.8,256.8 769.8,257.1 768.8,257.3 767.8,257.5 766.8,257.6 765.8,257.8 764.8,258 763.8,258.1 762.8,258.3 761.8,258.4 760.8,258.6 759.8,258.7 758.8,258.8 757.8,258.9 756.8,259.1 755.8,259.2 754.8,259.3 753.8,259.4 752.8,259.4 751.8,259.5 750.8,259.6 749.8,259.7 748.8,259.7 747.8,259.8 746.8,259.8 745.8,259.9 744.7,259.9 743.7,259.9 742.7,260 741.7,260 740.7,260 739.7,260 738.7,260 737.7,260 736.7,260 735.7,259.9 734.7,259.9 733.7,259.9 732.7,259.8 731.7,259.8 730.7,259.7 729.7,259.7 728.7,259.6 727.7,259.5 726.7,259.4 725.7,259.4 724.7,259.3 723.7,259.2 722.7,259.1 721.7,258.9 720.7,258.8 719.7,258.7 718.7,258.6 717.7,258.4 716.7,258.3 715.7,258.1 714.7,258 713.6,257.8 712.6,257.6 711.6,257.5 710.6,257.3 709.6,257.1 708.6,256.8 707.6,256.4 706.6,256.1 705.6,255.8 704.6,255.4 703.6,255.1 702.6,254.8 701.6,254.4 700.6,254.1 699.6,253.7 698.6,253.4 697.6,253 696.6,252.7 695.6,252.3 694.6,252 693.6,251.6 692.6,251.3 691.6,251 690.6,250.6 689.6,250.3 688.6,249.9 687.6,249.6 686.6,249.2 685.6,248.9 684.6,248.6 683.6,248.2 682.5,247.9 681.5,247.6 680.5,247.3 679.5,246.9 678.5,246.6 677.5,246.3 676.5,246 675.5,245.7 674.5,245.4 673.5,245.1 672.5,244.8 671.5,244.5 670.5,244.2 669.5,243.9 668.5,243.6 667.5,243.3 666.5,243.5 665.5,243.7 664.5,243.9 663.5,244.1 662.5,244.3 661.5,244.5M523,243.3 524,243.6 525,243.9 526,244.2 527.1,244.5 528.1,244.8 529.1,245.1 530.1,245.4 531.1,245.7 532.1,246 533.1,246.3 534.1,246.6 535.1,246.9 536.1,247.3 537.1,247.6 538.1,247.9 539.1,248.2 540.1,248.6 541.1,248.9 542.1,249.2 543.1,249.6 544.1,249.9 545.1,250.3 546.1,250.6 547.1,251 548.1,251.3 549.1,251.6 550.1,252 551.1,252.3 552.1,252.7 553.1,253 554.1,253.4 555.1,253.7 556.1,254.1 557.1,254.4 558.2,254.8 559.2,255.1 560.2,255.4 561.2,255.8 562.2,256.1 563.2,256.4 564.2,256.8 565.2,257.1 566.2,257.3 567.2,257.5 568.2,257.6 569.2,257.8 570.2,258 571.2,258.1 572.2,258.3 573.2,258.4 574.2,258.6 575.2,258.7 576.2,258.8 577.2,258.9 578.2,259.1 579.2,259.2 580.2,259.3 581.2,259.4 582.2,259.4 583.2,259.5 584.2,259.6 585.2,259.7 586.2,259.7 587.2,259.8 588.2,259.8 589.2,259.9 590.3,259.9 591.3,259.9 592.3,260 593.3,260 594.3,260 595.3,260 596.3,260 597.3,260 598.3,260 599.3,259.9 600.3,259.9 601.3,259.9 602.3,259.8 603.3,259.8 604.3,259.7 605.3,259.7 606.3,259.6 607.3,259.5 608.3,259.4 609.3,259.4 610.3,259.3 611.3,259.2 612.3,259.1 613.3,258.9 614.3,258.8 615.3,258.7 616.3,258.6 617.3,258.4 618.3,258.3 619.3,258.1 620.3,258 621.4,257.8 622.4,257.6 623.4,257.5 624.4,257.3 625.4,257.1 626.4,256.8 627.4,256.4 628.4,256.1 629.4,255.8 630.4,255.4 631.4,255.1 632.4,254.8 633.4,254.4 634.4,254.1 635.4,253.7 636.4,253.4 637.4,253 638.4,252.7 639.4,252.3 640.4,252 641.4,251.6 642.4,251.3 643.4,251 644.4,250.6 645.4,250.3 646.4,249.9 647.4,249.6 648.4,249.2 649.4,248.9 650.4,248.6 651.4,248.2 652.5,247.9 653.5,247.6 654.5,247.3 655.5,246.9 656.5,246.6 657.5,246.3 658.5,246 659.5,245.7 660.5,245.4 661.5,245.1 662.5,244.8 663.5,244.5 664.5,244.2 665.5,243.9 666.5,243.6 667.5,243.3 668.5,243.5 669.5,243.7 670.5,243.9 671.5,244.1 672.5,244.3 673.5,244.5M824,242.9 823,243.2 822,243.4 821,243.7 820,244 819,244.3 818,244.5 817,244.8 816,245.1 815,245.4 814,245.7 813,246 812,246.3 811,246.6 810,246.9 809,247.2 807.9,247.5 806.9,247.8 805.9,248.1 804.9,248.4 803.9,248.7 802.9,249 801.9,249.3 800.9,249.7 799.9,250 798.9,250.3 797.9,250.6 796.9,250.9 795.9,251.3 794.9,251.6 793.9,251.9 792.9,252.2 791.9,252.6 790.9,252.9 789.9,253.2 788.9,253.5 787.9,253.8 786.9,254.2 785.9,254.5 784.9,254.8 783.9,255.1 782.9,255.4 781.9,255.7 780.9,256 779.9,256.3 778.9,256.7 777.9,256.9 776.8,257.2 775.8,257.5 774.8,257.8 773.8,258.1 772.8,258.4 771.8,258.6 770.8,258.9 769.8,259.1 768.8,259.4 767.8,259.6 766.8,259.9 765.8,260.1 764.8,260.3 763.8,260.5 762.8,260.7 761.8,260.9 760.8,261.1 759.8,261.2 758.8,261.4 757.8,261.5 756.8,261.7 755.8,261.8 754.8,261.9 753.8,262 752.8,262.1 751.8,262.2 750.8,262.3 749.8,262.3 748.8,262.4 747.8,262.4 746.8,262.4 745.8,262.4 744.7,262.4 743.7,262.4 742.7,262.4 741.7,262.3 740.7,262.3 739.7,262.2 738.7,262.1 737.7,262 736.7,261.9 735.7,261.8 734.7,261.7 733.7,261.5 732.7,261.4 731.7,261.2 730.7,261.1 729.7,260.9 728.7,260.7 727.7,260.5 726.7,260.3 725.7,260.1 724.7,259.9 723.7,259.6 722.7,259.4 721.7,259.1 720.7,258.9 719.7,258.6 718.7,258.4 717.7,258.1 716.7,257.8 715.7,257.5 714.7,257.2 713.6,256.9 712.6,256.7 711.6,256.3 710.6,256 709.6,255.7 708.6,255.4 707.6,255.1 706.6,254.8 705.6,254.5 704.6,254.2 703.6,253.8 702.6,253.5 701.6,253.2 700.6,252.9 699.6,252.6 698.6,252.2 697.6,251.9 696.6,251.6 695.6,251.3 694.6,250.9 693.6,250.6 692.6,250.3 691.6,250 690.6,249.7 689.6,249.3 688.6,249 687.6,248.7 686.6,248.4 685.6,248.1 684.6,247.8 683.6,247.5 682.5,247.2 681.5,246.9 680.5,246.6 679.5,246.3 678.5,246 677.5,245.7 676.5,245.4 675.5,245.1 674.5,244.8 673.5,244.5 672.5,244.3 671.5,244 670.5,243.7 669.5,243.4 668.5,243.2 667.5,242.9M511,242.9 512,243.2 513,243.4 514,243.7 515,244 516,244.3 517,244.5 518,244.8 519,245.1 520,245.4 521,245.7 522,246 523,246.3 524,246.6 525,246.9 526,247.2 527.1,247.5 528.1,247.8 529.1,248.1 530.1,248.4 531.1,248.7 532.1,249 533.1,249.3 534.1,249.7 535.1,250 536.1,250.3 537.1,250.6 538.1,250.9 539.1,251.3 540.1,251.6 541.1,251.9 542.1,252.2 543.1,252.6 544.1,252.9 545.1,253.2 546.1,253.5 547.1,253.8 548.1,254.2 549.1,254.5 550.1,254.8 551.1,255.1 552.1,255.4 553.1,255.7 554.1,256 555.1,256.3 556.1,256.7 557.1,256.9 558.2,257.2 559.2,257.5 560.2,257.8 561.2,258.1 562.2,258.4 563.2,258.6 564.2,258.9 565.2,259.1 566.2,259.4 567.2,259.6 568.2,259.9 569.2,260.1 570.2,260.3 571.2,260.5 572.2,260.7 573.2,260.9 574.2,261.1 575.2,261.2 576.2,261.4 577.2,261.5 578.2,261.7 579.2,261.8 580.2,261.9 581.2,262 582.2,262.1 583.2,262.2 584.2,262.3 585.2,262.3 586.2,262.4 587.2,262.4 588.2,262.4 589.2,262.4 590.3,262.4 591.3,262.4 592.3,262.4 593.3,262.3 594.3,262.3 595.3,262.2 596.3,262.1 597.3,262 598.3,261.9 599.3,261.8 600.3,261.7 601.3,261.5 602.3,261.4 603.3,261.2 604.3,261.1 605.3,260.9 606.3,260.7 607.3,260.5 608.3,260.3 609.3,260.1 610.3,259.9 611.3,259.6 612.3,259.4 613.3,259.1 614.3,258.9 615.3,258.6 616.3,258.4 617.3,258.1 618.3,257.8 619.3,257.5 620.3,257.2 621.4,256.9 622.4,256.7 623.4,256.3 624.4,256 625.4,255.7 626.4,255.4 627.4,255.1 628.4,254.8 629.4,254.5 630.4,254.2 631.4,253.8 632.4,253.5 633.4,253.2 634.4,252.9 635.4,252.6 636.4,252.2 637.4,251.9 638.4,251.6 639.4,251.3 640.4,250.9 641.4,250.6 642.4,250.3 643.4,250 644.4,249.7 645.4,249.3 646.4,249 647.4,248.7 648.4,248.4 649.4,248.1 650.4,247.8 651.4,247.5 652.5,247.2 653.5,246.9 654.5,246.6 655.5,246.3 656.5,246 657.5,245.7 658.5,245.4 659.5,245.1 660.5,244.8 661.5,244.5 662.5,244.3 663.5,244 664.5,243.7 665.5,243.4 666.5,243.2 667.5,242.9" fill="none" stroke="#000000" stroke-width="1.0" stroke-opacity="0.95"/><path d="M511,242.9 513,243 515,243 517,243.1 519,243.1 521,243.2 523,243.3 525,243.4 527.1,243.4 529.1,243.5 531.1,243.6 533.1,243.6 535.1,243.7 537.1,243.8 539.1,243.8 541.1,243.9 543.1,244 545.1,244 547.1,244.1 549.1,244.2 551.1,244.2 553.1,244.3 555.1,244.3 557.1,244.4 559.2,244.5 561.2,244.5 563.2,244.6 565.2,244.6 567.2,244.7 569.2,244.7 571.2,244.8 573.2,244.9 575.2,244.9 577.2,245 579.2,245 581.2,245.1 583.2,245.1 585.2,245.2 587.2,245.3 589.2,245.4 591.3,245.4 593.3,245.5 595.3,245.6 597.3,245.7 599.3,245.8 601.3,245.9 603.3,246 605.3,246.1 607.3,246.2 609.3,246.3 611.3,246.3 613.3,246.4 615.3,246.4 617.3,246.4 619.3,246.4 621.4,246.4 623.4,246.3 625.4,246.3 627.4,246.3 629.4,246.2 631.4,246.2 633.4,246.2 635.4,246.1 637.4,246.1 639.4,246 641.4,246 643.4,245.9 645.4,245.8 647.4,245.7 649.4,245.6 651.4,245.4 653.5,245.3 655.5,245 657.5,244.8 659.5,244.5 661.5,244.3 663.5,243.7 665.5,243.2 667.5,242.9 669.5,243.2 671.5,243.7 673.5,244.3 675.5,244.5 677.5,244.8 679.5,245 681.5,245.3 683.6,245.4 685.6,245.6 687.6,245.7 689.6,245.8 691.6,245.9 693.6,246 695.6,246 697.6,246.1 699.6,246.1 701.6,246.2 703.6,246.2 705.6,246.2 707.6,246.3 709.6,246.3 711.6,246.3 713.6,246.4 715.7,246.4 717.7,246.4 719.7,246.4 721.7,246.4 723.7,246.3 725.7,246.3 727.7,246.2 729.7,246.1 731.7,246 733.7,245.9 735.7,245.8 737.7,245.7 739.7,245.6 741.7,245.5 743.7,245.4 745.8,245.4 747.8,245.3 749.8,245.2 751.8,245.1 753.8,245.1 755.8,245 757.8,245 759.8,244.9 761.8,244.9 763.8,244.8 765.8,244.7 767.8,244.7 769.8,244.6 771.8,244.6 773.8,244.5 775.8,244.5 777.9,244.4 779.9,244.3 781.9,244.3 783.9,244.2 785.9,244.2 787.9,244.1 789.9,244 791.9,244 793.9,243.9 795.9,243.8 797.9,243.8 799.9,243.7 801.9,243.6 803.9,243.6 805.9,243.5 807.9,243.4 810,243.4 812,243.3 814,243.2 816,243.1 818,243.1 820,243 822,243 824,242.9 824,243.1 822,243.6 820,244.2 818,244.7 816,245.4 814,246 812,246.5 810,247.1 807.9,247.7 805.9,248.3 803.9,248.9 801.9,249.6 799.9,250.2 797.9,250.9 795.9,251.6 793.9,252.2 791.9,252.8 789.9,253.5 787.9,254.1 785.9,254.7 783.9,255.3 781.9,255.9 779.9,256.6 777.9,257.2 775.8,257.8 773.8,258.3 771.8,258.8 769.8,259.3 767.8,259.8 765.8,260.2 763.8,260.7 761.8,261.1 759.8,261.4 757.8,261.7 755.8,261.9 753.8,262.1 751.8,262.2 749.8,262.3 747.8,262.4 745.8,262.4 743.7,262.4 741.7,262.3 739.7,262.2 737.7,262.1 735.7,261.9 733.7,261.7 731.7,261.5 729.7,261.3 727.7,261 725.7,260.6 723.7,260.3 721.7,259.9 719.7,259.5 717.7,259.1 715.7,258.7 713.6,258.3 711.6,257.8 709.6,257.2 707.6,256.7 705.6,256.2 703.6,255.7 701.6,255.2 699.6,254.6 697.6,254.1 695.6,253.5 693.6,252.9 691.6,252.2 689.6,251.6 687.6,251 685.6,250.4 683.6,249.8 681.5,249.2 679.5,248.6 677.5,248.2 675.5,247.8 673.5,247.5 671.5,247.1 669.5,246.8 667.5,246.5 665.5,246.8 663.5,247.1 661.5,247.5 659.5,247.8 657.5,248.2 655.5,248.6 653.5,249.2 651.4,249.8 649.4,250.4 647.4,251 645.4,251.6 643.4,252.2 641.4,252.9 639.4,253.5 637.4,254.1 635.4,254.6 633.4,255.2 631.4,255.7 629.4,256.2 627.4,256.7 625.4,257.2 623.4,257.8 621.4,258.3 619.3,258.7 617.3,259.1 615.3,259.5 613.3,259.9 611.3,260.3 609.3,260.6 607.3,261 605.3,261.3 603.3,261.5 601.3,261.7 599.3,261.9 597.3,262.1 595.3,262.2 593.3,262.3 591.3,262.4 589.2,262.4 587.2,262.4 585.2,262.3 583.2,262.2 581.2,262.1 579.2,261.9 577.2,261.7 575.2,261.4 573.2,261.1 571.2,260.7 569.2,260.2 567.2,259.8 565.2,259.3 563.2,258.8 561.2,258.3 559.2,257.8 557.1,257.2 555.1,256.6 553.1,255.9 551.1,255.3 549.1,254.7 547.1,254.1 545.1,253.5 543.1,252.8 541.1,252.2 539.1,251.6 537.1,250.9 535.1,250.2 533.1,249.6 531.1,248.9 529.1,248.3 527.1,247.7 525,247.1 523,246.5 521,246 519,245.4 517,244.7 515,244.2 513,243.6 511,243.1Z" fill="none" stroke="#000000" stroke-width="0.7" stroke-opacity="0.9"/><path d="M511,404.7 513,402.7 515,400.8 517,398.9 519,396.6 521,394.7 523,392.9 525,391 527.1,389.1 529.1,387.2 531.1,385.3 533.1,383.4 535.1,381.5 537.1,379.2 539.1,377.3 541.1,375.3 543.1,373.4 545.1,371.5 547.1,369.6 549.1,367.7 551.1,365.7 553.1,363.7 555.1,361.3 557.1,359.3 559.2,357.2 561.2,355.1 563.2,352.9 565.2,350.7 567.2,348.5 569.2,346.2 571.2,343.5 573.2,341.2 575.2,338.9 577.2,336.5 579.2,334.2 581.2,331.8 583.2,329.4 585.2,327.2 587.2,325 589.2,322.4 591.3,320.3 593.3,318.2 595.3,316.1 597.3,314.1 599.3,312 601.3,310 603.3,308.1 605.3,306.1 607.3,303.8 609.3,301.9 611.3,300 613.3,298.1 615.3,296.3 617.3,294.4 619.3,292.6 621.4,290.8 623.4,288.7 625.4,287 627.4,285.3 629.4,283.6 631.4,281.9 633.4,280.3 635.4,278.7 637.4,277.1 639.4,275.4 641.4,273.5 643.4,271.9 645.4,270.4 647.4,269 649.4,267.6 651.4,266.3 653.5,265.2 655.5,264.2 657.5,263.3 659.5,262.2 661.5,261.4 663.5,260.7 665.5,260 667.5,259.8 669.5,260 671.5,260.7 673.5,261.4 675.5,262.2 677.5,263.3 679.5,264.2 681.5,265.2 683.6,266.3 685.6,267.6 687.6,269 689.6,270.4 691.6,271.9 693.6,273.5 695.6,275.4 697.6,277.1 699.6,278.7 701.6,280.3 703.6,281.9 705.6,283.6 707.6,285.3 709.6,287 711.6,288.7 713.6,290.8 715.7,292.6 717.7,294.4 719.7,296.3 721.7,298.1 723.7,300 725.7,301.9 727.7,303.8 729.7,306.1 731.7,308.1 733.7,310 735.7,312 737.7,314.1 739.7,316.1 741.7,318.2 743.7,320.3 745.8,322.4 747.8,325 749.8,327.2 751.8,329.4 753.8,331.8 755.8,334.2 757.8,336.5 759.8,338.9 761.8,341.2 763.8,343.5 765.8,346.2 767.8,348.5 769.8,350.7 771.8,352.9 773.8,355.1 775.8,357.2 777.9,359.3 779.9,361.3 781.9,363.7 783.9,365.7 785.9,367.7 787.9,369.6 789.9,371.5 791.9,373.4 793.9,375.3 795.9,377.3 797.9,379.2 799.9,381.5 801.9,383.4 803.9,385.3 805.9,387.2 807.9,389.1 810,391 812,392.9 814,394.7 816,396.6 818,398.9 820,400.8 822,402.7 824,404.7 824,405.5 822,404.4 820,402.5 818,400.7 816,398.8 814,396.6 812,394.7 810,392.9 807.9,391.2 805.9,389.4 803.9,387.7 801.9,386 799.9,384.3 797.9,382.7 795.9,380.8 793.9,379.3 791.9,377.7 789.9,376.3 787.9,374.8 785.9,373.5 783.9,372.1 781.9,370.8 779.9,369.6 777.9,368.2 775.8,367.1 773.8,366 771.8,365 769.8,364.1 767.8,363.2 765.8,362.4 763.8,361.6 761.8,360.8 759.8,360.2 757.8,359.7 755.8,359.2 753.8,358.9 751.8,358.6 749.8,358.3 747.8,358.2 745.8,358.2 743.7,358.3 741.7,358.5 739.7,358.8 737.7,359.1 735.7,359.6 733.7,360.1 731.7,360.7 729.7,361.3 727.7,362.2 725.7,363 723.7,363.9 721.7,364.9 719.7,365.9 717.7,366.9 715.7,368 713.6,369.2 711.6,370.7 709.6,372 707.6,373.3 705.6,374.7 703.6,376.2 701.6,377.6 699.6,379.2 697.6,380.8 695.6,382.4 693.6,384.4 691.6,386 689.6,387.8 687.6,389.5 685.6,391.3 683.6,393.1 681.5,394.9 679.5,396.8 677.5,398.6 675.5,400.9 673.5,402.8 671.5,404.8 669.5,406.7 667.5,407.9 665.5,406.7 663.5,404.8 661.5,402.8 659.5,400.9 657.5,398.6 655.5,396.8 653.5,394.9 651.4,393.1 649.4,391.3 647.4,389.5 645.4,387.8 643.4,386 641.4,384.4 639.4,382.4 637.4,380.8 635.4,379.2 633.4,377.6 631.4,376.2 629.4,374.7 627.4,373.3 625.4,372 623.4,370.7 621.4,369.2 619.3,368 617.3,366.9 615.3,365.9 613.3,364.9 611.3,363.9 609.3,363 607.3,362.2 605.3,361.3 603.3,360.7 601.3,360.1 599.3,359.6 597.3,359.1 595.3,358.8 593.3,358.5 591.3,358.3 589.2,358.2 587.2,358.2 585.2,358.3 583.2,358.6 581.2,358.9 579.2,359.2 577.2,359.7 575.2,360.2 573.2,360.8 571.2,361.6 569.2,362.4 567.2,363.2 565.2,364.1 563.2,365 561.2,366 559.2,367.1 557.1,368.2 555.1,369.6 553.1,370.8 551.1,372.1 549.1,373.5 547.1,374.8 545.1,376.3 543.1,377.7 541.1,379.3 539.1,380.8 537.1,382.7 535.1,384.3 533.1,386 531.1,387.7 529.1,389.4 527.1,391.2 525,392.9 523,394.7 521,396.6 519,398.8 517,400.7 515,402.5 513,404.4 511,405.5Z" fill="url(#gv)"/><path d="M511,405.5 511,405.5M824,405.5 824,405.5M523,394.1 522,395 521,396 520,396.9 519,397.8 518,398.8 517,399.7M812,394.1 813,395 814,396 815,396.9 816,397.8 817,398.8 818,399.7M535.1,382.5 534.1,383.4 533.1,384.4 532.1,385.3 531.1,386.3 530.1,387.2 529.1,388.2 528.1,389.2 527.1,390.2 526,391.1 525,392.1 524,393.1 523,394.1M799.9,382.5 800.9,383.4 801.9,384.4 802.9,385.3 803.9,386.3 804.9,387.2 805.9,388.2 806.9,389.2 807.9,390.2 809,391.1 810,392.1 811,393.1 812,394.1M547.1,370.7 546.1,371.7 545.1,372.6 544.1,373.6 543.1,374.5 542.1,375.5 541.1,376.5 540.1,377.5 539.1,378.4 538.1,379.5 537.1,380.5 536.1,381.5 535.1,382.5 534.1,383.5 533.1,384.5 532.1,385.6 531.1,386.6 530.1,387.7 529.1,388.7M787.9,370.7 788.9,371.7 789.9,372.6 790.9,373.6 791.9,374.5 792.9,375.5 793.9,376.5 794.9,377.5 795.9,378.4 796.9,379.5 797.9,380.5 798.9,381.5 799.9,382.5 800.9,383.5 801.9,384.5 802.9,385.6 803.9,386.6 804.9,387.7 805.9,388.7M559.2,358.5 558.2,359.5 557.1,360.5 556.1,361.6 555.1,362.6 554.1,363.6 553.1,364.6 552.1,365.6 551.1,366.6 550.1,367.6 549.1,368.7 548.1,369.7 547.1,370.7 546.1,371.7 545.1,372.8 544.1,373.8 543.1,374.9 542.1,376 541.1,377 540.1,378.1 539.1,379.2 538.1,380.3 537.1,381.4 536.1,382.5 535.1,383.6M775.8,358.5 776.8,359.5 777.9,360.5 778.9,361.6 779.9,362.6 780.9,363.6 781.9,364.6 782.9,365.6 783.9,366.6 784.9,367.6 785.9,368.7 786.9,369.7 787.9,370.7 788.9,371.7 789.9,372.8 790.9,373.8 791.9,374.9 792.9,376 793.9,377 794.9,378.1 795.9,379.2 796.9,380.3 797.9,381.4 798.9,382.5 799.9,383.6M571.2,344.9 570.2,346 569.2,347.1 568.2,348.3 567.2,349.4 566.2,350.6 565.2,351.7 564.2,352.9 563.2,354 562.2,355.2 561.2,356.3 560.2,357.4 559.2,358.6 558.2,359.7 557.1,360.8 556.1,361.9 555.1,363 554.1,364.1 553.1,365.2 552.1,366.3 551.1,367.4 550.1,368.6 549.1,369.7 548.1,370.8 547.1,371.9 546.1,373 545.1,374.1 544.1,375.3 543.1,376.4 542.1,377.6 541.1,378.7M763.8,344.9 764.8,346 765.8,347.1 766.8,348.3 767.8,349.4 768.8,350.6 769.8,351.7 770.8,352.9 771.8,354 772.8,355.2 773.8,356.3 774.8,357.4 775.8,358.6 776.8,359.7 777.9,360.8 778.9,361.9 779.9,363 780.9,364.1 781.9,365.2 782.9,366.3 783.9,367.4 784.9,368.6 785.9,369.7 786.9,370.8 787.9,371.9 788.9,373 789.9,374.1 790.9,375.3 791.9,376.4 792.9,377.6 793.9,378.7M583.2,330.5 582.2,331.6 581.2,332.8 580.2,334.1 579.2,335.3 578.2,336.5 577.2,337.8 576.2,339 575.2,340.2 574.2,341.4 573.2,342.7 572.2,343.9 571.2,345.2 570.2,346.4 569.2,347.7 568.2,348.9 567.2,350.2 566.2,351.4 565.2,352.7 564.2,353.9 563.2,355.2 562.2,356.4 561.2,357.6 560.2,358.8 559.2,360 558.2,361.2 557.1,362.4 556.1,363.6 555.1,364.8 554.1,366 553.1,367.1 552.1,368.3 551.1,369.5 550.1,370.7 549.1,371.9 548.1,373.1 547.1,374.3M751.8,330.5 752.8,331.6 753.8,332.8 754.8,334.1 755.8,335.3 756.8,336.5 757.8,337.8 758.8,339 759.8,340.2 760.8,341.4 761.8,342.7 762.8,343.9 763.8,345.2 764.8,346.4 765.8,347.7 766.8,348.9 767.8,350.2 768.8,351.4 769.8,352.7 770.8,353.9 771.8,355.2 772.8,356.4 773.8,357.6 774.8,358.8 775.8,360 776.8,361.2 777.9,362.4 778.9,363.6 779.9,364.8 780.9,366 781.9,367.1 782.9,368.3 783.9,369.5 784.9,370.7 785.9,371.9 786.9,373.1 787.9,374.3M595.3,317.1 594.3,318.2 593.3,319.2 592.3,320.3 591.3,321.4 590.3,322.6 589.2,323.7 588.2,324.9 587.2,326 586.2,327.2 585.2,328.4 584.2,329.7 583.2,331 582.2,332.3 581.2,333.7 580.2,335.1 579.2,336.4 578.2,337.8 577.2,339.1 576.2,340.4 575.2,341.8 574.2,343.1 573.2,344.5 572.2,345.8 571.2,347.2 570.2,348.5 569.2,349.9 568.2,351.2 567.2,352.5 566.2,353.8 565.2,355.1 564.2,356.4 563.2,357.7 562.2,358.9 561.2,360.2 560.2,361.5 559.2,362.8 558.2,364 557.1,365.3 556.1,366.5 555.1,367.8 554.1,369 553.1,370.2M739.7,317.1 740.7,318.2 741.7,319.2 742.7,320.3 743.7,321.4 744.7,322.6 745.8,323.7 746.8,324.9 747.8,326 748.8,327.2 749.8,328.4 750.8,329.7 751.8,331 752.8,332.3 753.8,333.7 754.8,335.1 755.8,336.4 756.8,337.8 757.8,339.1 758.8,340.4 759.8,341.8 760.8,343.1 761.8,344.5 762.8,345.8 763.8,347.2 764.8,348.5 765.8,349.9 766.8,351.2 767.8,352.5 768.8,353.8 769.8,355.1 770.8,356.4 771.8,357.7 772.8,358.9 773.8,360.2 774.8,361.5 775.8,362.8 776.8,364 777.9,365.3 778.9,366.5 779.9,367.8 780.9,369 781.9,370.2M607.3,304.8 606.3,305.8 605.3,306.8 604.3,307.8 603.3,308.9 602.3,309.9 601.3,311 600.3,312.1 599.3,313.2 598.3,314.3 597.3,315.5 596.3,316.6 595.3,317.8 594.3,319 593.3,320.2 592.3,321.5 591.3,322.7 590.3,324 589.2,325.3 588.2,326.6 587.2,327.9 586.2,329.3 585.2,330.7 584.2,332.1 583.2,333.6 582.2,335.1 581.2,336.5 580.2,337.9 579.2,339.4 578.2,340.8 577.2,342.2 576.2,343.6 575.2,345.1 574.2,346.5 573.2,347.9 572.2,349.3 571.2,350.7 570.2,352.1 569.2,353.5 568.2,354.8 567.2,356.2 566.2,357.5 565.2,358.8 564.2,360.1 563.2,361.5 562.2,362.8 561.2,364.1 560.2,365.4 559.2,366.7M727.7,304.8 728.7,305.8 729.7,306.8 730.7,307.8 731.7,308.9 732.7,309.9 733.7,311 734.7,312.1 735.7,313.2 736.7,314.3 737.7,315.5 738.7,316.6 739.7,317.8 740.7,319 741.7,320.2 742.7,321.5 743.7,322.7 744.7,324 745.8,325.3 746.8,326.6 747.8,327.9 748.8,329.3 749.8,330.7 750.8,332.1 751.8,333.6 752.8,335.1 753.8,336.5 754.8,337.9 755.8,339.4 756.8,340.8 757.8,342.2 758.8,343.6 759.8,345.1 760.8,346.5 761.8,347.9 762.8,349.3 763.8,350.7 764.8,352.1 765.8,353.5 766.8,354.8 767.8,356.2 768.8,357.5 769.8,358.8 770.8,360.1 771.8,361.5 772.8,362.8 773.8,364.1 774.8,365.4 775.8,366.7M619.3,293.3 618.3,294.3 617.3,295.2 616.3,296.2 615.3,297.2 614.3,298.2 613.3,299.2 612.3,300.2 611.3,301.3 610.3,302.4 609.3,303.5 608.3,304.6 607.3,305.7 606.3,306.9 605.3,308 604.3,309.2 603.3,310.4 602.3,311.6 601.3,312.9 600.3,314.1 599.3,315.4 598.3,316.6 597.3,317.9 596.3,319.2 595.3,320.6 594.3,321.9 593.3,323.3 592.3,324.6 591.3,326 590.3,327.4 589.2,328.9 588.2,330.4 587.2,331.9 586.2,333.4 585.2,335 584.2,336.5 583.2,338 582.2,339.5 581.2,341 580.2,342.5 579.2,343.9 578.2,345.4 577.2,346.9 576.2,348.4 575.2,349.8 574.2,351.3 573.2,352.7 572.2,354.1 571.2,355.5 570.2,356.9 569.2,358.2 568.2,359.6 567.2,361 566.2,362.4 565.2,363.7M715.7,293.3 716.7,294.3 717.7,295.2 718.7,296.2 719.7,297.2 720.7,298.2 721.7,299.2 722.7,300.2 723.7,301.3 724.7,302.4 725.7,303.5 726.7,304.6 727.7,305.7 728.7,306.9 729.7,308 730.7,309.2 731.7,310.4 732.7,311.6 733.7,312.9 734.7,314.1 735.7,315.4 736.7,316.6 737.7,317.9 738.7,319.2 739.7,320.6 740.7,321.9 741.7,323.3 742.7,324.6 743.7,326 744.7,327.4 745.8,328.9 746.8,330.4 747.8,331.9 748.8,333.4 749.8,335 750.8,336.5 751.8,338 752.8,339.5 753.8,341 754.8,342.5 755.8,343.9 756.8,345.4 757.8,346.9 758.8,348.4 759.8,349.8 760.8,351.3 761.8,352.7 762.8,354.1 763.8,355.5 764.8,356.9 765.8,358.2 766.8,359.6 767.8,361 768.8,362.4 769.8,363.7M631.4,282.7 630.4,283.5 629.4,284.4 628.4,285.3 627.4,286.2 626.4,287.2 625.4,288.2 624.4,289.2 623.4,290.2 622.4,291.3 621.4,292.3 620.3,293.4 619.3,294.5 618.3,295.6 617.3,296.8 616.3,297.9 615.3,299.1 614.3,300.3 613.3,301.5 612.3,302.7 611.3,303.9 610.3,305.1 609.3,306.4 608.3,307.6 607.3,308.9 606.3,310.2 605.3,311.5 604.3,312.8 603.3,314.1 602.3,315.5 601.3,316.8 600.3,318.2 599.3,319.6 598.3,321 597.3,322.4 596.3,323.8 595.3,325.3 594.3,326.7 593.3,328.2 592.3,329.8 591.3,331.4 590.3,333 589.2,334.6 588.2,336.1 587.2,337.7 586.2,339.2 585.2,340.8 584.2,342.3 583.2,343.8 582.2,345.4 581.2,346.9 580.2,348.4 579.2,349.9 578.2,351.4 577.2,352.8 576.2,354.2 575.2,355.7 574.2,357.1 573.2,358.4 572.2,359.9 571.2,361.3M703.6,282.7 704.6,283.5 705.6,284.4 706.6,285.3 707.6,286.2 708.6,287.2 709.6,288.2 710.6,289.2 711.6,290.2 712.6,291.3 713.6,292.3 714.7,293.4 715.7,294.5 716.7,295.6 717.7,296.8 718.7,297.9 719.7,299.1 720.7,300.3 721.7,301.5 722.7,302.7 723.7,303.9 724.7,305.1 725.7,306.4 726.7,307.6 727.7,308.9 728.7,310.2 729.7,311.5 730.7,312.8 731.7,314.1 732.7,315.5 733.7,316.8 734.7,318.2 735.7,319.6 736.7,321 737.7,322.4 738.7,323.8 739.7,325.3 740.7,326.7 741.7,328.2 742.7,329.8 743.7,331.4 744.7,333 745.8,334.6 746.8,336.1 747.8,337.7 748.8,339.2 749.8,340.8 750.8,342.3 751.8,343.8 752.8,345.4 753.8,346.9 754.8,348.4 755.8,349.9 756.8,351.4 757.8,352.8 758.8,354.2 759.8,355.7 760.8,357.1 761.8,358.4 762.8,359.9 763.8,361.3M643.4,272.7 642.4,273.5 641.4,274.4 640.4,275.3 639.4,276.2 638.4,277.2 637.4,278.1 636.4,279.1 635.4,280.1 634.4,281.1 633.4,282.1 632.4,283.2 631.4,284.2 630.4,285.3 629.4,286.4 628.4,287.5 627.4,288.7 626.4,289.8 625.4,291 624.4,292.2 623.4,293.4 622.4,294.6 621.4,295.8 620.3,297 619.3,298.3 618.3,299.5 617.3,300.8 616.3,302.1 615.3,303.4 614.3,304.7 613.3,306 612.3,307.3 611.3,308.7 610.3,310 609.3,311.4 608.3,312.7 607.3,314.1 606.3,315.5 605.3,316.9 604.3,318.4 603.3,319.8 602.3,321.3 601.3,322.7 600.3,324.2 599.3,325.7 598.3,327.2 597.3,328.8 596.3,330.4 595.3,332 594.3,333.7 593.3,335.3 592.3,336.9 591.3,338.4 590.3,340 589.2,341.6 588.2,343.2 587.2,344.7 586.2,346.3 585.2,347.8 584.2,349.3 583.2,350.8 582.2,352.3 581.2,353.8 580.2,355.2 579.2,356.7 578.2,358.1 577.2,359.5M691.6,272.7 692.6,273.5 693.6,274.4 694.6,275.3 695.6,276.2 696.6,277.2 697.6,278.1 698.6,279.1 699.6,280.1 700.6,281.1 701.6,282.1 702.6,283.2 703.6,284.2 704.6,285.3 705.6,286.4 706.6,287.5 707.6,288.7 708.6,289.8 709.6,291 710.6,292.2 711.6,293.4 712.6,294.6 713.6,295.8 714.7,297 715.7,298.3 716.7,299.5 717.7,300.8 718.7,302.1 719.7,303.4 720.7,304.7 721.7,306 722.7,307.3 723.7,308.7 724.7,310 725.7,311.4 726.7,312.7 727.7,314.1 728.7,315.5 729.7,316.9 730.7,318.4 731.7,319.8 732.7,321.3 733.7,322.7 734.7,324.2 735.7,325.7 736.7,327.2 737.7,328.8 738.7,330.4 739.7,332 740.7,333.7 741.7,335.3 742.7,336.9 743.7,338.4 744.7,340 745.8,341.6 746.8,343.2 747.8,344.7 748.8,346.3 749.8,347.8 750.8,349.3 751.8,350.8 752.8,352.3 753.8,353.8 754.8,355.2 755.8,356.7 756.8,358.1 757.8,359.5M655.5,264.6 654.5,265.1 653.5,265.7 652.5,266.4 651.4,267.2 650.4,268 649.4,268.9 648.4,269.8 647.4,270.8 646.4,271.8 645.4,272.8 644.4,273.9 643.4,275 642.4,276.1 641.4,277.2 640.4,278.4 639.4,279.5 638.4,280.6 637.4,281.7 636.4,282.9 635.4,284 634.4,285.2 633.4,286.4 632.4,287.6 631.4,288.8 630.4,290 629.4,291.3 628.4,292.5 627.4,293.8 626.4,295.1 625.4,296.4 624.4,297.7 623.4,299 622.4,300.3 621.4,301.6 620.3,302.9 619.3,304.3 618.3,305.6 617.3,307 616.3,308.3 615.3,309.7 614.3,311.1 613.3,312.5 612.3,313.9 611.3,315.4 610.3,316.8 609.3,318.3 608.3,319.7 607.3,321.2 606.3,322.7 605.3,324.2 604.3,325.7 603.3,327.3 602.3,328.9 601.3,330.5 600.3,332.2 599.3,333.8 598.3,335.5 597.3,337.1 596.3,338.7 595.3,340.3 594.3,341.9 593.3,343.4 592.3,345 591.3,346.6 590.3,348.1 589.2,349.7 588.2,351.2 587.2,352.7 586.2,354.2 585.2,355.6 584.2,357 583.2,358.5M679.5,264.6 680.5,265.1 681.5,265.7 682.5,266.4 683.6,267.2 684.6,268 685.6,268.9 686.6,269.8 687.6,270.8 688.6,271.8 689.6,272.8 690.6,273.9 691.6,275 692.6,276.1 693.6,277.2 694.6,278.4 695.6,279.5 696.6,280.6 697.6,281.7 698.6,282.9 699.6,284 700.6,285.2 701.6,286.4 702.6,287.6 703.6,288.8 704.6,290 705.6,291.3 706.6,292.5 707.6,293.8 708.6,295.1 709.6,296.4 710.6,297.7 711.6,299 712.6,300.3 713.6,301.6 714.7,302.9 715.7,304.3 716.7,305.6 717.7,307 718.7,308.3 719.7,309.7 720.7,311.1 721.7,312.5 722.7,313.9 723.7,315.4 724.7,316.8 725.7,318.3 726.7,319.7 727.7,321.2 728.7,322.7 729.7,324.2 730.7,325.7 731.7,327.3 732.7,328.9 733.7,330.5 734.7,332.2 735.7,333.8 736.7,335.5 737.7,337.1 738.7,338.7 739.7,340.3 740.7,341.9 741.7,343.4 742.7,345 743.7,346.6 744.7,348.1 745.8,349.7 746.8,351.2 747.8,352.7 748.8,354.2 749.8,355.6 750.8,357 751.8,358.5M667.5,259.7 666.5,260.1 665.5,260.6 664.5,261.1 663.5,261.7 662.5,262.3 661.5,262.9 660.5,263.6 659.5,264.3 658.5,265 657.5,265.8 656.5,266.6 655.5,267.5 654.5,268.5 653.5,269.5 652.5,270.6 651.4,271.7 650.4,272.8 649.4,273.9 648.4,275.1 647.4,276.3 646.4,277.4 645.4,278.6 644.4,279.8 643.4,280.9 642.4,282.1 641.4,283.3 640.4,284.5 639.4,285.7 638.4,286.9 637.4,288.1 636.4,289.4 635.4,290.6 634.4,291.9 633.4,293.2 632.4,294.5 631.4,295.8 630.4,297.1 629.4,298.4 628.4,299.7 627.4,301 626.4,302.4 625.4,303.7 624.4,305.1 623.4,306.5 622.4,307.8 621.4,309.2 620.3,310.6 619.3,312 618.3,313.5 617.3,314.9 616.3,316.4 615.3,317.8 614.3,319.3 613.3,320.8 612.3,322.3 611.3,323.8 610.3,325.3 609.3,326.8 608.3,328.4 607.3,330 606.3,331.7 605.3,333.4 604.3,335 603.3,336.7 602.3,338.3 601.3,339.9 600.3,341.5 599.3,343.1 598.3,344.7 597.3,346.2 596.3,347.8 595.3,349.3 594.3,350.9 593.3,352.4 592.3,353.9 591.3,355.3 590.3,356.8 589.2,358.2M667.5,259.7 668.5,260.1 669.5,260.6 670.5,261.1 671.5,261.7 672.5,262.3 673.5,262.9 674.5,263.6 675.5,264.3 676.5,265 677.5,265.8 678.5,266.6 679.5,267.5 680.5,268.5 681.5,269.5 682.5,270.6 683.6,271.7 684.6,272.8 685.6,273.9 686.6,275.1 687.6,276.3 688.6,277.4 689.6,278.6 690.6,279.8 691.6,280.9 692.6,282.1 693.6,283.3 694.6,284.5 695.6,285.7 696.6,286.9 697.6,288.1 698.6,289.4 699.6,290.6 700.6,291.9 701.6,293.2 702.6,294.5 703.6,295.8 704.6,297.1 705.6,298.4 706.6,299.7 707.6,301 708.6,302.4 709.6,303.7 710.6,305.1 711.6,306.5 712.6,307.8 713.6,309.2 714.7,310.6 715.7,312 716.7,313.5 717.7,314.9 718.7,316.4 719.7,317.8 720.7,319.3 721.7,320.8 722.7,322.3 723.7,323.8 724.7,325.3 725.7,326.8 726.7,328.4 727.7,330 728.7,331.7 729.7,333.4 730.7,335 731.7,336.7 732.7,338.3 733.7,339.9 734.7,341.5 735.7,343.1 736.7,344.7 737.7,346.2 738.7,347.8 739.7,349.3 740.7,350.9 741.7,352.4 742.7,353.9 743.7,355.3 744.7,356.8 745.8,358.2M679.5,264.6 678.5,264.1 677.5,263.7 676.5,263.3 675.5,263.1 674.5,263 673.5,262.9 672.5,263 671.5,263.2 670.5,263.4 669.5,263.8 668.5,264.2 667.5,264.7 666.5,265.3 665.5,265.9 664.5,266.6 663.5,267.3 662.5,268.2 661.5,269 660.5,270 659.5,270.9 658.5,272 657.5,273 656.5,274.1 655.5,275.2 654.5,276.3 653.5,277.4 652.5,278.6 651.4,279.7 650.4,280.8 649.4,281.9 648.4,283 647.4,284.2 646.4,285.4 645.4,286.6 644.4,287.8 643.4,289 642.4,290.2 641.4,291.5 640.4,292.7 639.4,294 638.4,295.3 637.4,296.5 636.4,297.8 635.4,299.1 634.4,300.5 633.4,301.8 632.4,303.1 631.4,304.4 630.4,305.8 629.4,307.1 628.4,308.5 627.4,309.9 626.4,311.3 625.4,312.7 624.4,314.1 623.4,315.6 622.4,317 621.4,318.5 620.3,319.9 619.3,321.4 618.3,322.9 617.3,324.4 616.3,325.9 615.3,327.5 614.3,329 613.3,330.7 612.3,332.3 611.3,334 610.3,335.7 609.3,337.3 608.3,338.9 607.3,340.4 606.3,342 605.3,343.6 604.3,345.2 603.3,346.8 602.3,348.3 601.3,349.9 600.3,351.4 599.3,352.9 598.3,354.3 597.3,355.8 596.3,357.2 595.3,358.6M655.5,264.6 656.5,264.1 657.5,263.7 658.5,263.3 659.5,263.1 660.5,263 661.5,262.9 662.5,263 663.5,263.2 664.5,263.4 665.5,263.8 666.5,264.2 667.5,264.7 668.5,265.3 669.5,265.9 670.5,266.6 671.5,267.3 672.5,268.2 673.5,269 674.5,270 675.5,270.9 676.5,272 677.5,273 678.5,274.1 679.5,275.2 680.5,276.3 681.5,277.4 682.5,278.6 683.6,279.7 684.6,280.8 685.6,281.9 686.6,283 687.6,284.2 688.6,285.4 689.6,286.6 690.6,287.8 691.6,289 692.6,290.2 693.6,291.5 694.6,292.7 695.6,294 696.6,295.3 697.6,296.5 698.6,297.8 699.6,299.1 700.6,300.5 701.6,301.8 702.6,303.1 703.6,304.4 704.6,305.8 705.6,307.1 706.6,308.5 707.6,309.9 708.6,311.3 709.6,312.7 710.6,314.1 711.6,315.6 712.6,317 713.6,318.5 714.7,319.9 715.7,321.4 716.7,322.9 717.7,324.4 718.7,325.9 719.7,327.5 720.7,329 721.7,330.7 722.7,332.3 723.7,334 724.7,335.7 725.7,337.3 726.7,338.9 727.7,340.4 728.7,342 729.7,343.6 730.7,345.2 731.7,346.8 732.7,348.3 733.7,349.9 734.7,351.4 735.7,352.9 736.7,354.3 737.7,355.8 738.7,357.2 739.7,358.6M691.6,272.7 690.6,271.9 689.6,271.2 688.6,270.5 687.6,269.9 686.6,269.3 685.6,268.9 684.6,268.4 683.6,268.1 682.5,267.8 681.5,267.7 680.5,267.6 679.5,267.5 678.5,267.6 677.5,267.7 676.5,267.9 675.5,268.2 674.5,268.6 673.5,269 672.5,269.5 671.5,270.1 670.5,270.8 669.5,271.5 668.5,272.2 667.5,273.1 666.5,273.9 665.5,274.8 664.5,275.7 663.5,276.6 662.5,277.5 661.5,278.5 660.5,279.5 659.5,280.5 658.5,281.5 657.5,282.5 656.5,283.5 655.5,284.6 654.5,285.7 653.5,286.8 652.5,287.9 651.4,289 650.4,290.2 649.4,291.4 648.4,292.5 647.4,293.7 646.4,295 645.4,296.2 644.4,297.4 643.4,298.7 642.4,299.9 641.4,301.2 640.4,302.5 639.4,303.8 638.4,305.1 637.4,306.4 636.4,307.7 635.4,309 634.4,310.4 633.4,311.7 632.4,313.1 631.4,314.5 630.4,315.9 629.4,317.3 628.4,318.7 627.4,320.2 626.4,321.6 625.4,323.1 624.4,324.6 623.4,326.1 622.4,327.6 621.4,329.1 620.3,330.7 619.3,332.4 618.3,334 617.3,335.7 616.3,337.2 615.3,338.8 614.3,340.4 613.3,342 612.3,343.5 611.3,345.1 610.3,346.6 609.3,348.2 608.3,349.7 607.3,351.2 606.3,352.7 605.3,354.2 604.3,355.6 603.3,357 602.3,358.4 601.3,359.9M643.4,272.7 644.4,271.9 645.4,271.2 646.4,270.5 647.4,269.9 648.4,269.3 649.4,268.9 650.4,268.4 651.4,268.1 652.5,267.8 653.5,267.7 654.5,267.6 655.5,267.5 656.5,267.6 657.5,267.7 658.5,267.9 659.5,268.2 660.5,268.6 661.5,269 662.5,269.5 663.5,270.1 664.5,270.8 665.5,271.5 666.5,272.2 667.5,273.1 668.5,273.9 669.5,274.8 670.5,275.7 671.5,276.6 672.5,277.5 673.5,278.5 674.5,279.5 675.5,280.5 676.5,281.5 677.5,282.5 678.5,283.5 679.5,284.6 680.5,285.7 681.5,286.8 682.5,287.9 683.6,289 684.6,290.2 685.6,291.4 686.6,292.5 687.6,293.7 688.6,295 689.6,296.2 690.6,297.4 691.6,298.7 692.6,299.9 693.6,301.2 694.6,302.5 695.6,303.8 696.6,305.1 697.6,306.4 698.6,307.7 699.6,309 700.6,310.4 701.6,311.7 702.6,313.1 703.6,314.5 704.6,315.9 705.6,317.3 706.6,318.7 707.6,320.2 708.6,321.6 709.6,323.1 710.6,324.6 711.6,326.1 712.6,327.6 713.6,329.1 714.7,330.7 715.7,332.4 716.7,334 717.7,335.7 718.7,337.2 719.7,338.8 720.7,340.4 721.7,342 722.7,343.5 723.7,345.1 724.7,346.6 725.7,348.2 726.7,349.7 727.7,351.2 728.7,352.7 729.7,354.2 730.7,355.6 731.7,357 732.7,358.4 733.7,359.9M703.6,282.7 702.6,281.8 701.6,281 700.6,280.2 699.6,279.5 698.6,278.8 697.6,278.1 696.6,277.5 695.6,276.9 694.6,276.4 693.6,275.9 692.6,275.4 691.6,275 690.6,274.7 689.6,274.4 688.6,274.2 687.6,274 686.6,274 685.6,273.9 684.6,274 683.6,274.1 682.5,274.3 681.5,274.5 680.5,274.8 679.5,275.2 678.5,275.6 677.5,276.1 676.5,276.6 675.5,277.2 674.5,277.8 673.5,278.5 672.5,279.2 671.5,279.9 670.5,280.7 669.5,281.5 668.5,282.3 667.5,283.2 666.5,284.1 665.5,284.9 664.5,285.8 663.5,286.8 662.5,287.7 661.5,288.7 660.5,289.7 659.5,290.8 658.5,291.8 657.5,292.9 656.5,294 655.5,295.1 654.5,296.2 653.5,297.3 652.5,298.5 651.4,299.6 650.4,300.8 649.4,302 648.4,303.2 647.4,304.4 646.4,305.7 645.4,306.9 644.4,308.2 643.4,309.4 642.4,310.7 641.4,312 640.4,313.4 639.4,314.7 638.4,316 637.4,317.4 636.4,318.8 635.4,320.1 634.4,321.5 633.4,323 632.4,324.4 631.4,325.8 630.4,327.3 629.4,328.8 628.4,330.3 627.4,331.9 626.4,333.5 625.4,335.1 624.4,336.7 623.4,338.2 622.4,339.8 621.4,341.3 620.3,342.9 619.3,344.4 618.3,345.9 617.3,347.4 616.3,348.9 615.3,350.4 614.3,351.9 613.3,353.4 612.3,354.8 611.3,356.2 610.3,357.6 609.3,359 608.3,360.4 607.3,361.8M631.4,282.7 632.4,281.8 633.4,281 634.4,280.2 635.4,279.5 636.4,278.8 637.4,278.1 638.4,277.5 639.4,276.9 640.4,276.4 641.4,275.9 642.4,275.4 643.4,275 644.4,274.7 645.4,274.4 646.4,274.2 647.4,274 648.4,274 649.4,273.9 650.4,274 651.4,274.1 652.5,274.3 653.5,274.5 654.5,274.8 655.5,275.2 656.5,275.6 657.5,276.1 658.5,276.6 659.5,277.2 660.5,277.8 661.5,278.5 662.5,279.2 663.5,279.9 664.5,280.7 665.5,281.5 666.5,282.3 667.5,283.2 668.5,284.1 669.5,284.9 670.5,285.8 671.5,286.8 672.5,287.7 673.5,288.7 674.5,289.7 675.5,290.8 676.5,291.8 677.5,292.9 678.5,294 679.5,295.1 680.5,296.2 681.5,297.3 682.5,298.5 683.6,299.6 684.6,300.8 685.6,302 686.6,303.2 687.6,304.4 688.6,305.7 689.6,306.9 690.6,308.2 691.6,309.4 692.6,310.7 693.6,312 694.6,313.4 695.6,314.7 696.6,316 697.6,317.4 698.6,318.8 699.6,320.1 700.6,321.5 701.6,323 702.6,324.4 703.6,325.8 704.6,327.3 705.6,328.8 706.6,330.3 707.6,331.9 708.6,333.5 709.6,335.1 710.6,336.7 711.6,338.2 712.6,339.8 713.6,341.3 714.7,342.9 715.7,344.4 716.7,345.9 717.7,347.4 718.7,348.9 719.7,350.4 720.7,351.9 721.7,353.4 722.7,354.8 723.7,356.2 724.7,357.6 725.7,359 726.7,360.4 727.7,361.8M715.7,293.3 714.7,292.4 713.6,291.5 712.6,290.6 711.6,289.8 710.6,289 709.6,288.2 708.6,287.4 707.6,286.7 706.6,286 705.6,285.4 704.6,284.8 703.6,284.2 702.6,283.7 701.6,283.2 700.6,282.8 699.6,282.4 698.6,282 697.6,281.7 696.6,281.5 695.6,281.3 694.6,281.1 693.6,281 692.6,280.9 691.6,280.9 690.6,281 689.6,281 688.6,281.2 687.6,281.4 686.6,281.6 685.6,281.9 684.6,282.2 683.6,282.6 682.5,283 681.5,283.5 680.5,284 679.5,284.6 678.5,285.2 677.5,285.8 676.5,286.5 675.5,287.2 674.5,287.9 673.5,288.7 672.5,289.5 671.5,290.4 670.5,291.3 669.5,292.2 668.5,293.1 667.5,294.1 666.5,295 665.5,295.9 664.5,296.9 663.5,297.9 662.5,298.9 661.5,299.9 660.5,301 659.5,302 658.5,303.1 657.5,304.2 656.5,305.3 655.5,306.5 654.5,307.6 653.5,308.8 652.5,310 651.4,311.2 650.4,312.4 649.4,313.6 648.4,314.8 647.4,316.1 646.4,317.4 645.4,318.7 644.4,320 643.4,321.3 642.4,322.7 641.4,324 640.4,325.4 639.4,326.8 638.4,328.2 637.4,329.6 636.4,331.1 635.4,332.6 634.4,334.2 633.4,335.7 632.4,337.2 631.4,338.7 630.4,340.2 629.4,341.7 628.4,343.2 627.4,344.7 626.4,346.2 625.4,347.6 624.4,349.1 623.4,350.6 622.4,352 621.4,353.4 620.3,354.8 619.3,356.2 618.3,357.6 617.3,358.9 616.3,360.3 615.3,361.7 614.3,363.1 613.3,364.4M619.3,293.3 620.3,292.4 621.4,291.5 622.4,290.6 623.4,289.8 624.4,289 625.4,288.2 626.4,287.4 627.4,286.7 628.4,286 629.4,285.4 630.4,284.8 631.4,284.2 632.4,283.7 633.4,283.2 634.4,282.8 635.4,282.4 636.4,282 637.4,281.7 638.4,281.5 639.4,281.3 640.4,281.1 641.4,281 642.4,280.9 643.4,280.9 644.4,281 645.4,281 646.4,281.2 647.4,281.4 648.4,281.6 649.4,281.9 650.4,282.2 651.4,282.6 652.5,283 653.5,283.5 654.5,284 655.5,284.6 656.5,285.2 657.5,285.8 658.5,286.5 659.5,287.2 660.5,287.9 661.5,288.7 662.5,289.5 663.5,290.4 664.5,291.3 665.5,292.2 666.5,293.1 667.5,294.1 668.5,295 669.5,295.9 670.5,296.9 671.5,297.9 672.5,298.9 673.5,299.9 674.5,301 675.5,302 676.5,303.1 677.5,304.2 678.5,305.3 679.5,306.5 680.5,307.6 681.5,308.8 682.5,310 683.6,311.2 684.6,312.4 685.6,313.6 686.6,314.8 687.6,316.1 688.6,317.4 689.6,318.7 690.6,320 691.6,321.3 692.6,322.7 693.6,324 694.6,325.4 695.6,326.8 696.6,328.2 697.6,329.6 698.6,331.1 699.6,332.6 700.6,334.2 701.6,335.7 702.6,337.2 703.6,338.7 704.6,340.2 705.6,341.7 706.6,343.2 707.6,344.7 708.6,346.2 709.6,347.6 710.6,349.1 711.6,350.6 712.6,352 713.6,353.4 714.7,354.8 715.7,356.2 716.7,357.6 717.7,358.9 718.7,360.3 719.7,361.7 720.7,363.1 721.7,364.4M727.7,304.8 726.7,303.8 725.7,302.9 724.7,301.9 723.7,301 722.7,300.1 721.7,299.2 720.7,298.3 719.7,297.5 718.7,296.7 717.7,296 716.7,295.2 715.7,294.5 714.7,293.8 713.6,293.2 712.6,292.6 711.6,292 710.6,291.5 709.6,291 708.6,290.5 707.6,290.1 706.6,289.7 705.6,289.4 704.6,289.1 703.6,288.8 702.6,288.6 701.6,288.4 700.6,288.3 699.6,288.2 698.6,288.1 697.6,288.1 696.6,288.2 695.6,288.2 694.6,288.4 693.6,288.5 692.6,288.7 691.6,289 690.6,289.3 689.6,289.6 688.6,290 687.6,290.4 686.6,290.9 685.6,291.4 684.6,291.9 683.6,292.5 682.5,293.1 681.5,293.7 680.5,294.4 679.5,295.1 678.5,295.8 677.5,296.6 676.5,297.4 675.5,298.2 674.5,299.1 673.5,299.9 672.5,300.8 671.5,301.8 670.5,302.7 669.5,303.7 668.5,304.7 667.5,305.8 666.5,306.7 665.5,307.7 664.5,308.7 663.5,309.8 662.5,310.8 661.5,311.9 660.5,313 659.5,314.1 658.5,315.2 657.5,316.4 656.5,317.6 655.5,318.7 654.5,319.9 653.5,321.2 652.5,322.4 651.4,323.7 650.4,324.9 649.4,326.2 648.4,327.5 647.4,328.8 646.4,330.2 645.4,331.6 644.4,333.1 643.4,334.5 642.4,336 641.4,337.4 640.4,338.9 639.4,340.3 638.4,341.7 637.4,343.1 636.4,344.6 635.4,346 634.4,347.4 633.4,348.8 632.4,350.2 631.4,351.6 630.4,353 629.4,354.4 628.4,355.8 627.4,357.1 626.4,358.4 625.4,359.7 624.4,361.1 623.4,362.4 622.4,363.7 621.4,365 620.3,366.3 619.3,367.6M607.3,304.8 608.3,303.8 609.3,302.9 610.3,301.9 611.3,301 612.3,300.1 613.3,299.2 614.3,298.3 615.3,297.5 616.3,296.7 617.3,296 618.3,295.2 619.3,294.5 620.3,293.8 621.4,293.2 622.4,292.6 623.4,292 624.4,291.5 625.4,291 626.4,290.5 627.4,290.1 628.4,289.7 629.4,289.4 630.4,289.1 631.4,288.8 632.4,288.6 633.4,288.4 634.4,288.3 635.4,288.2 636.4,288.1 637.4,288.1 638.4,288.2 639.4,288.2 640.4,288.4 641.4,288.5 642.4,288.7 643.4,289 644.4,289.3 645.4,289.6 646.4,290 647.4,290.4 648.4,290.9 649.4,291.4 650.4,291.9 651.4,292.5 652.5,293.1 653.5,293.7 654.5,294.4 655.5,295.1 656.5,295.8 657.5,296.6 658.5,297.4 659.5,298.2 660.5,299.1 661.5,299.9 662.5,300.8 663.5,301.8 664.5,302.7 665.5,303.7 666.5,304.7 667.5,305.8 668.5,306.7 669.5,307.7 670.5,308.7 671.5,309.8 672.5,310.8 673.5,311.9 674.5,313 675.5,314.1 676.5,315.2 677.5,316.4 678.5,317.6 679.5,318.7 680.5,319.9 681.5,321.2 682.5,322.4 683.6,323.7 684.6,324.9 685.6,326.2 686.6,327.5 687.6,328.8 688.6,330.2 689.6,331.6 690.6,333.1 691.6,334.5 692.6,336 693.6,337.4 694.6,338.9 695.6,340.3 696.6,341.7 697.6,343.1 698.6,344.6 699.6,346 700.6,347.4 701.6,348.8 702.6,350.2 703.6,351.6 704.6,353 705.6,354.4 706.6,355.8 707.6,357.1 708.6,358.4 709.6,359.7 710.6,361.1 711.6,362.4 712.6,363.7 713.6,365 714.7,366.3 715.7,367.6M739.7,317.1 738.7,316.1 737.7,315 736.7,314 735.7,312.9 734.7,312 733.7,311 732.7,310 731.7,309.1 730.7,308.2 729.7,307.4 728.7,306.5 727.7,305.7 726.7,304.9 725.7,304.2 724.7,303.5 723.7,302.8 722.7,302.1 721.7,301.5 720.7,300.8 719.7,300.3 718.7,299.7 717.7,299.2 716.7,298.7 715.7,298.3 714.7,297.9 713.6,297.5 712.6,297.2 711.6,296.9 710.6,296.6 709.6,296.4 708.6,296.2 707.6,296 706.6,295.9 705.6,295.8 704.6,295.8 703.6,295.8 702.6,295.8 701.6,295.9 700.6,296 699.6,296.1 698.6,296.3 697.6,296.5 696.6,296.8 695.6,297.1 694.6,297.4 693.6,297.8 692.6,298.2 691.6,298.7 690.6,299.1 689.6,299.6 688.6,300.2 687.6,300.8 686.6,301.4 685.6,302 684.6,302.7 683.6,303.4 682.5,304.1 681.5,304.9 680.5,305.6 679.5,306.5 678.5,307.3 677.5,308.2 676.5,309.1 675.5,310 674.5,310.9 673.5,311.9 672.5,312.9 671.5,313.9 670.5,315 669.5,316 668.5,317.1 667.5,318.3 666.5,319.3 665.5,320.4 664.5,321.4 663.5,322.5 662.5,323.7 661.5,324.8 660.5,326 659.5,327.1 658.5,328.3 657.5,329.5 656.5,330.8 655.5,332.1 654.5,333.5 653.5,334.8 652.5,336.2 651.4,337.5 650.4,338.9 649.4,340.2 648.4,341.5 647.4,342.9 646.4,344.2 645.4,345.6 644.4,346.9 643.4,348.3 642.4,349.6 641.4,351 640.4,352.3 639.4,353.6 638.4,354.9 637.4,356.2 636.4,357.5 635.4,358.8 634.4,360 633.4,361.3 632.4,362.6 631.4,363.9 630.4,365.1 629.4,366.4 628.4,367.6 627.4,368.9 626.4,370.1 625.4,371.4M595.3,317.1 596.3,316.1 597.3,315 598.3,314 599.3,312.9 600.3,312 601.3,311 602.3,310 603.3,309.1 604.3,308.2 605.3,307.4 606.3,306.5 607.3,305.7 608.3,304.9 609.3,304.2 610.3,303.5 611.3,302.8 612.3,302.1 613.3,301.5 614.3,300.8 615.3,300.3 616.3,299.7 617.3,299.2 618.3,298.7 619.3,298.3 620.3,297.9 621.4,297.5 622.4,297.2 623.4,296.9 624.4,296.6 625.4,296.4 626.4,296.2 627.4,296 628.4,295.9 629.4,295.8 630.4,295.8 631.4,295.8 632.4,295.8 633.4,295.9 634.4,296 635.4,296.1 636.4,296.3 637.4,296.5 638.4,296.8 639.4,297.1 640.4,297.4 641.4,297.8 642.4,298.2 643.4,298.7 644.4,299.1 645.4,299.6 646.4,300.2 647.4,300.8 648.4,301.4 649.4,302 650.4,302.7 651.4,303.4 652.5,304.1 653.5,304.9 654.5,305.6 655.5,306.5 656.5,307.3 657.5,308.2 658.5,309.1 659.5,310 660.5,310.9 661.5,311.9 662.5,312.9 663.5,313.9 664.5,315 665.5,316 666.5,317.1 667.5,318.3 668.5,319.3 669.5,320.4 670.5,321.4 671.5,322.5 672.5,323.7 673.5,324.8 674.5,326 675.5,327.1 676.5,328.3 677.5,329.5 678.5,330.8 679.5,332.1 680.5,333.5 681.5,334.8 682.5,336.2 683.6,337.5 684.6,338.9 685.6,340.2 686.6,341.5 687.6,342.9 688.6,344.2 689.6,345.6 690.6,346.9 691.6,348.3 692.6,349.6 693.6,351 694.6,352.3 695.6,353.6 696.6,354.9 697.6,356.2 698.6,357.5 699.6,358.8 700.6,360 701.6,361.3 702.6,362.6 703.6,363.9 704.6,365.1 705.6,366.4 706.6,367.6 707.6,368.9 708.6,370.1 709.6,371.4M751.8,330.5 750.8,329.2 749.8,328.1 748.8,327 747.8,325.8 746.8,324.8 745.8,323.7 744.7,322.7 743.7,321.6 742.7,320.6 741.7,319.7 740.7,318.7 739.7,317.8 738.7,316.9 737.7,316.1 736.7,315.2 735.7,314.4 734.7,313.6 733.7,312.9 732.7,312.1 731.7,311.4 730.7,310.7 729.7,310.1 728.7,309.5 727.7,308.9 726.7,308.3 725.7,307.8 724.7,307.3 723.7,306.8 722.7,306.4 721.7,306 720.7,305.6 719.7,305.3 718.7,305 717.7,304.7 716.7,304.5 715.7,304.3 714.7,304.1 713.6,303.9 712.6,303.8 711.6,303.8 710.6,303.7 709.6,303.7 708.6,303.8 707.6,303.8 706.6,303.9 705.6,304.1 704.6,304.2 703.6,304.4 702.6,304.7 701.6,304.9 700.6,305.3 699.6,305.6 698.6,306 697.6,306.4 696.6,306.8 695.6,307.3 694.6,307.8 693.6,308.3 692.6,308.9 691.6,309.4 690.6,310.1 689.6,310.7 688.6,311.4 687.6,312.1 686.6,312.8 685.6,313.6 684.6,314.4 683.6,315.2 682.5,316.1 681.5,316.9 680.5,317.8 679.5,318.7 678.5,319.7 677.5,320.7 676.5,321.7 675.5,322.7 674.5,323.7 673.5,324.8 672.5,325.9 671.5,327 670.5,328.2 669.5,329.3 668.5,330.5 667.5,331.8 666.5,332.9 665.5,334.1 664.5,335.3 663.5,336.6 662.5,337.8 661.5,339 660.5,340.3 659.5,341.5 658.5,342.7 657.5,344 656.5,345.2 655.5,346.5 654.5,347.7 653.5,349 652.5,350.2 651.4,351.5 650.4,352.7 649.4,354 648.4,355.2 647.4,356.5 646.4,357.7 645.4,358.9 644.4,360.1 643.4,361.3 642.4,362.5 641.4,363.7 640.4,364.9 639.4,366.1 638.4,367.2 637.4,368.4 636.4,369.6 635.4,370.8 634.4,372 633.4,373.2 632.4,374.4 631.4,375.6M583.2,330.5 584.2,329.2 585.2,328.1 586.2,327 587.2,325.8 588.2,324.8 589.2,323.7 590.3,322.7 591.3,321.6 592.3,320.6 593.3,319.7 594.3,318.7 595.3,317.8 596.3,316.9 597.3,316.1 598.3,315.2 599.3,314.4 600.3,313.6 601.3,312.9 602.3,312.1 603.3,311.4 604.3,310.7 605.3,310.1 606.3,309.5 607.3,308.9 608.3,308.3 609.3,307.8 610.3,307.3 611.3,306.8 612.3,306.4 613.3,306 614.3,305.6 615.3,305.3 616.3,305 617.3,304.7 618.3,304.5 619.3,304.3 620.3,304.1 621.4,303.9 622.4,303.8 623.4,303.8 624.4,303.7 625.4,303.7 626.4,303.8 627.4,303.8 628.4,303.9 629.4,304.1 630.4,304.2 631.4,304.4 632.4,304.7 633.4,304.9 634.4,305.3 635.4,305.6 636.4,306 637.4,306.4 638.4,306.8 639.4,307.3 640.4,307.8 641.4,308.3 642.4,308.9 643.4,309.4 644.4,310.1 645.4,310.7 646.4,311.4 647.4,312.1 648.4,312.8 649.4,313.6 650.4,314.4 651.4,315.2 652.5,316.1 653.5,316.9 654.5,317.8 655.5,318.7 656.5,319.7 657.5,320.7 658.5,321.7 659.5,322.7 660.5,323.7 661.5,324.8 662.5,325.9 663.5,327 664.5,328.2 665.5,329.3 666.5,330.5 667.5,331.8 668.5,332.9 669.5,334.1 670.5,335.3 671.5,336.6 672.5,337.8 673.5,339 674.5,340.3 675.5,341.5 676.5,342.7 677.5,344 678.5,345.2 679.5,346.5 680.5,347.7 681.5,349 682.5,350.2 683.6,351.5 684.6,352.7 685.6,354 686.6,355.2 687.6,356.5 688.6,357.7 689.6,358.9 690.6,360.1 691.6,361.3 692.6,362.5 693.6,363.7 694.6,364.9 695.6,366.1 696.6,367.2 697.6,368.4 698.6,369.6 699.6,370.8 700.6,372 701.6,373.2 702.6,374.4 703.6,375.6M763.8,344.9 762.8,343.6 761.8,342.4 760.8,341.2 759.8,340.1 758.8,338.9 757.8,337.8 756.8,336.6 755.8,335.5 754.8,334.3 753.8,333.2 752.8,332.1 751.8,331 750.8,330 749.8,329 748.8,328 747.8,327.1 746.8,326.2 745.8,325.3 744.7,324.4 743.7,323.6 742.7,322.8 741.7,322 740.7,321.3 739.7,320.6 738.7,319.9 737.7,319.2 736.7,318.6 735.7,318 734.7,317.4 733.7,316.8 732.7,316.3 731.7,315.8 730.7,315.3 729.7,314.9 728.7,314.5 727.7,314.1 726.7,313.8 725.7,313.5 724.7,313.2 723.7,312.9 722.7,312.7 721.7,312.5 720.7,312.4 719.7,312.2 718.7,312.1 717.7,312.1 716.7,312 715.7,312 714.7,312.1 713.6,312.1 712.6,312.2 711.6,312.4 710.6,312.5 709.6,312.7 708.6,312.9 707.6,313.2 706.6,313.5 705.6,313.8 704.6,314.1 703.6,314.5 702.6,314.9 701.6,315.3 700.6,315.8 699.6,316.3 698.6,316.8 697.6,317.4 696.6,318 695.6,318.6 694.6,319.2 693.6,319.9 692.6,320.6 691.6,321.3 690.6,322.1 689.6,322.8 688.6,323.6 687.6,324.5 686.6,325.3 685.6,326.2 684.6,327.1 683.6,328.1 682.5,329 681.5,330 680.5,331 679.5,332.1 678.5,333.2 677.5,334.4 676.5,335.5 675.5,336.7 674.5,337.9 673.5,339 672.5,340.2 671.5,341.4 670.5,342.6 669.5,343.9 668.5,345.1 667.5,346.3 666.5,347.5 665.5,348.6 664.5,349.8 663.5,350.9 662.5,352.1 661.5,353.2 660.5,354.4 659.5,355.5 658.5,356.6 657.5,357.8 656.5,358.9 655.5,360 654.5,361.1 653.5,362.3 652.5,363.4 651.4,364.5 650.4,365.6 649.4,366.7 648.4,367.8 647.4,368.9 646.4,370 645.4,371.1 644.4,372.3 643.4,373.4 642.4,374.5 641.4,375.6 640.4,376.8 639.4,377.9 638.4,379.1 637.4,380.2M571.2,344.9 572.2,343.6 573.2,342.4 574.2,341.2 575.2,340.1 576.2,338.9 577.2,337.8 578.2,336.6 579.2,335.5 580.2,334.3 581.2,333.2 582.2,332.1 583.2,331 584.2,330 585.2,329 586.2,328 587.2,327.1 588.2,326.2 589.2,325.3 590.3,324.4 591.3,323.6 592.3,322.8 593.3,322 594.3,321.3 595.3,320.6 596.3,319.9 597.3,319.2 598.3,318.6 599.3,318 600.3,317.4 601.3,316.8 602.3,316.3 603.3,315.8 604.3,315.3 605.3,314.9 606.3,314.5 607.3,314.1 608.3,313.8 609.3,313.5 610.3,313.2 611.3,312.9 612.3,312.7 613.3,312.5 614.3,312.4 615.3,312.2 616.3,312.1 617.3,312.1 618.3,312 619.3,312 620.3,312.1 621.4,312.1 622.4,312.2 623.4,312.4 624.4,312.5 625.4,312.7 626.4,312.9 627.4,313.2 628.4,313.5 629.4,313.8 630.4,314.1 631.4,314.5 632.4,314.9 633.4,315.3 634.4,315.8 635.4,316.3 636.4,316.8 637.4,317.4 638.4,318 639.4,318.6 640.4,319.2 641.4,319.9 642.4,320.6 643.4,321.3 644.4,322.1 645.4,322.8 646.4,323.6 647.4,324.5 648.4,325.3 649.4,326.2 650.4,327.1 651.4,328.1 652.5,329 653.5,330 654.5,331 655.5,332.1 656.5,333.2 657.5,334.4 658.5,335.5 659.5,336.7 660.5,337.9 661.5,339 662.5,340.2 663.5,341.4 664.5,342.6 665.5,343.9 666.5,345.1 667.5,346.3 668.5,347.5 669.5,348.6 670.5,349.8 671.5,350.9 672.5,352.1 673.5,353.2 674.5,354.4 675.5,355.5 676.5,356.6 677.5,357.8 678.5,358.9 679.5,360 680.5,361.1 681.5,362.3 682.5,363.4 683.6,364.5 684.6,365.6 685.6,366.7 686.6,367.8 687.6,368.9 688.6,370 689.6,371.1 690.6,372.3 691.6,373.4 692.6,374.5 693.6,375.6 694.6,376.8 695.6,377.9 696.6,379.1 697.6,380.2M775.8,358.5 774.8,357.4 773.8,356.2 772.8,355.1 771.8,354 770.8,352.8 769.8,351.7 768.8,350.6 767.8,349.5 766.8,348.4 765.8,347.3 764.8,346.2 763.8,345.2 762.8,344.1 761.8,343.1 760.8,342.1 759.8,341.1 758.8,340.1 757.8,339.1 756.8,338.2 755.8,337.2 754.8,336.3 753.8,335.4 752.8,334.5 751.8,333.6 750.8,332.7 749.8,331.9 748.8,331.1 747.8,330.3 746.8,329.6 745.8,328.9 744.7,328.2 743.7,327.6 742.7,326.9 741.7,326.4 740.7,325.8 739.7,325.3 738.7,324.8 737.7,324.3 736.7,323.9 735.7,323.5 734.7,323.1 733.7,322.7 732.7,322.4 731.7,322.1 730.7,321.8 729.7,321.6 728.7,321.4 727.7,321.2 726.7,321.1 725.7,320.9 724.7,320.9 723.7,320.8 722.7,320.8 721.7,320.8 720.7,320.8 719.7,320.9 718.7,321 717.7,321.1 716.7,321.2 715.7,321.4 714.7,321.6 713.6,321.8 712.6,322.1 711.6,322.4 710.6,322.7 709.6,323.1 708.6,323.5 707.6,323.9 706.6,324.3 705.6,324.8 704.6,325.3 703.6,325.8 702.6,326.4 701.6,327 700.6,327.6 699.6,328.2 698.6,328.9 697.6,329.6 696.6,330.4 695.6,331.1 694.6,331.9 693.6,332.8 692.6,333.6 691.6,334.5 690.6,335.4 689.6,336.4 688.6,337.3 687.6,338.3 686.6,339.2 685.6,340.2 684.6,341.2 683.6,342.2 682.5,343.3 681.5,344.3 680.5,345.4 679.5,346.5 678.5,347.6 677.5,348.7 676.5,349.8 675.5,350.9 674.5,352.1 673.5,353.2 672.5,354.4 671.5,355.5 670.5,356.7 669.5,357.8 668.5,359 667.5,360.2 666.5,361.2 665.5,362.2 664.5,363.2 663.5,364.2 662.5,365.2 661.5,366.3 660.5,367.3 659.5,368.3 658.5,369.3 657.5,370.3 656.5,371.3 655.5,372.4 654.5,373.4 653.5,374.4 652.5,375.5 651.4,376.6 650.4,377.6 649.4,378.7 648.4,379.8 647.4,380.9 646.4,381.9 645.4,383 644.4,384.1 643.4,385.2M559.2,358.5 560.2,357.4 561.2,356.2 562.2,355.1 563.2,354 564.2,352.8 565.2,351.7 566.2,350.6 567.2,349.5 568.2,348.4 569.2,347.3 570.2,346.2 571.2,345.2 572.2,344.1 573.2,343.1 574.2,342.1 575.2,341.1 576.2,340.1 577.2,339.1 578.2,338.2 579.2,337.2 580.2,336.3 581.2,335.4 582.2,334.5 583.2,333.6 584.2,332.7 585.2,331.9 586.2,331.1 587.2,330.3 588.2,329.6 589.2,328.9 590.3,328.2 591.3,327.6 592.3,326.9 593.3,326.4 594.3,325.8 595.3,325.3 596.3,324.8 597.3,324.3 598.3,323.9 599.3,323.5 600.3,323.1 601.3,322.7 602.3,322.4 603.3,322.1 604.3,321.8 605.3,321.6 606.3,321.4 607.3,321.2 608.3,321.1 609.3,320.9 610.3,320.9 611.3,320.8 612.3,320.8 613.3,320.8 614.3,320.8 615.3,320.9 616.3,321 617.3,321.1 618.3,321.2 619.3,321.4 620.3,321.6 621.4,321.8 622.4,322.1 623.4,322.4 624.4,322.7 625.4,323.1 626.4,323.5 627.4,323.9 628.4,324.3 629.4,324.8 630.4,325.3 631.4,325.8 632.4,326.4 633.4,327 634.4,327.6 635.4,328.2 636.4,328.9 637.4,329.6 638.4,330.4 639.4,331.1 640.4,331.9 641.4,332.8 642.4,333.6 643.4,334.5 644.4,335.4 645.4,336.4 646.4,337.3 647.4,338.3 648.4,339.2 649.4,340.2 650.4,341.2 651.4,342.2 652.5,343.3 653.5,344.3 654.5,345.4 655.5,346.5 656.5,347.6 657.5,348.7 658.5,349.8 659.5,350.9 660.5,352.1 661.5,353.2 662.5,354.4 663.5,355.5 664.5,356.7 665.5,357.8 666.5,359 667.5,360.2 668.5,361.2 669.5,362.2 670.5,363.2 671.5,364.2 672.5,365.2 673.5,366.3 674.5,367.3 675.5,368.3 676.5,369.3 677.5,370.3 678.5,371.3 679.5,372.4 680.5,373.4 681.5,374.4 682.5,375.5 683.6,376.6 684.6,377.6 685.6,378.7 686.6,379.8 687.6,380.9 688.6,381.9 689.6,383 690.6,384.1 691.6,385.2M787.9,370.7 786.9,369.7 785.9,368.7 784.9,367.7 783.9,366.6 782.9,365.6 781.9,364.6 780.9,363.6 779.9,362.6 778.9,361.6 777.9,360.5 776.8,359.5 775.8,358.6 774.8,357.6 773.8,356.6 772.8,355.6 771.8,354.6 770.8,353.7 769.8,352.7 768.8,351.7 767.8,350.8 766.8,349.9 765.8,349 764.8,348.1 763.8,347.2 762.8,346.3 761.8,345.5 760.8,344.6 759.8,343.8 758.8,343 757.8,342.2 756.8,341.5 755.8,340.7 754.8,340 753.8,339.3 752.8,338.6 751.8,338 750.8,337.4 749.8,336.8 748.8,336.2 747.8,335.6 746.8,335.1 745.8,334.6 744.7,334.1 743.7,333.6 742.7,333.2 741.7,332.7 740.7,332.4 739.7,332 738.7,331.7 737.7,331.4 736.7,331.1 735.7,330.9 734.7,330.7 733.7,330.5 732.7,330.3 731.7,330.2 730.7,330.1 729.7,330.1 728.7,330 727.7,330 726.7,330.1 725.7,330.1 724.7,330.2 723.7,330.3 722.7,330.5 721.7,330.7 720.7,330.9 719.7,331.1 718.7,331.4 717.7,331.7 716.7,332 715.7,332.4 714.7,332.8 713.6,333.2 712.6,333.6 711.6,334.1 710.6,334.6 709.6,335.1 708.6,335.7 707.6,336.2 706.6,336.8 705.6,337.4 704.6,338.1 703.6,338.7 702.6,339.4 701.6,340.1 700.6,340.8 699.6,341.6 698.6,342.4 697.6,343.1 696.6,344 695.6,344.8 694.6,345.6 693.6,346.5 692.6,347.4 691.6,348.3 690.6,349.2 689.6,350.1 688.6,351.1 687.6,352 686.6,353 685.6,354 684.6,355 683.6,356 682.5,357 681.5,358 680.5,359 679.5,360 678.5,361.1 677.5,362.1 676.5,363.1 675.5,364.2 674.5,365.2 673.5,366.3 672.5,367.3 671.5,368.4 670.5,369.4 669.5,370.5 668.5,371.5 667.5,372.6 666.5,373.5 665.5,374.5 664.5,375.4 663.5,376.4 662.5,377.3 661.5,378.3 660.5,379.3 659.5,380.3 658.5,381.3 657.5,382.3 656.5,383.3 655.5,384.3 654.5,385.4 653.5,386.4 652.5,387.4 651.4,388.5 650.4,389.5 649.4,390.6M547.1,370.7 548.1,369.7 549.1,368.7 550.1,367.7 551.1,366.6 552.1,365.6 553.1,364.6 554.1,363.6 555.1,362.6 556.1,361.6 557.1,360.5 558.2,359.5 559.2,358.6 560.2,357.6 561.2,356.6 562.2,355.6 563.2,354.6 564.2,353.7 565.2,352.7 566.2,351.7 567.2,350.8 568.2,349.9 569.2,349 570.2,348.1 571.2,347.2 572.2,346.3 573.2,345.5 574.2,344.6 575.2,343.8 576.2,343 577.2,342.2 578.2,341.5 579.2,340.7 580.2,340 581.2,339.3 582.2,338.6 583.2,338 584.2,337.4 585.2,336.8 586.2,336.2 587.2,335.6 588.2,335.1 589.2,334.6 590.3,334.1 591.3,333.6 592.3,333.2 593.3,332.7 594.3,332.4 595.3,332 596.3,331.7 597.3,331.4 598.3,331.1 599.3,330.9 600.3,330.7 601.3,330.5 602.3,330.3 603.3,330.2 604.3,330.1 605.3,330.1 606.3,330 607.3,330 608.3,330.1 609.3,330.1 610.3,330.2 611.3,330.3 612.3,330.5 613.3,330.7 614.3,330.9 615.3,331.1 616.3,331.4 617.3,331.7 618.3,332 619.3,332.4 620.3,332.8 621.4,333.2 622.4,333.6 623.4,334.1 624.4,334.6 625.4,335.1 626.4,335.7 627.4,336.2 628.4,336.8 629.4,337.4 630.4,338.1 631.4,338.7 632.4,339.4 633.4,340.1 634.4,340.8 635.4,341.6 636.4,342.4 637.4,343.1 638.4,344 639.4,344.8 640.4,345.6 641.4,346.5 642.4,347.4 643.4,348.3 644.4,349.2 645.4,350.1 646.4,351.1 647.4,352 648.4,353 649.4,354 650.4,355 651.4,356 652.5,357 653.5,358 654.5,359 655.5,360 656.5,361.1 657.5,362.1 658.5,363.1 659.5,364.2 660.5,365.2 661.5,366.3 662.5,367.3 663.5,368.4 664.5,369.4 665.5,370.5 666.5,371.5 667.5,372.6 668.5,373.5 669.5,374.5 670.5,375.4 671.5,376.4 672.5,377.3 673.5,378.3 674.5,379.3 675.5,380.3 676.5,381.3 677.5,382.3 678.5,383.3 679.5,384.3 680.5,385.4 681.5,386.4 682.5,387.4 683.6,388.5 684.6,389.5 685.6,390.6M799.9,382.5 798.9,381.5 797.9,380.5 796.9,379.5 795.9,378.5 794.9,377.5 793.9,376.5 792.9,375.5 791.9,374.5 790.9,373.5 789.9,372.6 788.9,371.7 787.9,370.7 786.9,369.8 785.9,368.9 784.9,367.9 783.9,367 782.9,366.1 781.9,365.2 780.9,364.3 779.9,363.5 778.9,362.6 777.9,361.7 776.8,360.8 775.8,360 774.8,359.1 773.8,358.3 772.8,357.5 771.8,356.7 770.8,355.9 769.8,355.1 768.8,354.4 767.8,353.6 766.8,352.9 765.8,352.1 764.8,351.4 763.8,350.7 762.8,350 761.8,349.4 760.8,348.7 759.8,348.1 758.8,347.5 757.8,346.9 756.8,346.3 755.8,345.8 754.8,345.3 753.8,344.8 752.8,344.3 751.8,343.8 750.8,343.4 749.8,343 748.8,342.6 747.8,342.2 746.8,341.9 745.8,341.6 744.7,341.3 743.7,341 742.7,340.8 741.7,340.6 740.7,340.4 739.7,340.3 738.7,340.1 737.7,340 736.7,340 735.7,339.9 734.7,339.9 733.7,339.9 732.7,339.9 731.7,340 730.7,340 729.7,340.2 728.7,340.3 727.7,340.4 726.7,340.6 725.7,340.8 724.7,341.1 723.7,341.4 722.7,341.6 721.7,342 720.7,342.3 719.7,342.7 718.7,343.1 717.7,343.5 716.7,343.9 715.7,344.4 714.7,344.9 713.6,345.4 712.6,345.9 711.6,346.5 710.6,347 709.6,347.6 708.6,348.3 707.6,348.9 706.6,349.6 705.6,350.2 704.6,350.9 703.6,351.6 702.6,352.4 701.6,353.1 700.6,353.9 699.6,354.7 698.6,355.4 697.6,356.2 696.6,357.1 695.6,357.9 694.6,358.7 693.6,359.6 692.6,360.4 691.6,361.3 690.6,362.2 689.6,363.1 688.6,364 687.6,364.9 686.6,365.8 685.6,366.7 684.6,367.6 683.6,368.6 682.5,369.5 681.5,370.5 680.5,371.4 679.5,372.4 678.5,373.3 677.5,374.3 676.5,375.3 675.5,376.3 674.5,377.3 673.5,378.3 672.5,379.3 671.5,380.4 670.5,381.4 669.5,382.4 668.5,383.5 667.5,384.5 666.5,385.5 665.5,386.4 664.5,387.4 663.5,388.3 662.5,389.3 661.5,390.2 660.5,391.2 659.5,392.2 658.5,393.2 657.5,394.2 656.5,395.1 655.5,396.1M535.1,382.5 536.1,381.5 537.1,380.5 538.1,379.5 539.1,378.5 540.1,377.5 541.1,376.5 542.1,375.5 543.1,374.5 544.1,373.5 545.1,372.6 546.1,371.7 547.1,370.7 548.1,369.8 549.1,368.9 550.1,367.9 551.1,367 552.1,366.1 553.1,365.2 554.1,364.3 555.1,363.5 556.1,362.6 557.1,361.7 558.2,360.8 559.2,360 560.2,359.1 561.2,358.3 562.2,357.5 563.2,356.7 564.2,355.9 565.2,355.1 566.2,354.4 567.2,353.6 568.2,352.9 569.2,352.1 570.2,351.4 571.2,350.7 572.2,350 573.2,349.4 574.2,348.7 575.2,348.1 576.2,347.5 577.2,346.9 578.2,346.3 579.2,345.8 580.2,345.3 581.2,344.8 582.2,344.3 583.2,343.8 584.2,343.4 585.2,343 586.2,342.6 587.2,342.2 588.2,341.9 589.2,341.6 590.3,341.3 591.3,341 592.3,340.8 593.3,340.6 594.3,340.4 595.3,340.3 596.3,340.1 597.3,340 598.3,340 599.3,339.9 600.3,339.9 601.3,339.9 602.3,339.9 603.3,340 604.3,340 605.3,340.2 606.3,340.3 607.3,340.4 608.3,340.6 609.3,340.8 610.3,341.1 611.3,341.4 612.3,341.6 613.3,342 614.3,342.3 615.3,342.7 616.3,343.1 617.3,343.5 618.3,343.9 619.3,344.4 620.3,344.9 621.4,345.4 622.4,345.9 623.4,346.5 624.4,347 625.4,347.6 626.4,348.3 627.4,348.9 628.4,349.6 629.4,350.2 630.4,350.9 631.4,351.6 632.4,352.4 633.4,353.1 634.4,353.9 635.4,354.7 636.4,355.4 637.4,356.2 638.4,357.1 639.4,357.9 640.4,358.7 641.4,359.6 642.4,360.4 643.4,361.3 644.4,362.2 645.4,363.1 646.4,364 647.4,364.9 648.4,365.8 649.4,366.7 650.4,367.6 651.4,368.6 652.5,369.5 653.5,370.5 654.5,371.4 655.5,372.4 656.5,373.3 657.5,374.3 658.5,375.3 659.5,376.3 660.5,377.3 661.5,378.3 662.5,379.3 663.5,380.4 664.5,381.4 665.5,382.4 666.5,383.5 667.5,384.5 668.5,385.5 669.5,386.4 670.5,387.4 671.5,388.3 672.5,389.3 673.5,390.2 674.5,391.2 675.5,392.2 676.5,393.2 677.5,394.2 678.5,395.1 679.5,396.1M812,394.1 811,393.1 810,392.1 809,391.1 807.9,390.2 806.9,389.2 805.9,388.2 804.9,387.2 803.9,386.3 802.9,385.3 801.9,384.4 800.9,383.4 799.9,382.5 798.9,381.6 797.9,380.6 796.9,379.7 795.9,378.8 794.9,377.9 793.9,377 792.9,376.1 791.9,375.3 790.9,374.4 789.9,373.6 788.9,372.7 787.9,371.9 786.9,371.1 785.9,370.3 784.9,369.5 783.9,368.7 782.9,367.9 781.9,367.1 780.9,366.4 779.9,365.6 778.9,364.9 777.9,364.2 776.8,363.5 775.8,362.8 774.8,362.1 773.8,361.4 772.8,360.7 771.8,360.1 770.8,359.4 769.8,358.8 768.8,358.2 767.8,357.6 766.8,357.1 765.8,356.5 764.8,356 763.8,355.5 762.8,355 761.8,354.5 760.8,354.1 759.8,353.6 758.8,353.2 757.8,352.8 756.8,352.4 755.8,352.1 754.8,351.7 753.8,351.4 752.8,351.1 751.8,350.8 750.8,350.6 749.8,350.4 748.8,350.2 747.8,350 746.8,349.8 745.8,349.7 744.7,349.6 743.7,349.5 742.7,349.4 741.7,349.4 740.7,349.3 739.7,349.3 738.7,349.4 737.7,349.4 736.7,349.5 735.7,349.6 734.7,349.7 733.7,349.9 732.7,350 731.7,350.2 730.7,350.4 729.7,350.7 728.7,350.9 727.7,351.2 726.7,351.5 725.7,351.8 724.7,352.2 723.7,352.6 722.7,353 721.7,353.4 720.7,353.8 719.7,354.2 718.7,354.7 717.7,355.2 716.7,355.7 715.7,356.2 714.7,356.8 713.6,357.3 712.6,357.9 711.6,358.5 710.6,359.1 709.6,359.7 708.6,360.4 707.6,361 706.6,361.7 705.6,362.4 704.6,363.1 703.6,363.9 702.6,364.6 701.6,365.3 700.6,366.1 699.6,366.9 698.6,367.6 697.6,368.4 696.6,369.2 695.6,370 694.6,370.9 693.6,371.7 692.6,372.5 691.6,373.4 690.6,374.2 689.6,375.1 688.6,376 687.6,376.9 686.6,377.8 685.6,378.7 684.6,379.6 683.6,380.5 682.5,381.5 681.5,382.4 680.5,383.4 679.5,384.3 678.5,385.3 677.5,386.3 676.5,387.3 675.5,388.2 674.5,389.2 673.5,390.2 672.5,391.2 671.5,392.2 670.5,393.3 669.5,394.3 668.5,395.3 667.5,396.3 666.5,397.2 665.5,398.2 664.5,399.1 663.5,400 662.5,401 661.5,401.9M523,394.1 524,393.1 525,392.1 526,391.1 527.1,390.2 528.1,389.2 529.1,388.2 530.1,387.2 531.1,386.3 532.1,385.3 533.1,384.4 534.1,383.4 535.1,382.5 536.1,381.6 537.1,380.6 538.1,379.7 539.1,378.8 540.1,377.9 541.1,377 542.1,376.1 543.1,375.3 544.1,374.4 545.1,373.6 546.1,372.7 547.1,371.9 548.1,371.1 549.1,370.3 550.1,369.5 551.1,368.7 552.1,367.9 553.1,367.1 554.1,366.4 555.1,365.6 556.1,364.9 557.1,364.2 558.2,363.5 559.2,362.8 560.2,362.1 561.2,361.4 562.2,360.7 563.2,360.1 564.2,359.4 565.2,358.8 566.2,358.2 567.2,357.6 568.2,357.1 569.2,356.5 570.2,356 571.2,355.5 572.2,355 573.2,354.5 574.2,354.1 575.2,353.6 576.2,353.2 577.2,352.8 578.2,352.4 579.2,352.1 580.2,351.7 581.2,351.4 582.2,351.1 583.2,350.8 584.2,350.6 585.2,350.4 586.2,350.2 587.2,350 588.2,349.8 589.2,349.7 590.3,349.6 591.3,349.5 592.3,349.4 593.3,349.4 594.3,349.3 595.3,349.3 596.3,349.4 597.3,349.4 598.3,349.5 599.3,349.6 600.3,349.7 601.3,349.9 602.3,350 603.3,350.2 604.3,350.4 605.3,350.7 606.3,350.9 607.3,351.2 608.3,351.5 609.3,351.8 610.3,352.2 611.3,352.6 612.3,353 613.3,353.4 614.3,353.8 615.3,354.2 616.3,354.7 617.3,355.2 618.3,355.7 619.3,356.2 620.3,356.8 621.4,357.3 622.4,357.9 623.4,358.5 624.4,359.1 625.4,359.7 626.4,360.4 627.4,361 628.4,361.7 629.4,362.4 630.4,363.1 631.4,363.9 632.4,364.6 633.4,365.3 634.4,366.1 635.4,366.9 636.4,367.6 637.4,368.4 638.4,369.2 639.4,370 640.4,370.9 641.4,371.7 642.4,372.5 643.4,373.4 644.4,374.2 645.4,375.1 646.4,376 647.4,376.9 648.4,377.8 649.4,378.7 650.4,379.6 651.4,380.5 652.5,381.5 653.5,382.4 654.5,383.4 655.5,384.3 656.5,385.3 657.5,386.3 658.5,387.3 659.5,388.2 660.5,389.2 661.5,390.2 662.5,391.2 663.5,392.2 664.5,393.3 665.5,394.3 666.5,395.3 667.5,396.3 668.5,397.2 669.5,398.2 670.5,399.1 671.5,400 672.5,401 673.5,401.9M824,405.5 823,404.5 822,403.5 821,402.6 820,401.6 819,400.7 818,399.7 817,398.8 816,397.8 815,396.9 814,396 813,395 812,394.1 811,393.2 810,392.3 809,391.4 807.9,390.5 806.9,389.6 805.9,388.7 804.9,387.8 803.9,387 802.9,386.1 801.9,385.3 800.9,384.4 799.9,383.6 798.9,382.7 797.9,381.9 796.9,381.1 795.9,380.3 794.9,379.5 793.9,378.7 792.9,378 791.9,377.2 790.9,376.4 789.9,375.7 788.9,375 787.9,374.3 786.9,373.6 785.9,372.9 784.9,372.2 783.9,371.5 782.9,370.9 781.9,370.2 780.9,369.6 779.9,369 778.9,368.4 777.9,367.8 776.8,367.3 775.8,366.7 774.8,366.2 773.8,365.7 772.8,365.1 771.8,364.7 770.8,364.2 769.8,363.7 768.8,363.3 767.8,362.8 766.8,362.4 765.8,362 764.8,361.6 763.8,361.3 762.8,360.9 761.8,360.6 760.8,360.3 759.8,360 758.8,359.8 757.8,359.5 756.8,359.3 755.8,359.1 754.8,358.9 753.8,358.7 752.8,358.6 751.8,358.5 750.8,358.4 749.8,358.3 748.8,358.2 747.8,358.2 746.8,358.2 745.8,358.2 744.7,358.2 743.7,358.2 742.7,358.3 741.7,358.4 740.7,358.5 739.7,358.6 738.7,358.8 737.7,359 736.7,359.2 735.7,359.4 734.7,359.6 733.7,359.9 732.7,360.2 731.7,360.5 730.7,360.8 729.7,361.1 728.7,361.5 727.7,361.8 726.7,362.2 725.7,362.6 724.7,363.1 723.7,363.5 722.7,364 721.7,364.4 720.7,364.9 719.7,365.5 718.7,366 717.7,366.5 716.7,367.1 715.7,367.6 714.7,368.2 713.6,368.8 712.6,369.4 711.6,370.1 710.6,370.7 709.6,371.4 708.6,372 707.6,372.7 706.6,373.4 705.6,374.1 704.6,374.8 703.6,375.6 702.6,376.3 701.6,377.1 700.6,377.8 699.6,378.6 698.6,379.4 697.6,380.2 696.6,381 695.6,381.8 694.6,382.7 693.6,383.5 692.6,384.4 691.6,385.2 690.6,386.1 689.6,387 688.6,387.9 687.6,388.8 686.6,389.7 685.6,390.6 684.6,391.5 683.6,392.4 682.5,393.3 681.5,394.3 680.5,395.2 679.5,396.1 678.5,397.1 677.5,398.1 676.5,399 675.5,400 674.5,401 673.5,401.9 672.5,402.9 671.5,403.9 670.5,404.9 669.5,405.9 668.5,406.9 667.5,407.9M511,405.5 512,404.5 513,403.5 514,402.6 515,401.6 516,400.7 517,399.7 518,398.8 519,397.8 520,396.9 521,396 522,395 523,394.1 524,393.2 525,392.3 526,391.4 527.1,390.5 528.1,389.6 529.1,388.7 530.1,387.8 531.1,387 532.1,386.1 533.1,385.3 534.1,384.4 535.1,383.6 536.1,382.7 537.1,381.9 538.1,381.1 539.1,380.3 540.1,379.5 541.1,378.7 542.1,378 543.1,377.2 544.1,376.4 545.1,375.7 546.1,375 547.1,374.3 548.1,373.6 549.1,372.9 550.1,372.2 551.1,371.5 552.1,370.9 553.1,370.2 554.1,369.6 555.1,369 556.1,368.4 557.1,367.8 558.2,367.3 559.2,366.7 560.2,366.2 561.2,365.7 562.2,365.1 563.2,364.7 564.2,364.2 565.2,363.7 566.2,363.3 567.2,362.8 568.2,362.4 569.2,362 570.2,361.6 571.2,361.3 572.2,360.9 573.2,360.6 574.2,360.3 575.2,360 576.2,359.8 577.2,359.5 578.2,359.3 579.2,359.1 580.2,358.9 581.2,358.7 582.2,358.6 583.2,358.5 584.2,358.4 585.2,358.3 586.2,358.2 587.2,358.2 588.2,358.2 589.2,358.2 590.3,358.2 591.3,358.2 592.3,358.3 593.3,358.4 594.3,358.5 595.3,358.6 596.3,358.8 597.3,359 598.3,359.2 599.3,359.4 600.3,359.6 601.3,359.9 602.3,360.2 603.3,360.5 604.3,360.8 605.3,361.1 606.3,361.5 607.3,361.8 608.3,362.2 609.3,362.6 610.3,363.1 611.3,363.5 612.3,364 613.3,364.4 614.3,364.9 615.3,365.5 616.3,366 617.3,366.5 618.3,367.1 619.3,367.6 620.3,368.2 621.4,368.8 622.4,369.4 623.4,370.1 624.4,370.7 625.4,371.4 626.4,372 627.4,372.7 628.4,373.4 629.4,374.1 630.4,374.8 631.4,375.6 632.4,376.3 633.4,377.1 634.4,377.8 635.4,378.6 636.4,379.4 637.4,380.2 638.4,381 639.4,381.8 640.4,382.7 641.4,383.5 642.4,384.4 643.4,385.2 644.4,386.1 645.4,387 646.4,387.9 647.4,388.8 648.4,389.7 649.4,390.6 650.4,391.5 651.4,392.4 652.5,393.3 653.5,394.3 654.5,395.2 655.5,396.1 656.5,397.1 657.5,398.1 658.5,399 659.5,400 660.5,401 661.5,401.9 662.5,402.9 663.5,403.9 664.5,404.9 665.5,405.9 666.5,406.9 667.5,407.9" fill="none" stroke="#0a1520" stroke-width="1.0" stroke-opacity="0.9"/><path d="M511,404.7 513,402.7 515,400.8 517,398.9 519,396.6 521,394.7 523,392.9 525,391 527.1,389.1 529.1,387.2 531.1,385.3 533.1,383.4 535.1,381.5 537.1,379.2 539.1,377.3 541.1,375.3 543.1,373.4 545.1,371.5 547.1,369.6 549.1,367.7 551.1,365.7 553.1,363.7 555.1,361.3 557.1,359.3 559.2,357.2 561.2,355.1 563.2,352.9 565.2,350.7 567.2,348.5 569.2,346.2 571.2,343.5 573.2,341.2 575.2,338.9 577.2,336.5 579.2,334.2 581.2,331.8 583.2,329.4 585.2,327.2 587.2,325 589.2,322.4 591.3,320.3 593.3,318.2 595.3,316.1 597.3,314.1 599.3,312 601.3,310 603.3,308.1 605.3,306.1 607.3,303.8 609.3,301.9 611.3,300 613.3,298.1 615.3,296.3 617.3,294.4 619.3,292.6 621.4,290.8 623.4,288.7 625.4,287 627.4,285.3 629.4,283.6 631.4,281.9 633.4,280.3 635.4,278.7 637.4,277.1 639.4,275.4 641.4,273.5 643.4,271.9 645.4,270.4 647.4,269 649.4,267.6 651.4,266.3 653.5,265.2 655.5,264.2 657.5,263.3 659.5,262.2 661.5,261.4 663.5,260.7 665.5,260 667.5,259.8 669.5,260 671.5,260.7 673.5,261.4 675.5,262.2 677.5,263.3 679.5,264.2 681.5,265.2 683.6,266.3 685.6,267.6 687.6,269 689.6,270.4 691.6,271.9 693.6,273.5 695.6,275.4 697.6,277.1 699.6,278.7 701.6,280.3 703.6,281.9 705.6,283.6 707.6,285.3 709.6,287 711.6,288.7 713.6,290.8 715.7,292.6 717.7,294.4 719.7,296.3 721.7,298.1 723.7,300 725.7,301.9 727.7,303.8 729.7,306.1 731.7,308.1 733.7,310 735.7,312 737.7,314.1 739.7,316.1 741.7,318.2 743.7,320.3 745.8,322.4 747.8,325 749.8,327.2 751.8,329.4 753.8,331.8 755.8,334.2 757.8,336.5 759.8,338.9 761.8,341.2 763.8,343.5 765.8,346.2 767.8,348.5 769.8,350.7 771.8,352.9 773.8,355.1 775.8,357.2 777.9,359.3 779.9,361.3 781.9,363.7 783.9,365.7 785.9,367.7 787.9,369.6 789.9,371.5 791.9,373.4 793.9,375.3 795.9,377.3 797.9,379.2 799.9,381.5 801.9,383.4 803.9,385.3 805.9,387.2 807.9,389.1 810,391 812,392.9 814,394.7 816,396.6 818,398.9 820,400.8 822,402.7 824,404.7 824,405.5 822,404.4 820,402.5 818,400.7 816,398.8 814,396.6 812,394.7 810,392.9 807.9,391.2 805.9,389.4 803.9,387.7 801.9,386 799.9,384.3 797.9,382.7 795.9,380.8 793.9,379.3 791.9,377.7 789.9,376.3 787.9,374.8 785.9,373.5 783.9,372.1 781.9,370.8 779.9,369.6 777.9,368.2 775.8,367.1 773.8,366 771.8,365 769.8,364.1 767.8,363.2 765.8,362.4 763.8,361.6 761.8,360.8 759.8,360.2 757.8,359.7 755.8,359.2 753.8,358.9 751.8,358.6 749.8,358.3 747.8,358.2 745.8,358.2 743.7,358.3 741.7,358.5 739.7,358.8 737.7,359.1 735.7,359.6 733.7,360.1 731.7,360.7 729.7,361.3 727.7,362.2 725.7,363 723.7,363.9 721.7,364.9 719.7,365.9 717.7,366.9 715.7,368 713.6,369.2 711.6,370.7 709.6,372 707.6,373.3 705.6,374.7 703.6,376.2 701.6,377.6 699.6,379.2 697.6,380.8 695.6,382.4 693.6,384.4 691.6,386 689.6,387.8 687.6,389.5 685.6,391.3 683.6,393.1 681.5,394.9 679.5,396.8 677.5,398.6 675.5,400.9 673.5,402.8 671.5,404.8 669.5,406.7 667.5,407.9 665.5,406.7 663.5,404.8 661.5,402.8 659.5,400.9 657.5,398.6 655.5,396.8 653.5,394.9 651.4,393.1 649.4,391.3 647.4,389.5 645.4,387.8 643.4,386 641.4,384.4 639.4,382.4 637.4,380.8 635.4,379.2 633.4,377.6 631.4,376.2 629.4,374.7 627.4,373.3 625.4,372 623.4,370.7 621.4,369.2 619.3,368 617.3,366.9 615.3,365.9 613.3,364.9 611.3,363.9 609.3,363 607.3,362.2 605.3,361.3 603.3,360.7 601.3,360.1 599.3,359.6 597.3,359.1 595.3,358.8 593.3,358.5 591.3,358.3 589.2,358.2 587.2,358.2 585.2,358.3 583.2,358.6 581.2,358.9 579.2,359.2 577.2,359.7 575.2,360.2 573.2,360.8 571.2,361.6 569.2,362.4 567.2,363.2 565.2,364.1 563.2,365 561.2,366 559.2,367.1 557.1,368.2 555.1,369.6 553.1,370.8 551.1,372.1 549.1,373.5 547.1,374.8 545.1,376.3 543.1,377.7 541.1,379.3 539.1,380.8 537.1,382.7 535.1,384.3 533.1,386 531.1,387.7 529.1,389.4 527.1,391.2 525,392.9 523,394.7 521,396.6 519,398.8 517,400.7 515,402.5 513,404.4 511,405.5Z" fill="none" stroke="#0a1520" stroke-width="0.7" stroke-opacity="0.9"/><text x="489.5" y="191" font-size="26" text-anchor="end">-0.0</text><text x="489" y="283" font-size="26" text-anchor="end">-0.1</text><text x="489.5" y="374" font-size="26" text-anchor="end">-0.2</text><text transform="translate(426.5,290.3) rotate(-90)" font-size="29.5" text-anchor="middle">E (eV)</text><text x="500.9" y="465.2" font-size="26" text-anchor="middle">-0.04</text><text x="584.3" y="467.3" font-size="26" text-anchor="middle">-0.0</text><text x="664.3" y="467.3" font-size="26" text-anchor="middle">0.04</text><text x="744.5" y="467.3" font-size="26" text-anchor="middle">0.0</text><text x="818.8" y="467.3" font-size="26" text-anchor="middle">-0.04</text><text x="578" y="507.5" font-size="29.5" font-style="italic">k</text><text x="593" y="513.8" font-size="20">z</text><text x="736" y="505.3" font-size="29.5" font-style="italic">k</text><text x="750.5" y="512.2" font-size="20">x</text>
</g>
</svg></body></html>
